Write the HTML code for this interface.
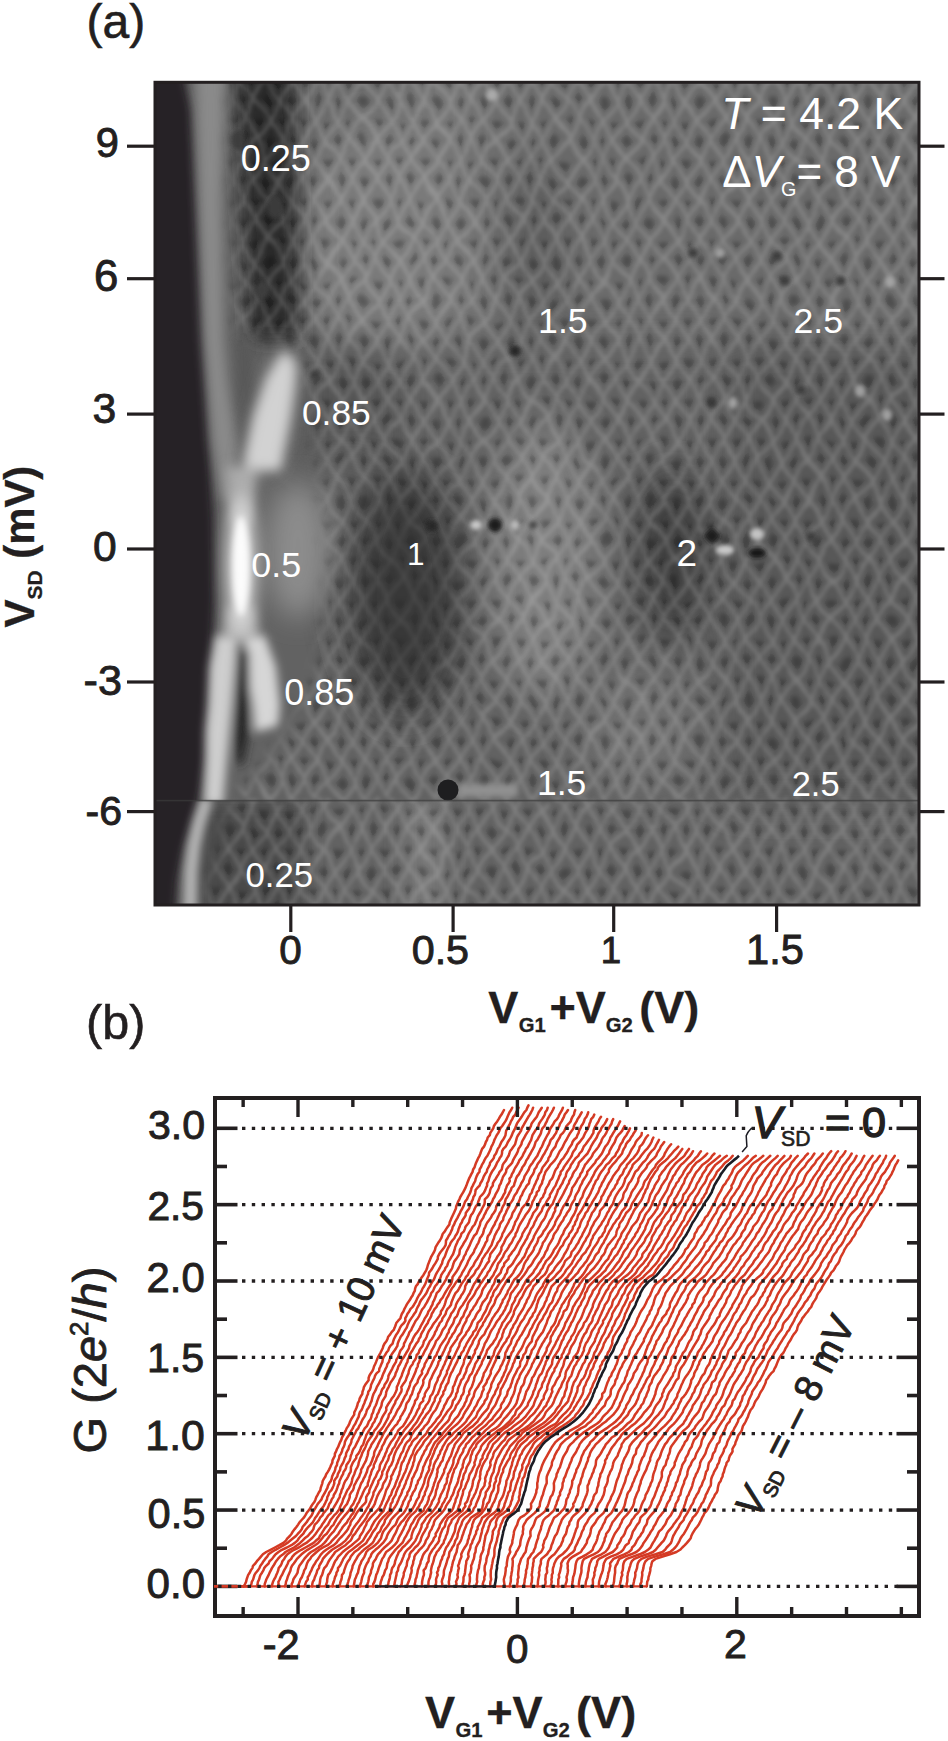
<!DOCTYPE html>
<html><head><meta charset="utf-8"><style>
html,body{margin:0;padding:0;background:#fff;width:948px;height:1741px;overflow:hidden}
svg{display:block}
text{font-family:"Liberation Sans",sans-serif}
</style></head><body>
<svg width="948" height="1741" viewBox="0 0 948 1741">
<rect width="948" height="1741" fill="#fff"/>

<defs>
<clipPath id="ca"><rect x="154" y="81" width="764" height="824"/></clipPath>
<clipPath id="cup"><rect x="154" y="81" width="764" height="719.5"/></clipPath>
<clipPath id="cdn"><rect x="154" y="800.5" width="764" height="104.5"/></clipPath>
<filter id="f2" filterUnits="userSpaceOnUse" x="0" y="0" width="948" height="1000"><feGaussianBlur stdDeviation="2"/></filter>
<filter id="f3" filterUnits="userSpaceOnUse" x="0" y="0" width="948" height="1000"><feGaussianBlur stdDeviation="3"/></filter>
<filter id="f4" filterUnits="userSpaceOnUse" x="0" y="0" width="948" height="1000"><feGaussianBlur stdDeviation="4"/></filter>
<filter id="f5" filterUnits="userSpaceOnUse" x="0" y="0" width="948" height="1000"><feGaussianBlur stdDeviation="5"/></filter>
<filter id="f6" filterUnits="userSpaceOnUse" x="0" y="0" width="948" height="1000"><feGaussianBlur stdDeviation="6"/></filter>
<filter id="f8" filterUnits="userSpaceOnUse" x="0" y="0" width="948" height="1000"><feGaussianBlur stdDeviation="8"/></filter>
<filter id="f10" filterUnits="userSpaceOnUse" x="0" y="0" width="948" height="1000"><feGaussianBlur stdDeviation="10"/></filter>
<filter id="f14" filterUnits="userSpaceOnUse" x="0" y="0" width="948" height="1000"><feGaussianBlur stdDeviation="14"/></filter>
<filter id="f20" filterUnits="userSpaceOnUse" x="0" y="0" width="948" height="1000"><feGaussianBlur stdDeviation="20"/></filter>
<filter id="f30" filterUnits="userSpaceOnUse" x="0" y="0" width="948" height="1000"><feGaussianBlur stdDeviation="30"/></filter>
<pattern id="mesh" width="24" height="40" patternUnits="userSpaceOnUse" patternTransform="translate(4,0)"><path d="M0,0 L12,20 L0,40 M24,0 L12,20 L24,40" fill="none" stroke="#fff" stroke-opacity="0.2" stroke-width="3.2"/><ellipse cx="12" cy="2" rx="3.6" ry="6" fill="#000" fill-opacity="0.26"/><ellipse cx="0" cy="22" rx="3.6" ry="6" fill="#000" fill-opacity="0.26"/><ellipse cx="24" cy="22" rx="3.6" ry="6" fill="#000" fill-opacity="0.26"/></pattern>
<pattern id="mesh2" width="24" height="40" patternUnits="userSpaceOnUse" patternTransform="translate(13,9)"><path d="M0,0 L12,20 L0,40 M24,0 L12,20 L24,40" fill="none" stroke="#fff" stroke-opacity="0.2" stroke-width="3.2"/><ellipse cx="12" cy="2" rx="3.6" ry="6" fill="#000" fill-opacity="0.26"/><ellipse cx="0" cy="22" rx="3.6" ry="6" fill="#000" fill-opacity="0.26"/><ellipse cx="24" cy="22" rx="3.6" ry="6" fill="#000" fill-opacity="0.26"/></pattern>
<filter id="disp" filterUnits="userSpaceOnUse" x="150" y="78" width="775" height="830"><feTurbulence type="fractalNoise" baseFrequency="0.03 0.02" numOctaves="2" seed="2" result="n"/><feDisplacementMap in="SourceGraphic" in2="n" scale="16" xChannelSelector="R" yChannelSelector="G" result="d"/><feGaussianBlur in="d" stdDeviation="2"/></filter>
<mask id="meshmask" maskUnits="userSpaceOnUse" x="150" y="78" width="775" height="830"><rect x="150" y="78" width="775" height="830" fill="#fff"/><g filter="url(#f8)"><polygon points="150,70 232,70 236,330 300,345 320,470 330,560 320,660 290,730 240,790 226,812 205,905 150,905" fill="#000"/></g><g filter="url(#f20)"><ellipse cx="405" cy="592" rx="45" ry="100" fill="#666"/></g></mask>
</defs>
<g clip-path="url(#ca)">
<rect x="154" y="81" width="764" height="824" fill="#626262"/>
<g filter="url(#f20)">
<rect x="290" y="40" width="680" height="300" fill="#6a6a6a"/>
<rect x="405" y="40" width="80" height="300" fill="#747474"/>
<ellipse cx="405" cy="592" rx="60" ry="128" fill="#383838"/>
<ellipse cx="545" cy="560" rx="55" ry="140" fill="#7e7e7e"/>
<ellipse cx="640" cy="730" rx="60" ry="60" fill="#707070"/>
<ellipse cx="672" cy="555" rx="38" ry="88" fill="#3e3e3e"/>
<ellipse cx="380" cy="240" rx="80" ry="120" fill="#7a7a7a"/>
<ellipse cx="535" cy="250" rx="25" ry="90" fill="#585858"/>
<path d="M830,600 L750,790" stroke="#464646" stroke-width="40" fill="none"/>
<rect x="300" y="340" width="100" height="120" fill="#545454"/>
<rect x="725" y="340" width="220" height="460" fill="#585858"/>
</g>
<g filter="url(#f10)">
<path d="M232,60 L295,60 L300,340 L250,340 Z" fill="#2a2a2a"/>
</g>
<g filter="url(#f14)">
<ellipse cx="298" cy="550" rx="32" ry="68" fill="#8c8c8c"/>
</g>
<g clip-path="url(#cdn)"><g filter="url(#f10)">
<rect x="195" y="800" width="110" height="120" fill="#484848"/>
<rect x="405" y="800" width="40" height="120" fill="#767676"/>
</g></g>
<g filter="url(#f4)">
<path d="M140,70 L184,70 L186,84 L192,110 L197,200 L203,320 L207,390 L210,450 L214,520 L215,600 L211,680 L206,760 L200,800 L192,825 L184,850 L178,880 L175,920 L140,920 Z" fill="#252328"/>
</g>
<g filter="url(#f6)">
<polygon points="195,70 199,200 204,340 212,440 222,500 238,500 236,440 228,384 224,340 222,200 226,70" fill="#8a8a8a"/>
</g>
<g filter="url(#f4)">
<polygon points="236,340 252,350 256,400 252,448 244,455 238,400" fill="#585858"/>
</g>
<g mask="url(#meshmask)"><g filter="url(#disp)"><rect x="214" y="71" width="714" height="729.5" fill="url(#mesh)"/><rect x="200" y="800.5" width="728" height="114.5" fill="url(#mesh2)"/></g></g>
<g filter="url(#f10)">
<polygon points="283,350 296,365 293,400 284,440 270,470 246,470 256,420 270,375" fill="#969696"/>
</g>
<g filter="url(#f6)">
<polygon points="284,350 295,362 295,378 290,416 283,454 281,470 244,470 246,454 254,416 267,378" fill="#d2d2d2"/>
<polygon points="226,467 258,467 251,525 232,525" fill="#acacac"/>
<polygon points="228,606 254,606 260,641 221,641" fill="#acacac"/>
</g>
<g filter="url(#f8)">
<ellipse cx="241" cy="566" rx="15" ry="72" fill="#d7d7d7"/>
</g>
<g filter="url(#f3)">
<ellipse cx="241" cy="566" rx="8.5" ry="50" fill="#fcfcfc"/>
</g>
<g clip-path="url(#cup)"><g filter="url(#f5)">
<polygon points="216,636 237,636 235,667 232,705 229.7,730 227,760 223,805 204,805 206,760 206,730 208.5,705 209.8,667" fill="#cecece"/>
<polygon points="245,636 265,636 276,667 280,705 278,726 255,732 252.8,705 246.5,667" fill="#d6d6d6"/>
<polygon points="237,650 249,650 250,700 248,740 243,765 237,765 234,740 235,700" fill="#282828"/>
</g></g>
<g clip-path="url(#cdn)"><g filter="url(#f4)">
<path d="M207,798 L199,823 L194,845 L191,870 L190,915" stroke="#b6b6b6" stroke-width="13" fill="none"/>
</g></g>
<g filter="url(#f3)"><rect x="458" y="784" width="60" height="13" fill="#919191"/></g>
<g filter="url(#f2)">
<ellipse cx="515" cy="351" rx="6" ry="6" fill="#282828"/>
<ellipse cx="432" cy="526" rx="6" ry="6" fill="#282828"/>
<ellipse cx="495" cy="525" rx="7" ry="7" fill="#1e1e1e"/>
<ellipse cx="533" cy="525" rx="4" ry="4" fill="#464646"/>
<ellipse cx="757" cy="553" rx="9" ry="5" fill="#191919"/>
<ellipse cx="811" cy="537" rx="5" ry="5" fill="#3c3c3c"/>
<ellipse cx="693" cy="253" rx="5" ry="5" fill="#3c3c3c"/>
<ellipse cx="777" cy="256" rx="5" ry="5" fill="#3c3c3c"/>
<ellipse cx="785" cy="281" rx="5" ry="5" fill="#3c3c3c"/>
<ellipse cx="841" cy="281" rx="5" ry="5" fill="#3c3c3c"/>
<ellipse cx="712" cy="403" rx="5" ry="5" fill="#373737"/>
<ellipse cx="801" cy="390" rx="5" ry="5" fill="#3c3c3c"/>
<ellipse cx="315" cy="375" rx="5" ry="5" fill="#3c3c3c"/>
<ellipse cx="238" cy="140" rx="7" ry="10" fill="#3c3c3c"/>
<ellipse cx="275" cy="207" rx="8" ry="12" fill="#3a3a3a"/>
<ellipse cx="262" cy="290" rx="7" ry="9" fill="#3e3e3e"/>
<path d="M712,527 L721,536 L712,545 L703,536 Z" fill="#1c1c1c"/>
<ellipse cx="476" cy="525" rx="6" ry="5" fill="#c8c8c8"/>
<ellipse cx="515" cy="525" rx="5" ry="5" fill="#b9b9b9"/>
<ellipse cx="725" cy="550" rx="9" ry="5" fill="#c8c8c8"/>
<ellipse cx="757" cy="534" rx="7" ry="6" fill="#c3c3c3"/>
<ellipse cx="492" cy="95" rx="6" ry="6" fill="#aaaaaa"/>
<ellipse cx="720" cy="253" rx="5" ry="5" fill="#a0a0a0"/>
<ellipse cx="890" cy="282" rx="5" ry="6" fill="#a5a5a5"/>
<ellipse cx="733" cy="403" rx="5" ry="6" fill="#a0a0a0"/>
<ellipse cx="860" cy="391" rx="5" ry="6" fill="#a0a0a0"/>
<ellipse cx="887" cy="415" rx="5" ry="6" fill="#a0a0a0"/>
</g>
<circle cx="448" cy="790" r="10.5" fill="#1e1e20"/>
<rect x="154" y="799.8" width="764" height="1.6" fill="#3c3c3c" opacity="0.7"/>
</g>
<rect x="155" y="82.3" width="764" height="822.7" fill="none" stroke="#231f20" stroke-width="3"/>
<line x1="127" y1="146.2" x2="154" y2="146.2" stroke="#231f20" stroke-width="3.2"/>
<line x1="918" y1="146.2" x2="944.5" y2="146.2" stroke="#231f20" stroke-width="3.2"/>
<line x1="127" y1="278.7" x2="154" y2="278.7" stroke="#231f20" stroke-width="3.2"/>
<line x1="918" y1="278.7" x2="944.5" y2="278.7" stroke="#231f20" stroke-width="3.2"/>
<line x1="127" y1="414.1" x2="154" y2="414.1" stroke="#231f20" stroke-width="3.2"/>
<line x1="918" y1="414.1" x2="944.5" y2="414.1" stroke="#231f20" stroke-width="3.2"/>
<line x1="127" y1="549" x2="154" y2="549" stroke="#231f20" stroke-width="3.2"/>
<line x1="918" y1="549" x2="944.5" y2="549" stroke="#231f20" stroke-width="3.2"/>
<line x1="127" y1="682" x2="154" y2="682" stroke="#231f20" stroke-width="3.2"/>
<line x1="918" y1="682" x2="944.5" y2="682" stroke="#231f20" stroke-width="3.2"/>
<line x1="127" y1="811.6" x2="154" y2="811.6" stroke="#231f20" stroke-width="3.2"/>
<line x1="918" y1="811.6" x2="944.5" y2="811.6" stroke="#231f20" stroke-width="3.2"/>
<line x1="290.8" y1="905" x2="290.8" y2="932" stroke="#231f20" stroke-width="3.2"/>
<line x1="453.1" y1="905" x2="453.1" y2="932" stroke="#231f20" stroke-width="3.2"/>
<line x1="613.7" y1="905" x2="613.7" y2="932" stroke="#231f20" stroke-width="3.2"/>
<line x1="776.6" y1="905" x2="776.6" y2="932" stroke="#231f20" stroke-width="3.2"/>
<line x1="214" y1="1586.4" x2="647" y2="1586.4" stroke="#d43a24" stroke-width="2.4"/>
<g fill="none" stroke="#d43a24" stroke-width="2.5" stroke-linejoin="round" stroke-linecap="round">
<path d="M243.7,1586.4 245.0,1584.1 246.1,1581.8 246.6,1579.5 247.4,1577.2 248.2,1574.9 249.7,1572.7 250.8,1570.4 252.4,1568.1 253.0,1565.8 255.3,1563.5 256.9,1561.2 259.0,1558.9 260.9,1556.6 262.9,1554.3 266.2,1552.0 270.5,1549.8 274.9,1547.5 279.3,1545.2 283.4,1542.9 285.9,1540.6 287.4,1538.3 289.8,1536.0 291.6,1533.7 292.9,1531.4 294.7,1529.1 296.6,1526.8 298.1,1524.6 299.5,1522.3 301.6,1520.0 303.8,1517.7 305.3,1515.4 306.6,1513.1 308.4,1510.8 310.1,1508.5 311.3,1506.2 312.8,1503.9 314.5,1501.7 315.5,1499.4 316.3,1497.1 317.6,1494.8 318.8,1492.5 320.3,1490.2 320.7,1487.9 321.5,1485.6 322.3,1483.3 322.7,1481.0 324.0,1478.7 325.4,1476.5 326.2,1474.2 327.8,1471.9 329.1,1469.6 330.2,1467.3 331.1,1465.0 332.3,1462.7 332.5,1460.4 333.6,1458.1 334.8,1455.8 334.9,1453.6 336.1,1451.3 337.0,1449.0 338.3,1446.7 339.1,1444.4 340.1,1442.1 341.3,1439.8 342.0,1437.5 343.4,1435.2 344.4,1432.9 345.7,1430.6 346.6,1428.4 348.1,1426.1 349.3,1423.8 350.1,1421.5 351.3,1419.2 352.7,1416.9 354.2,1414.6 354.3,1412.3 355.5,1410.0 356.5,1407.7 357.3,1405.5 357.8,1403.2 359.2,1400.9 359.6,1398.6 360.8,1396.3 362.3,1394.0 362.5,1391.7 363.4,1389.4 363.9,1387.1 365.2,1384.8 366.9,1382.5 368.6,1380.3 368.6,1378.0 369.4,1375.7 370.7,1373.4 372.4,1371.1 373.4,1368.8 374.0,1366.5 375.1,1364.2 376.1,1361.9 377.0,1359.6 377.9,1357.4 379.2,1355.1 380.5,1352.8 381.6,1350.5 382.7,1348.2 383.4,1345.9 384.5,1343.6 386.4,1341.3 387.5,1339.0 388.2,1336.7 390.2,1334.4 391.6,1332.2 393.7,1329.9 394.7,1327.6 395.6,1325.3 396.3,1323.0 398.2,1320.7 400.4,1318.4 401.0,1316.1 401.9,1313.8 403.4,1311.5 404.3,1309.2 405.5,1307.0 406.7,1304.7 408.1,1302.4 409.8,1300.1 411.0,1297.8 412.6,1295.5 413.5,1293.2 414.8,1290.9 415.1,1288.6 415.9,1286.3 417.7,1284.1 418.8,1281.8 420.4,1279.5 421.8,1277.2 423.5,1274.9 424.8,1272.6 426.2,1270.3 427.1,1268.0 427.7,1265.7 428.5,1263.4 429.5,1261.1 430.3,1258.9 431.3,1256.6 432.6,1254.3 434.0,1252.0 435.0,1249.7 435.5,1247.4 436.8,1245.1 438.2,1242.8 439.9,1240.5 441.2,1238.2 442.0,1236.0 442.8,1233.7 444.8,1231.4 446.1,1229.1 447.7,1226.8 449.4,1224.5 449.7,1222.2 450.7,1219.9 451.7,1217.6 452.8,1215.3 453.9,1213.0 454.9,1210.8 455.9,1208.5 456.2,1206.2 457.3,1203.9 458.1,1201.6 459.4,1199.3 460.3,1197.0 461.7,1194.7 463.1,1192.4 464.3,1190.1 465.4,1187.9 466.4,1185.6 467.2,1183.3 468.1,1181.0 469.0,1178.7 470.2,1176.4 471.3,1174.1 472.6,1171.8 473.1,1169.5 474.6,1167.2 475.3,1164.9 476.1,1162.7 477.2,1160.4 478.2,1158.1 479.5,1155.8 480.4,1153.5 481.2,1151.2 482.1,1148.9 484.0,1146.6 485.1,1144.3 485.8,1142.0 487.1,1139.8 487.7,1137.5 489.8,1135.2 490.3,1132.9 491.8,1130.6 493.3,1128.3 493.9,1126.0 495.4,1123.7 497.2,1121.4 498.6,1119.1 499.9,1116.8 501.5,1114.6 502.7,1112.3 504.0,1110.0"/>
<path d="M250.5,1586.4 251.4,1584.1 251.8,1581.8 253.1,1579.5 253.8,1577.2 254.5,1574.9 255.9,1572.7 257.9,1570.4 259.4,1568.1 260.4,1565.8 262.1,1563.5 263.5,1561.2 265.2,1558.9 267.2,1556.6 268.5,1554.3 271.8,1552.0 275.5,1549.8 279.8,1547.5 283.9,1545.2 287.4,1542.9 290.3,1540.6 293.1,1538.3 295.9,1536.0 297.9,1533.7 300.2,1531.4 301.8,1529.1 302.7,1526.8 304.6,1524.6 306.6,1522.3 308.0,1520.0 309.8,1517.7 311.6,1515.4 312.7,1513.1 313.6,1510.8 315.1,1508.5 316.5,1506.2 317.8,1503.9 319.6,1501.7 321.5,1499.4 322.3,1497.1 323.6,1494.8 325.0,1492.5 326.2,1490.2 327.4,1487.9 328.0,1485.6 329.2,1483.3 330.8,1481.0 331.7,1478.7 332.1,1476.5 333.1,1474.2 334.4,1471.9 335.2,1469.6 335.6,1467.3 337.0,1465.0 337.2,1462.7 338.3,1460.4 339.1,1458.1 339.5,1455.8 341.0,1453.6 342.0,1451.3 342.5,1449.0 343.8,1446.7 344.6,1444.4 344.9,1442.1 345.9,1439.8 347.3,1437.5 348.9,1435.2 350.1,1432.9 351.3,1430.6 352.7,1428.4 353.7,1426.1 355.3,1423.8 356.3,1421.5 357.4,1419.2 358.6,1416.9 359.1,1414.6 359.8,1412.3 361.5,1410.0 362.5,1407.7 363.3,1405.5 364.4,1403.2 365.1,1400.9 366.2,1398.6 366.9,1396.3 368.0,1394.0 368.3,1391.7 370.0,1389.4 370.7,1387.1 371.1,1384.8 372.2,1382.5 373.2,1380.3 374.4,1378.0 375.1,1375.7 376.5,1373.4 379.1,1371.1 379.3,1368.8 380.4,1366.5 381.3,1364.2 382.4,1361.9 382.7,1359.6 383.5,1357.4 385.0,1355.1 386.3,1352.8 388.2,1350.5 389.0,1348.2 390.3,1345.9 392.6,1343.6 393.2,1341.3 394.0,1339.0 395.2,1336.7 396.4,1334.4 398.0,1332.2 399.2,1329.9 400.1,1327.6 401.5,1325.3 403.9,1323.0 405.4,1320.7 405.2,1318.4 406.5,1316.1 407.5,1313.8 409.2,1311.5 410.4,1309.2 412.5,1307.0 414.0,1304.7 415.4,1302.4 416.5,1300.1 417.5,1297.8 418.8,1295.5 420.4,1293.2 421.6,1290.9 422.5,1288.6 424.1,1286.3 425.2,1284.1 426.2,1281.8 426.9,1279.5 427.9,1277.2 428.9,1274.9 429.1,1272.6 431.0,1270.3 432.5,1268.0 433.7,1265.7 435.3,1263.4 436.6,1261.1 437.8,1258.9 437.9,1256.6 439.1,1254.3 440.6,1252.0 442.4,1249.7 444.2,1247.4 445.6,1245.1 445.9,1242.8 446.0,1240.5 447.5,1238.2 448.6,1236.0 450.1,1233.7 451.1,1231.4 452.2,1229.1 452.7,1226.8 454.1,1224.5 455.0,1222.2 456.3,1219.9 457.6,1217.6 458.7,1215.3 459.9,1213.0 460.9,1210.8 462.3,1208.5 463.5,1206.2 464.3,1203.9 465.1,1201.6 467.0,1199.3 467.9,1197.0 469.2,1194.7 470.3,1192.4 471.0,1190.1 471.6,1187.9 472.8,1185.6 473.9,1183.3 475.2,1181.0 475.7,1178.7 476.6,1176.4 477.7,1174.1 479.5,1171.8 479.6,1169.5 481.0,1167.2 481.9,1164.9 483.3,1162.7 484.3,1160.4 485.6,1158.1 487.4,1155.8 488.5,1153.5 489.6,1151.2 490.7,1148.9 491.4,1146.6 492.7,1144.3 493.7,1142.0 494.4,1139.8 495.6,1137.5 496.7,1135.2 498.3,1132.9 499.4,1130.6 500.3,1128.3 502.2,1126.0 503.7,1123.7 505.3,1121.4 506.6,1119.1 507.5,1116.8 508.5,1114.6 509.5,1112.3 511.1,1110.0 512.2,1107.7"/>
<path d="M256.8,1586.4 257.6,1584.1 257.9,1581.8 259.1,1579.5 259.7,1577.2 260.5,1574.9 262.0,1572.7 263.4,1570.4 264.2,1568.1 266.1,1565.8 268.6,1563.5 269.5,1561.2 272.1,1558.9 273.7,1556.6 275.6,1554.3 278.5,1552.0 281.9,1549.8 286.9,1547.5 291.4,1545.2 294.8,1542.9 297.4,1540.6 298.9,1538.3 300.9,1536.0 303.4,1533.7 304.6,1531.4 306.4,1529.1 308.4,1526.8 310.6,1524.6 312.8,1522.3 314.1,1520.0 315.3,1517.7 317.1,1515.4 318.5,1513.1 319.9,1510.8 321.7,1508.5 323.6,1506.2 324.8,1503.9 325.8,1501.7 327.0,1499.4 327.3,1497.1 328.5,1494.8 329.2,1492.5 331.4,1490.2 332.6,1487.9 333.5,1485.6 334.3,1483.3 334.2,1481.0 335.6,1478.7 337.3,1476.5 337.8,1474.2 339.0,1471.9 340.2,1469.6 340.4,1467.3 341.7,1465.0 343.1,1462.7 344.0,1460.4 344.7,1458.1 345.9,1455.8 346.1,1453.6 347.1,1451.3 348.5,1449.0 349.0,1446.7 350.4,1444.4 351.3,1442.1 351.6,1439.8 352.9,1437.5 353.9,1435.2 355.4,1432.9 356.3,1430.6 358.2,1428.4 359.2,1426.1 360.6,1423.8 361.6,1421.5 362.7,1419.2 364.3,1416.9 365.5,1414.6 366.3,1412.3 366.9,1410.0 368.5,1407.7 369.8,1405.5 370.5,1403.2 371.6,1400.9 372.1,1398.6 372.7,1396.3 373.5,1394.0 374.8,1391.7 376.0,1389.4 376.8,1387.1 378.1,1384.8 379.5,1382.5 380.4,1380.3 381.8,1378.0 382.5,1375.7 383.4,1373.4 384.6,1371.1 385.5,1368.8 386.8,1366.5 387.3,1364.2 388.9,1361.9 389.6,1359.6 390.6,1357.4 391.2,1355.1 392.8,1352.8 394.5,1350.5 396.0,1348.2 397.4,1345.9 397.7,1343.6 398.6,1341.3 399.7,1339.0 400.7,1336.7 402.6,1334.4 403.9,1332.2 405.2,1329.9 406.7,1327.6 407.5,1325.3 408.5,1323.0 409.6,1320.7 411.2,1318.4 412.8,1316.1 414.3,1313.8 416.0,1311.5 416.6,1309.2 417.7,1307.0 419.1,1304.7 419.9,1302.4 421.1,1300.1 423.0,1297.8 424.7,1295.5 426.3,1293.2 427.4,1290.9 428.4,1288.6 430.0,1286.3 430.9,1284.1 432.2,1281.8 433.9,1279.5 434.8,1277.2 435.7,1274.9 436.9,1272.6 438.3,1270.3 439.7,1268.0 440.8,1265.7 442.1,1263.4 442.5,1261.1 443.4,1258.9 444.8,1256.6 445.6,1254.3 446.4,1252.0 447.3,1249.7 448.4,1247.4 449.8,1245.1 450.7,1242.8 452.3,1240.5 454.3,1238.2 455.3,1236.0 456.9,1233.7 458.0,1231.4 458.6,1229.1 459.6,1226.8 460.3,1224.5 461.9,1222.2 462.6,1219.9 464.3,1217.6 465.6,1215.3 465.8,1213.0 467.4,1210.8 469.2,1208.5 469.8,1206.2 471.3,1203.9 471.6,1201.6 472.9,1199.3 473.4,1197.0 474.9,1194.7 475.3,1192.4 475.6,1190.1 477.3,1187.9 479.6,1185.6 480.4,1183.3 481.9,1181.0 482.9,1178.7 483.8,1176.4 485.1,1174.1 486.8,1171.8 487.2,1169.5 488.5,1167.2 489.7,1164.9 490.1,1162.7 492.0,1160.4 493.8,1158.1 494.3,1155.8 496.0,1153.5 496.9,1151.2 497.8,1148.9 499.4,1146.6 500.4,1144.3 501.4,1142.0 503.0,1139.8 504.4,1137.5 505.5,1135.2 505.8,1132.9 506.2,1130.6 507.9,1128.3 508.7,1126.0 510.1,1123.7 510.9,1121.4 512.3,1119.1 513.2,1116.8 515.3,1114.6 516.1,1112.3 517.4,1110.0 518.6,1107.7"/>
<path d="M264.7,1586.4 264.7,1584.1 265.5,1581.8 266.3,1579.5 267.5,1577.2 268.7,1574.9 269.6,1572.7 270.8,1570.4 271.9,1568.1 273.4,1565.8 274.8,1563.5 276.1,1561.2 277.9,1558.9 280.0,1556.6 283.1,1554.3 285.5,1552.0 289.3,1549.8 294.0,1547.5 297.1,1545.2 300.1,1542.9 302.5,1540.6 304.7,1538.3 307.8,1536.0 309.7,1533.7 311.9,1531.4 313.4,1529.1 314.0,1526.8 314.8,1524.6 317.2,1522.3 319.0,1520.0 320.1,1517.7 322.4,1515.4 323.5,1513.1 325.6,1510.8 327.6,1508.5 328.5,1506.2 329.3,1503.9 330.9,1501.7 331.7,1499.4 333.3,1497.1 333.9,1494.8 335.4,1492.5 336.5,1490.2 337.3,1487.9 338.0,1485.6 339.2,1483.3 339.5,1481.0 340.6,1478.7 341.6,1476.5 343.0,1474.2 343.5,1471.9 345.3,1469.6 346.1,1467.3 346.5,1465.0 348.1,1462.7 349.7,1460.4 350.3,1458.1 350.8,1455.8 351.7,1453.6 352.4,1451.3 353.4,1449.0 355.1,1446.7 356.2,1444.4 357.3,1442.1 358.5,1439.8 359.5,1437.5 361.0,1435.2 362.5,1432.9 363.5,1430.6 364.7,1428.4 366.9,1426.1 368.0,1423.8 368.8,1421.5 370.6,1419.2 371.4,1416.9 371.8,1414.6 373.1,1412.3 373.6,1410.0 374.5,1407.7 375.7,1405.5 376.6,1403.2 377.3,1400.9 378.2,1398.6 379.1,1396.3 380.6,1394.0 381.3,1391.7 382.1,1389.4 384.0,1387.1 384.6,1384.8 386.2,1382.5 387.5,1380.3 388.2,1378.0 388.5,1375.7 389.7,1373.4 390.9,1371.1 392.2,1368.8 393.2,1366.5 394.6,1364.2 396.0,1361.9 396.4,1359.6 397.9,1357.4 398.9,1355.1 399.6,1352.8 400.5,1350.5 402.4,1348.2 403.8,1345.9 404.0,1343.6 405.3,1341.3 406.4,1339.0 407.6,1336.7 408.7,1334.4 409.4,1332.2 411.2,1329.9 412.2,1327.6 413.4,1325.3 414.6,1323.0 415.8,1320.7 417.6,1318.4 419.1,1316.1 420.1,1313.8 421.1,1311.5 422.3,1309.2 424.2,1307.0 425.5,1304.7 426.9,1302.4 428.0,1300.1 429.2,1297.8 430.5,1295.5 431.1,1293.2 433.1,1290.9 434.0,1288.6 435.1,1286.3 437.0,1284.1 438.3,1281.8 439.6,1279.5 440.6,1277.2 441.3,1274.9 442.8,1272.6 444.6,1270.3 445.4,1268.0 447.2,1265.7 447.9,1263.4 448.8,1261.1 450.3,1258.9 451.5,1256.6 453.0,1254.3 453.8,1252.0 454.6,1249.7 455.1,1247.4 456.0,1245.1 457.1,1242.8 458.0,1240.5 459.7,1238.2 460.8,1236.0 461.4,1233.7 463.9,1231.4 464.8,1229.1 465.5,1226.8 467.3,1224.5 469.0,1222.2 469.5,1219.9 470.1,1217.6 471.0,1215.3 472.8,1213.0 473.9,1210.8 474.8,1208.5 476.0,1206.2 477.7,1203.9 478.3,1201.6 479.3,1199.3 480.0,1197.0 482.2,1194.7 484.0,1192.4 485.2,1190.1 486.0,1187.9 487.1,1185.6 487.1,1183.3 488.4,1181.0 489.0,1178.7 489.7,1176.4 490.7,1174.1 491.9,1171.8 493.5,1169.5 495.0,1167.2 496.2,1164.9 497.0,1162.7 498.6,1160.4 499.7,1158.1 501.4,1155.8 502.0,1153.5 502.1,1151.2 503.3,1148.9 505.6,1146.6 506.9,1144.3 507.9,1142.0 509.4,1139.8 510.7,1137.5 511.9,1135.2 512.7,1132.9 513.9,1130.6 515.1,1128.3 516.0,1126.0 516.9,1123.7 518.3,1121.4 520.1,1119.1 521.6,1116.8 522.9,1114.6 524.3,1112.3 526.4,1110.0 527.3,1107.7 528.5,1105.4"/>
<path d="M271.8,1586.4 272.3,1584.1 273.0,1581.8 274.1,1579.5 275.5,1577.2 276.3,1574.9 277.3,1572.7 278.2,1570.4 278.7,1568.1 280.5,1565.8 281.7,1563.5 282.4,1561.2 284.2,1558.9 285.5,1556.6 287.4,1554.3 290.5,1552.0 294.0,1549.8 298.8,1547.5 302.4,1545.2 306.3,1542.9 309.2,1540.6 311.8,1538.3 313.9,1536.0 315.7,1533.7 317.3,1531.4 318.9,1529.1 320.9,1526.8 322.1,1524.6 323.8,1522.3 325.2,1520.0 326.8,1517.7 328.3,1515.4 330.8,1513.1 331.9,1510.8 333.2,1508.5 334.5,1506.2 335.9,1503.9 337.2,1501.7 338.3,1499.4 339.7,1497.1 340.0,1494.8 341.1,1492.5 341.6,1490.2 342.8,1487.9 343.4,1485.6 344.2,1483.3 345.3,1481.0 347.0,1478.7 348.2,1476.5 349.1,1474.2 350.6,1471.9 350.9,1469.6 350.9,1467.3 351.8,1465.0 352.8,1462.7 354.4,1460.4 356.2,1458.1 356.4,1455.8 358.3,1453.6 359.6,1451.3 360.6,1449.0 361.4,1446.7 363.2,1444.4 363.9,1442.1 364.6,1439.8 365.6,1437.5 366.2,1435.2 367.7,1432.9 369.0,1430.6 370.5,1428.4 371.9,1426.1 372.8,1423.8 374.6,1421.5 375.3,1419.2 376.8,1416.9 377.2,1414.6 378.6,1412.3 379.4,1410.0 380.6,1407.7 381.5,1405.5 381.8,1403.2 382.6,1400.9 384.0,1398.6 385.5,1396.3 386.0,1394.0 386.3,1391.7 387.3,1389.4 388.6,1387.1 389.6,1384.8 390.6,1382.5 392.2,1380.3 393.7,1378.0 395.1,1375.7 395.6,1373.4 396.7,1371.1 397.7,1368.8 398.3,1366.5 399.8,1364.2 401.0,1361.9 401.9,1359.6 403.7,1357.4 405.0,1355.1 406.3,1352.8 407.8,1350.5 409.0,1348.2 409.4,1345.9 410.4,1343.6 412.0,1341.3 412.8,1339.0 414.0,1336.7 415.4,1334.4 417.2,1332.2 418.8,1329.9 420.1,1327.6 421.1,1325.3 422.5,1323.0 423.8,1320.7 424.7,1318.4 426.4,1316.1 427.6,1313.8 428.4,1311.5 430.1,1309.2 431.0,1307.0 432.4,1304.7 432.9,1302.4 434.2,1300.1 435.1,1297.8 436.0,1295.5 436.7,1293.2 439.1,1290.9 440.4,1288.6 441.7,1286.3 443.4,1284.1 444.6,1281.8 446.1,1279.5 446.8,1277.2 448.3,1274.9 449.4,1272.6 450.9,1270.3 452.2,1268.0 452.9,1265.7 453.5,1263.4 454.5,1261.1 456.3,1258.9 457.8,1256.6 459.3,1254.3 459.6,1252.0 459.9,1249.7 461.3,1247.4 462.7,1245.1 463.9,1242.8 465.5,1240.5 466.8,1238.2 467.6,1236.0 468.6,1233.7 470.0,1231.4 471.4,1229.1 472.6,1226.8 474.7,1224.5 475.6,1222.2 476.7,1219.9 477.4,1217.6 478.4,1215.3 479.8,1213.0 481.1,1210.8 482.1,1208.5 483.4,1206.2 484.5,1203.9 484.8,1201.6 484.8,1199.3 487.3,1197.0 488.8,1194.7 489.8,1192.4 490.2,1190.1 491.0,1187.9 492.8,1185.6 492.9,1183.3 494.1,1181.0 495.8,1178.7 497.1,1176.4 498.6,1174.1 499.6,1171.8 501.7,1169.5 502.2,1167.2 502.7,1164.9 504.1,1162.7 506.0,1160.4 507.1,1158.1 508.6,1155.8 509.4,1153.5 510.0,1151.2 511.8,1148.9 513.5,1146.6 515.1,1144.3 515.7,1142.0 516.3,1139.8 516.9,1137.5 518.1,1135.2 519.7,1132.9 521.1,1130.6 521.7,1128.3 523.1,1126.0 524.4,1123.7 525.7,1121.4 527.0,1119.1 528.3,1116.8 529.8,1114.6 531.0,1112.3 532.3,1110.0 533.1,1107.7"/>
<path d="M278.0,1586.4 278.6,1584.1 278.4,1581.8 279.7,1579.5 280.6,1577.2 282.0,1574.9 283.0,1572.7 284.1,1570.4 285.4,1568.1 286.6,1565.8 287.8,1563.5 288.6,1561.2 291.2,1558.9 292.4,1556.6 294.5,1554.3 297.6,1552.0 301.3,1549.8 305.5,1547.5 309.7,1545.2 313.6,1542.9 316.0,1540.6 318.9,1538.3 319.9,1536.0 321.5,1533.7 322.9,1531.4 324.3,1529.1 326.0,1526.8 328.1,1524.6 329.2,1522.3 330.4,1520.0 332.3,1517.7 334.1,1515.4 336.6,1513.1 338.3,1510.8 339.5,1508.5 340.4,1506.2 341.6,1503.9 342.5,1501.7 343.1,1499.4 344.2,1497.1 345.3,1494.8 346.3,1492.5 347.3,1490.2 349.0,1487.9 350.2,1485.6 351.4,1483.3 351.9,1481.0 352.3,1478.7 353.2,1476.5 354.3,1474.2 355.0,1471.9 355.9,1469.6 357.3,1467.3 358.3,1465.0 358.7,1462.7 359.5,1460.4 360.3,1458.1 361.4,1455.8 362.0,1453.6 363.1,1451.3 364.5,1449.0 365.6,1446.7 366.4,1444.4 367.4,1442.1 368.9,1439.8 370.5,1437.5 372.2,1435.2 373.4,1432.9 374.3,1430.6 376.4,1428.4 377.9,1426.1 379.4,1423.8 380.7,1421.5 381.4,1419.2 382.5,1416.9 383.8,1414.6 385.4,1412.3 386.4,1410.0 386.2,1407.7 387.4,1405.5 388.8,1403.2 390.4,1400.9 391.7,1398.6 393.6,1396.3 394.8,1394.0 395.9,1391.7 396.8,1389.4 396.8,1387.1 397.9,1384.8 398.9,1382.5 399.5,1380.3 400.6,1378.0 401.7,1375.7 402.3,1373.4 403.3,1371.1 404.2,1368.8 405.3,1366.5 406.2,1364.2 407.5,1361.9 407.8,1359.6 409.0,1357.4 409.6,1355.1 410.8,1352.8 412.4,1350.5 413.7,1348.2 415.0,1345.9 416.3,1343.6 418.2,1341.3 418.9,1339.0 420.5,1336.7 421.1,1334.4 422.2,1332.2 423.7,1329.9 424.7,1327.6 426.2,1325.3 427.8,1323.0 428.6,1320.7 430.0,1318.4 431.2,1316.1 431.8,1313.8 433.3,1311.5 434.5,1309.2 436.5,1307.0 437.5,1304.7 439.5,1302.4 440.5,1300.1 442.5,1297.8 443.7,1295.5 445.0,1293.2 446.3,1290.9 447.7,1288.6 449.3,1286.3 450.9,1284.1 451.7,1281.8 452.3,1279.5 452.5,1277.2 454.0,1274.9 455.8,1272.6 457.2,1270.3 458.6,1268.0 459.7,1265.7 460.7,1263.4 461.9,1261.1 463.3,1258.9 463.9,1256.6 465.5,1254.3 466.2,1252.0 467.5,1249.7 468.6,1247.4 469.8,1245.1 470.7,1242.8 471.7,1240.5 473.0,1238.2 474.0,1236.0 476.4,1233.7 477.3,1231.4 478.2,1229.1 479.2,1226.8 480.0,1224.5 480.4,1222.2 481.8,1219.9 483.3,1217.6 484.1,1215.3 485.5,1213.0 486.4,1210.8 487.8,1208.5 489.3,1206.2 490.8,1203.9 492.2,1201.6 493.0,1199.3 494.5,1197.0 495.4,1194.7 496.7,1192.4 498.0,1190.1 498.9,1187.9 499.4,1185.6 500.8,1183.3 501.5,1181.0 502.4,1178.7 503.2,1176.4 504.9,1174.1 506.1,1171.8 506.4,1169.5 508.1,1167.2 510.3,1164.9 512.2,1162.7 513.0,1160.4 514.2,1158.1 515.5,1155.8 516.9,1153.5 517.9,1151.2 518.5,1148.9 520.0,1146.6 521.4,1144.3 521.9,1142.0 523.0,1139.8 524.4,1137.5 525.6,1135.2 527.0,1132.9 528.5,1130.6 529.8,1128.3 530.9,1126.0 531.5,1123.7 533.1,1121.4 534.9,1119.1 536.8,1116.8 537.7,1114.6 538.7,1112.3 540.3,1110.0 541.8,1107.7"/>
<path d="M284.8,1586.4 285.7,1584.1 286.0,1581.8 287.0,1579.5 287.6,1577.2 288.5,1574.9 289.5,1572.7 290.5,1570.4 290.9,1568.1 292.0,1565.8 293.8,1563.5 295.4,1561.2 297.0,1558.9 299.2,1556.6 301.5,1554.3 304.4,1552.0 307.5,1549.8 311.4,1547.5 315.1,1545.2 318.2,1542.9 320.2,1540.6 322.2,1538.3 323.8,1536.0 326.7,1533.7 328.3,1531.4 329.8,1529.1 331.2,1526.8 333.6,1524.6 334.6,1522.3 336.0,1520.0 337.3,1517.7 339.0,1515.4 340.9,1513.1 343.0,1510.8 343.7,1508.5 345.1,1506.2 347.1,1503.9 347.9,1501.7 349.0,1499.4 349.7,1497.1 349.8,1494.8 351.1,1492.5 352.9,1490.2 353.8,1487.9 354.1,1485.6 355.4,1483.3 356.6,1481.0 358.0,1478.7 359.3,1476.5 360.0,1474.2 361.0,1471.9 361.1,1469.6 362.6,1467.3 363.6,1465.0 364.9,1462.7 366.1,1460.4 366.7,1458.1 367.5,1455.8 368.0,1453.6 368.2,1451.3 369.4,1449.0 370.7,1446.7 371.5,1444.4 373.2,1442.1 374.6,1439.8 376.2,1437.5 377.3,1435.2 378.1,1432.9 380.1,1430.6 382.0,1428.4 383.5,1426.1 384.8,1423.8 386.1,1421.5 387.4,1419.2 388.4,1416.9 388.9,1414.6 390.7,1412.3 391.4,1410.0 392.6,1407.7 393.7,1405.5 395.1,1403.2 395.6,1400.9 397.3,1398.6 398.6,1396.3 399.9,1394.0 401.3,1391.7 401.7,1389.4 401.3,1387.1 402.7,1384.8 404.4,1382.5 405.8,1380.3 406.5,1378.0 407.4,1375.7 408.5,1373.4 408.8,1371.1 409.7,1368.8 410.7,1366.5 412.6,1364.2 413.4,1361.9 415.2,1359.6 416.2,1357.4 416.6,1355.1 418.7,1352.8 419.3,1350.5 420.7,1348.2 422.5,1345.9 423.3,1343.6 423.9,1341.3 425.6,1339.0 426.7,1336.7 427.4,1334.4 428.3,1332.2 429.6,1329.9 431.4,1327.6 432.6,1325.3 434.1,1323.0 436.0,1320.7 437.6,1318.4 439.2,1316.1 440.7,1313.8 440.9,1311.5 442.5,1309.2 443.7,1307.0 444.7,1304.7 445.4,1302.4 446.0,1300.1 447.0,1297.8 448.4,1295.5 449.4,1293.2 450.5,1290.9 451.8,1288.6 453.6,1286.3 454.9,1284.1 456.3,1281.8 458.4,1279.5 459.7,1277.2 461.3,1274.9 462.2,1272.6 463.7,1270.3 465.0,1268.0 466.3,1265.7 467.4,1263.4 468.2,1261.1 469.5,1258.9 470.6,1256.6 472.4,1254.3 473.9,1252.0 474.6,1249.7 476.0,1247.4 477.0,1245.1 478.4,1242.8 479.3,1240.5 479.9,1238.2 481.6,1236.0 483.0,1233.7 483.6,1231.4 484.1,1229.1 485.3,1226.8 486.2,1224.5 487.5,1222.2 489.2,1219.9 491.0,1217.6 492.0,1215.3 493.7,1213.0 495.2,1210.8 495.9,1208.5 496.3,1206.2 497.8,1203.9 499.2,1201.6 501.2,1199.3 502.6,1197.0 503.6,1194.7 505.1,1192.4 505.3,1190.1 506.2,1187.9 507.0,1185.6 508.7,1183.3 509.8,1181.0 509.4,1178.7 511.2,1176.4 511.9,1174.1 513.4,1171.8 514.3,1169.5 515.6,1167.2 517.1,1164.9 518.4,1162.7 519.3,1160.4 521.2,1158.1 522.6,1155.8 523.6,1153.5 525.0,1151.2 525.9,1148.9 527.8,1146.6 528.8,1144.3 530.0,1142.0 531.2,1139.8 531.8,1137.5 532.5,1135.2 533.9,1132.9 535.3,1130.6 537.1,1128.3 538.4,1126.0 539.0,1123.7 540.5,1121.4 542.1,1119.1 543.6,1116.8 544.8,1114.6 545.3,1112.3 547.0,1110.0 547.7,1107.7"/>
<path d="M291.8,1586.4 291.7,1584.1 292.8,1581.8 293.3,1579.5 294.7,1577.2 296.3,1574.9 297.6,1572.7 297.9,1570.4 298.5,1568.1 299.4,1565.8 301.1,1563.5 302.7,1561.2 304.3,1558.9 306.2,1556.6 308.3,1554.3 311.0,1552.0 314.9,1549.8 318.4,1547.5 322.0,1545.2 324.4,1542.9 326.3,1540.6 328.0,1538.3 329.5,1536.0 331.5,1533.7 333.8,1531.4 335.2,1529.1 336.7,1526.8 338.1,1524.6 339.8,1522.3 341.1,1520.0 343.0,1517.7 344.9,1515.4 346.9,1513.1 348.8,1510.8 350.1,1508.5 351.4,1506.2 353.3,1503.9 354.2,1501.7 355.4,1499.4 356.3,1497.1 357.0,1494.8 357.8,1492.5 358.5,1490.2 359.6,1487.9 360.3,1485.6 361.2,1483.3 362.7,1481.0 363.6,1478.7 364.9,1476.5 365.8,1474.2 366.9,1471.9 367.4,1469.6 368.3,1467.3 370.2,1465.0 371.1,1462.7 372.2,1460.4 372.8,1458.1 373.9,1455.8 374.1,1453.6 374.6,1451.3 375.9,1449.0 377.2,1446.7 378.1,1444.4 379.2,1442.1 380.4,1439.8 381.7,1437.5 382.7,1435.2 383.8,1432.9 385.5,1430.6 386.6,1428.4 388.2,1426.1 389.8,1423.8 391.1,1421.5 392.8,1419.2 394.1,1416.9 395.5,1414.6 396.5,1412.3 397.6,1410.0 399.2,1407.7 400.5,1405.5 401.5,1403.2 402.7,1400.9 403.8,1398.6 404.9,1396.3 406.5,1394.0 407.1,1391.7 408.2,1389.4 409.2,1387.1 409.9,1384.8 410.4,1382.5 411.7,1380.3 412.8,1378.0 413.8,1375.7 414.8,1373.4 415.8,1371.1 416.4,1368.8 417.7,1366.5 418.0,1364.2 419.3,1361.9 419.9,1359.6 421.2,1357.4 422.8,1355.1 423.9,1352.8 425.0,1350.5 426.5,1348.2 427.6,1345.9 428.7,1343.6 429.8,1341.3 431.8,1339.0 433.2,1336.7 434.5,1334.4 435.1,1332.2 436.6,1329.9 437.3,1327.6 438.8,1325.3 439.7,1323.0 441.9,1320.7 442.4,1318.4 444.2,1316.1 445.7,1313.8 446.2,1311.5 447.4,1309.2 449.4,1307.0 451.0,1304.7 451.4,1302.4 452.4,1300.1 453.3,1297.8 454.3,1295.5 455.5,1293.2 457.7,1290.9 459.0,1288.6 460.2,1286.3 461.4,1284.1 463.0,1281.8 464.8,1279.5 465.8,1277.2 467.9,1274.9 468.7,1272.6 469.9,1270.3 471.4,1268.0 473.3,1265.7 474.3,1263.4 475.6,1261.1 477.2,1258.9 478.5,1256.6 479.9,1254.3 481.3,1252.0 482.3,1249.7 483.5,1247.4 484.7,1245.1 485.6,1242.8 487.2,1240.5 487.3,1238.2 488.0,1236.0 489.8,1233.7 491.0,1231.4 491.8,1229.1 493.1,1226.8 494.6,1224.5 495.4,1222.2 496.8,1219.9 497.7,1217.6 498.8,1215.3 499.8,1213.0 501.4,1210.8 502.0,1208.5 503.0,1206.2 504.5,1203.9 505.1,1201.6 505.7,1199.3 507.3,1197.0 508.5,1194.7 509.6,1192.4 510.9,1190.1 511.6,1187.9 514.0,1185.6 514.5,1183.3 515.4,1181.0 516.0,1178.7 517.1,1176.4 519.0,1174.1 520.1,1171.8 521.5,1169.5 522.4,1167.2 524.3,1164.9 525.5,1162.7 526.3,1160.4 528.0,1158.1 529.1,1155.8 530.5,1153.5 531.7,1151.2 533.0,1148.9 534.2,1146.6 534.9,1144.3 535.6,1142.0 537.4,1139.8 538.6,1137.5 540.0,1135.2 541.0,1132.9 541.5,1130.6 542.4,1128.3 544.5,1126.0 545.5,1123.7 546.8,1121.4 547.6,1119.1 548.9,1116.8 550.2,1114.6 551.6,1112.3 552.9,1110.0 553.9,1107.7"/>
<path d="M298.1,1586.4 298.7,1584.1 299.6,1581.8 300.3,1579.5 301.8,1577.2 302.7,1574.9 303.6,1572.7 304.2,1570.4 305.7,1568.1 306.3,1565.8 307.0,1563.5 308.1,1561.2 310.2,1558.9 311.5,1556.6 314.1,1554.3 316.6,1552.0 319.3,1549.8 323.0,1547.5 327.5,1545.2 330.3,1542.9 332.1,1540.6 334.2,1538.3 336.5,1536.0 338.5,1533.7 339.8,1531.4 341.4,1529.1 342.9,1526.8 344.8,1524.6 347.0,1522.3 348.1,1520.0 349.9,1517.7 351.2,1515.4 353.2,1513.1 354.3,1510.8 355.3,1508.5 356.7,1506.2 357.6,1503.9 359.2,1501.7 360.0,1499.4 361.1,1497.1 362.2,1494.8 363.1,1492.5 364.2,1490.2 365.6,1487.9 367.7,1485.6 367.8,1483.3 368.7,1481.0 369.3,1478.7 369.8,1476.5 370.8,1474.2 371.3,1471.9 372.3,1469.6 373.7,1467.3 373.8,1465.0 374.9,1462.7 376.1,1460.4 376.7,1458.1 377.9,1455.8 379.1,1453.6 380.0,1451.3 381.5,1449.0 382.0,1446.7 383.4,1444.4 384.6,1442.1 385.5,1439.8 387.0,1437.5 388.5,1435.2 390.4,1432.9 391.4,1430.6 393.2,1428.4 394.8,1426.1 397.2,1423.8 398.2,1421.5 400.0,1419.2 400.5,1416.9 402.1,1414.6 403.3,1412.3 404.7,1410.0 405.6,1407.7 406.0,1405.5 406.7,1403.2 408.6,1400.9 409.8,1398.6 410.5,1396.3 412.0,1394.0 412.6,1391.7 413.4,1389.4 414.0,1387.1 415.6,1384.8 417.5,1382.5 417.9,1380.3 419.0,1378.0 420.4,1375.7 422.1,1373.4 421.8,1371.1 423.0,1368.8 424.3,1366.5 424.7,1364.2 426.0,1361.9 427.2,1359.6 428.6,1357.4 429.4,1355.1 430.7,1352.8 431.6,1350.5 433.0,1348.2 434.2,1345.9 435.2,1343.6 435.9,1341.3 437.9,1339.0 439.5,1336.7 440.9,1334.4 441.7,1332.2 442.7,1329.9 444.6,1327.6 446.0,1325.3 446.7,1323.0 447.9,1320.7 449.1,1318.4 450.3,1316.1 451.1,1313.8 453.0,1311.5 454.4,1309.2 455.5,1307.0 456.0,1304.7 457.1,1302.4 458.5,1300.1 460.2,1297.8 461.2,1295.5 462.9,1293.2 464.2,1290.9 465.0,1288.6 465.2,1286.3 466.3,1284.1 467.5,1281.8 469.3,1279.5 471.4,1277.2 473.6,1274.9 475.0,1272.6 475.9,1270.3 478.3,1268.0 479.6,1265.7 480.6,1263.4 481.7,1261.1 482.4,1258.9 484.0,1256.6 485.4,1254.3 487.3,1252.0 488.7,1249.7 490.0,1247.4 491.5,1245.1 492.2,1242.8 493.0,1240.5 494.0,1238.2 494.6,1236.0 495.8,1233.7 496.9,1231.4 498.4,1229.1 499.5,1226.8 499.9,1224.5 501.3,1222.2 503.1,1219.9 503.5,1217.6 504.5,1215.3 505.8,1213.0 506.6,1210.8 507.8,1208.5 509.2,1206.2 510.0,1203.9 511.6,1201.6 513.1,1199.3 513.8,1197.0 515.1,1194.7 516.8,1192.4 517.8,1190.1 519.1,1187.9 520.4,1185.6 521.3,1183.3 522.8,1181.0 523.9,1178.7 524.5,1176.4 525.9,1174.1 527.3,1171.8 528.7,1169.5 529.5,1167.2 530.9,1164.9 532.7,1162.7 534.0,1160.4 535.7,1158.1 537.4,1155.8 538.3,1153.5 539.5,1151.2 540.4,1148.9 541.9,1146.6 542.9,1144.3 543.7,1142.0 544.9,1139.8 546.1,1137.5 547.4,1135.2 548.8,1132.9 549.5,1130.6 550.5,1128.3 552.0,1126.0 553.5,1123.7 554.7,1121.4 557.0,1119.1 558.4,1116.8 559.3,1114.6 560.6,1112.3 562.0,1110.0 562.9,1107.7"/>
<path d="M304.5,1586.4 305.3,1584.1 306.1,1581.8 307.8,1579.5 307.7,1577.2 309.3,1574.9 310.1,1572.7 311.4,1570.4 312.2,1568.1 313.4,1565.8 315.0,1563.5 316.2,1561.2 318.0,1558.9 319.5,1556.6 321.0,1554.3 323.2,1552.0 326.2,1549.8 329.7,1547.5 333.8,1545.2 336.3,1542.9 338.0,1540.6 339.9,1538.3 342.3,1536.0 344.3,1533.7 346.3,1531.4 348.0,1529.1 348.9,1526.8 350.3,1524.6 350.6,1522.3 352.0,1520.0 354.0,1517.7 355.3,1515.4 356.6,1513.1 358.2,1510.8 360.1,1508.5 362.1,1506.2 364.4,1503.9 366.0,1501.7 366.2,1499.4 366.2,1497.1 367.5,1494.8 369.1,1492.5 369.4,1490.2 370.3,1487.9 371.3,1485.6 372.4,1483.3 373.3,1481.0 374.5,1478.7 375.9,1476.5 376.7,1474.2 377.8,1471.9 379.4,1469.6 379.6,1467.3 380.0,1465.0 381.1,1462.7 382.7,1460.4 383.5,1458.1 384.7,1455.8 385.4,1453.6 386.6,1451.3 387.2,1449.0 388.5,1446.7 389.7,1444.4 391.0,1442.1 392.8,1439.8 394.5,1437.5 395.5,1435.2 397.3,1432.9 398.1,1430.6 400.2,1428.4 403.0,1426.1 404.5,1423.8 405.9,1421.5 407.1,1419.2 408.5,1416.9 409.4,1414.6 410.8,1412.3 411.7,1410.0 412.6,1407.7 413.7,1405.5 414.7,1403.2 415.1,1400.9 417.1,1398.6 418.0,1396.3 418.2,1394.0 419.7,1391.7 420.6,1389.4 421.7,1387.1 422.9,1384.8 423.4,1382.5 423.2,1380.3 424.5,1378.0 425.8,1375.7 427.4,1373.4 428.2,1371.1 429.2,1368.8 430.5,1366.5 431.5,1364.2 432.5,1361.9 433.8,1359.6 434.5,1357.4 436.4,1355.1 437.1,1352.8 438.3,1350.5 439.3,1348.2 440.3,1345.9 441.8,1343.6 443.4,1341.3 445.1,1339.0 446.4,1336.7 447.2,1334.4 448.7,1332.2 449.1,1329.9 450.4,1327.6 451.9,1325.3 453.3,1323.0 454.0,1320.7 454.7,1318.4 456.9,1316.1 457.9,1313.8 458.5,1311.5 459.5,1309.2 461.0,1307.0 462.9,1304.7 464.1,1302.4 465.8,1300.1 467.0,1297.8 468.3,1295.5 469.8,1293.2 470.7,1290.9 472.0,1288.6 473.0,1286.3 474.1,1284.1 475.8,1281.8 477.0,1279.5 478.6,1277.2 479.9,1274.9 481.4,1272.6 482.6,1270.3 484.5,1268.0 485.8,1265.7 487.2,1263.4 489.1,1261.1 489.0,1258.9 490.0,1256.6 490.3,1254.3 492.0,1252.0 493.7,1249.7 495.4,1247.4 496.8,1245.1 497.7,1242.8 499.7,1240.5 500.9,1238.2 501.9,1236.0 502.5,1233.7 503.9,1231.4 504.9,1229.1 506.0,1226.8 507.3,1224.5 508.6,1222.2 509.4,1219.9 511.2,1217.6 511.9,1215.3 512.6,1213.0 514.1,1210.8 515.4,1208.5 516.6,1206.2 517.7,1203.9 518.9,1201.6 519.9,1199.3 520.5,1197.0 522.1,1194.7 522.9,1192.4 524.1,1190.1 525.6,1187.9 526.8,1185.6 529.0,1183.3 529.3,1181.0 530.1,1178.7 531.3,1176.4 533.0,1174.1 534.0,1171.8 534.5,1169.5 536.3,1167.2 537.2,1164.9 538.6,1162.7 540.5,1160.4 541.7,1158.1 542.9,1155.8 544.5,1153.5 545.6,1151.2 547.0,1148.9 547.9,1146.6 549.2,1144.3 550.0,1142.0 550.8,1139.8 553.1,1137.5 554.5,1135.2 556.1,1132.9 556.9,1130.6 558.1,1128.3 559.3,1126.0 560.0,1123.7 561.6,1121.4 562.7,1119.1 563.9,1116.8 564.7,1114.6 566.5,1112.3 568.0,1110.0"/>
<path d="M312.2,1586.4 312.3,1584.1 312.8,1581.8 314.2,1579.5 314.8,1577.2 315.8,1574.9 316.7,1572.7 317.2,1570.4 319.0,1568.1 319.2,1565.8 320.6,1563.5 322.0,1561.2 322.9,1558.9 324.8,1556.6 326.9,1554.3 329.4,1552.0 332.1,1549.8 335.8,1547.5 339.7,1545.2 342.7,1542.9 345.5,1540.6 347.3,1538.3 349.0,1536.0 350.8,1533.7 351.7,1531.4 352.8,1529.1 354.4,1526.8 355.9,1524.6 357.8,1522.3 359.5,1520.0 360.8,1517.7 362.6,1515.4 364.2,1513.1 365.7,1510.8 366.9,1508.5 368.5,1506.2 369.4,1503.9 370.4,1501.7 371.5,1499.4 372.4,1497.1 373.3,1494.8 373.5,1492.5 374.9,1490.2 375.9,1487.9 377.1,1485.6 378.2,1483.3 378.4,1481.0 380.5,1478.7 381.3,1476.5 382.2,1474.2 382.3,1471.9 383.6,1469.6 384.7,1467.3 385.4,1465.0 386.5,1462.7 387.9,1460.4 388.6,1458.1 389.1,1455.8 390.7,1453.6 391.8,1451.3 392.7,1449.0 394.6,1446.7 395.6,1444.4 396.7,1442.1 398.1,1439.8 399.3,1437.5 400.9,1435.2 402.6,1432.9 404.0,1430.6 405.7,1428.4 407.7,1426.1 409.6,1423.8 411.3,1421.5 413.0,1419.2 414.3,1416.9 415.7,1414.6 416.7,1412.3 417.7,1410.0 419.3,1407.7 419.5,1405.5 420.8,1403.2 423.2,1400.9 423.1,1398.6 424.7,1396.3 424.8,1394.0 425.9,1391.7 427.5,1389.4 428.9,1387.1 429.2,1384.8 429.5,1382.5 430.0,1380.3 431.4,1378.0 432.3,1375.7 433.4,1373.4 434.6,1371.1 435.9,1368.8 437.1,1366.5 438.1,1364.2 438.5,1361.9 440.3,1359.6 440.2,1357.4 442.1,1355.1 443.0,1352.8 444.2,1350.5 445.2,1348.2 446.3,1345.9 447.6,1343.6 448.8,1341.3 449.7,1339.0 451.4,1336.7 452.5,1334.4 454.3,1332.2 455.5,1329.9 456.4,1327.6 457.9,1325.3 459.5,1323.0 460.3,1320.7 461.4,1318.4 463.3,1316.1 464.0,1313.8 465.0,1311.5 466.4,1309.2 467.2,1307.0 467.6,1304.7 468.5,1302.4 470.3,1300.1 472.1,1297.8 473.7,1295.5 475.1,1293.2 475.9,1290.9 477.6,1288.6 479.3,1286.3 480.3,1284.1 482.1,1281.8 483.5,1279.5 485.2,1277.2 486.9,1274.9 487.7,1272.6 489.7,1270.3 490.7,1268.0 492.0,1265.7 493.2,1263.4 494.7,1261.1 496.2,1258.9 497.4,1256.6 499.2,1254.3 500.4,1252.0 501.4,1249.7 501.4,1247.4 502.7,1245.1 504.0,1242.8 505.0,1240.5 506.1,1238.2 507.8,1236.0 509.5,1233.7 511.4,1231.4 512.8,1229.1 513.5,1226.8 514.6,1224.5 515.1,1222.2 516.6,1219.9 517.9,1217.6 518.7,1215.3 519.9,1213.0 521.0,1210.8 521.9,1208.5 523.7,1206.2 526.1,1203.9 527.2,1201.6 528.5,1199.3 529.3,1197.0 530.0,1194.7 531.8,1192.4 532.4,1190.1 533.4,1187.9 534.3,1185.6 535.5,1183.3 536.4,1181.0 537.7,1178.7 538.2,1176.4 539.3,1174.1 541.1,1171.8 541.7,1169.5 542.7,1167.2 544.7,1164.9 546.2,1162.7 548.1,1160.4 548.5,1158.1 550.1,1155.8 550.9,1153.5 551.8,1151.2 553.5,1148.9 555.4,1146.6 556.1,1144.3 557.0,1142.0 558.3,1139.8 559.7,1137.5 560.6,1135.2 563.0,1132.9 564.5,1130.6 565.5,1128.3 566.5,1126.0 568.7,1123.7 570.7,1121.4 571.4,1119.1 572.5,1116.8 574.0,1114.6 574.4,1112.3 575.2,1110.0"/>
<path d="M319.4,1586.4 319.6,1584.1 320.0,1581.8 320.2,1579.5 320.8,1577.2 322.1,1574.9 322.8,1572.7 323.3,1570.4 324.3,1568.1 326.4,1565.8 327.6,1563.5 328.7,1561.2 330.2,1558.9 332.0,1556.6 333.7,1554.3 335.2,1552.0 338.5,1549.8 341.8,1547.5 345.5,1545.2 347.8,1542.9 350.5,1540.6 351.9,1538.3 352.8,1536.0 355.1,1533.7 356.4,1531.4 358.1,1529.1 359.5,1526.8 361.3,1524.6 363.1,1522.3 364.8,1520.0 366.4,1517.7 367.4,1515.4 368.8,1513.1 370.8,1510.8 371.9,1508.5 373.5,1506.2 374.8,1503.9 375.4,1501.7 376.2,1499.4 377.0,1497.1 378.0,1494.8 379.2,1492.5 380.7,1490.2 382.3,1487.9 382.7,1485.6 383.5,1483.3 385.1,1481.0 386.2,1478.7 387.0,1476.5 386.8,1474.2 387.4,1471.9 388.6,1469.6 389.4,1467.3 391.2,1465.0 392.1,1462.7 393.1,1460.4 393.5,1458.1 394.1,1455.8 394.9,1453.6 395.9,1451.3 397.0,1449.0 398.5,1446.7 399.9,1444.4 401.7,1442.1 402.6,1439.8 404.3,1437.5 406.1,1435.2 408.4,1432.9 410.0,1430.6 412.0,1428.4 413.4,1426.1 415.4,1423.8 417.1,1421.5 418.3,1419.2 419.5,1416.9 420.9,1414.6 422.5,1412.3 423.2,1410.0 424.9,1407.7 425.9,1405.5 427.8,1403.2 429.2,1400.9 429.8,1398.6 430.4,1396.3 432.3,1394.0 433.2,1391.7 434.1,1389.4 434.6,1387.1 435.3,1384.8 436.5,1382.5 437.6,1380.3 438.0,1378.0 439.5,1375.7 440.5,1373.4 441.0,1371.1 442.4,1368.8 443.3,1366.5 444.6,1364.2 445.3,1361.9 446.5,1359.6 446.9,1357.4 448.3,1355.1 448.8,1352.8 450.2,1350.5 450.5,1348.2 452.0,1345.9 453.7,1343.6 455.3,1341.3 457.0,1339.0 457.7,1336.7 459.6,1334.4 461.3,1332.2 461.8,1329.9 462.7,1327.6 463.7,1325.3 465.0,1323.0 466.4,1320.7 466.7,1318.4 468.5,1316.1 469.8,1313.8 470.7,1311.5 472.6,1309.2 473.7,1307.0 475.5,1304.7 476.8,1302.4 477.8,1300.1 479.4,1297.8 480.8,1295.5 481.7,1293.2 482.2,1290.9 483.3,1288.6 485.0,1286.3 486.2,1284.1 488.5,1281.8 490.1,1279.5 491.7,1277.2 493.4,1274.9 494.4,1272.6 495.7,1270.3 496.9,1268.0 497.4,1265.7 498.3,1263.4 500.3,1261.1 501.6,1258.9 503.1,1256.6 503.9,1254.3 505.2,1252.0 507.1,1249.7 508.5,1247.4 509.6,1245.1 511.5,1242.8 512.6,1240.5 513.6,1238.2 515.3,1236.0 515.6,1233.7 517.1,1231.4 517.9,1229.1 518.8,1226.8 519.9,1224.5 521.3,1222.2 522.7,1219.9 524.1,1217.6 525.4,1215.3 527.1,1213.0 528.8,1210.8 530.0,1208.5 531.2,1206.2 532.0,1203.9 532.6,1201.6 534.0,1199.3 535.0,1197.0 536.5,1194.7 536.7,1192.4 539.0,1190.1 539.4,1187.9 540.5,1185.6 542.0,1183.3 542.4,1181.0 543.4,1178.7 543.8,1176.4 544.7,1174.1 545.5,1171.8 547.2,1169.5 548.9,1167.2 550.4,1164.9 552.6,1162.7 554.7,1160.4 556.2,1158.1 557.5,1155.8 558.6,1153.5 559.7,1151.2 561.6,1148.9 562.8,1146.6 563.9,1144.3 565.0,1142.0 566.5,1139.8 567.6,1137.5 568.9,1135.2 570.2,1132.9 571.9,1130.6 573.5,1128.3 573.9,1126.0 575.1,1123.7 576.6,1121.4 577.6,1119.1 579.2,1116.8 580.4,1114.6 581.7,1112.3"/>
<path d="M325.7,1586.4 326.3,1584.1 327.1,1581.8 327.2,1579.5 327.6,1577.2 328.2,1574.9 330.0,1572.7 331.1,1570.4 332.2,1568.1 333.2,1565.8 334.1,1563.5 335.1,1561.2 336.9,1558.9 338.2,1556.6 340.5,1554.3 342.7,1552.0 345.5,1549.8 348.5,1547.5 351.6,1545.2 354.3,1542.9 357.0,1540.6 359.4,1538.3 360.0,1536.0 361.5,1533.7 363.1,1531.4 363.9,1529.1 365.0,1526.8 366.3,1524.6 366.8,1522.3 368.7,1520.0 370.4,1517.7 372.5,1515.4 374.7,1513.1 376.7,1510.8 379.1,1508.5 380.2,1506.2 381.5,1503.9 382.2,1501.7 383.3,1499.4 384.0,1497.1 384.9,1494.8 385.5,1492.5 386.2,1490.2 387.5,1487.9 388.7,1485.6 389.7,1483.3 390.3,1481.0 391.3,1478.7 391.1,1476.5 392.6,1474.2 393.5,1471.9 394.6,1469.6 395.9,1467.3 396.6,1465.0 397.8,1462.7 398.4,1460.4 399.5,1458.1 400.3,1455.8 401.3,1453.6 402.9,1451.3 403.6,1449.0 404.4,1446.7 405.5,1444.4 407.0,1442.1 409.7,1439.8 410.8,1437.5 411.5,1435.2 413.1,1432.9 414.5,1430.6 416.5,1428.4 418.7,1426.1 420.4,1423.8 422.0,1421.5 423.0,1419.2 424.9,1416.9 426.2,1414.6 428.3,1412.3 430.1,1410.0 430.9,1407.7 432.0,1405.5 433.2,1403.2 434.6,1400.9 434.9,1398.6 436.0,1396.3 437.9,1394.0 438.7,1391.7 439.6,1389.4 440.5,1387.1 440.9,1384.8 442.3,1382.5 443.4,1380.3 444.4,1378.0 445.7,1375.7 446.9,1373.4 447.0,1371.1 448.3,1368.8 449.1,1366.5 450.3,1364.2 451.1,1361.9 452.0,1359.6 453.6,1357.4 454.8,1355.1 455.8,1352.8 456.9,1350.5 458.1,1348.2 459.3,1345.9 459.6,1343.6 460.7,1341.3 462.1,1339.0 463.8,1336.7 465.7,1334.4 466.5,1332.2 468.5,1329.9 469.6,1327.6 470.9,1325.3 471.8,1323.0 472.8,1320.7 474.6,1318.4 475.7,1316.1 476.8,1313.8 478.5,1311.5 480.3,1309.2 480.6,1307.0 481.7,1304.7 482.8,1302.4 484.8,1300.1 486.7,1297.8 487.5,1295.5 488.6,1293.2 490.0,1290.9 491.4,1288.6 492.3,1286.3 493.8,1284.1 494.7,1281.8 495.2,1279.5 496.6,1277.2 498.7,1274.9 500.7,1272.6 501.3,1270.3 502.2,1268.0 504.0,1265.7 504.3,1263.4 506.4,1261.1 508.5,1258.9 508.8,1256.6 510.8,1254.3 512.2,1252.0 514.3,1249.7 515.6,1247.4 516.8,1245.1 518.0,1242.8 519.6,1240.5 520.8,1238.2 521.9,1236.0 522.5,1233.7 523.9,1231.4 525.2,1229.1 527.1,1226.8 528.1,1224.5 529.1,1222.2 529.9,1219.9 531.4,1217.6 532.4,1215.3 533.3,1213.0 535.2,1210.8 537.0,1208.5 537.7,1206.2 538.3,1203.9 540.0,1201.6 540.7,1199.3 542.9,1197.0 543.7,1194.7 545.0,1192.4 545.4,1190.1 546.4,1187.9 547.9,1185.6 549.1,1183.3 549.9,1181.0 552.0,1178.7 553.1,1176.4 553.9,1174.1 554.7,1171.8 555.8,1169.5 557.6,1167.2 558.5,1164.9 560.0,1162.7 561.2,1160.4 563.4,1158.1 564.8,1155.8 566.4,1153.5 567.8,1151.2 568.7,1148.9 570.2,1146.6 571.8,1144.3 572.5,1142.0 574.0,1139.8 576.6,1137.5 577.4,1135.2 578.6,1132.9 579.1,1130.6 580.4,1128.3 581.3,1126.0 582.9,1123.7 584.0,1121.4 584.7,1119.1 586.5,1116.8 587.5,1114.6 588.2,1112.3"/>
<path d="M332.6,1586.4 332.8,1584.1 333.7,1581.8 334.4,1579.5 335.0,1577.2 336.2,1574.9 336.5,1572.7 337.9,1570.4 338.0,1568.1 339.9,1565.8 341.1,1563.5 342.2,1561.2 343.2,1558.9 345.0,1556.6 346.5,1554.3 348.6,1552.0 351.9,1549.8 354.7,1547.5 357.6,1545.2 360.5,1542.9 363.0,1540.6 364.3,1538.3 365.7,1536.0 367.1,1533.7 368.8,1531.4 370.6,1529.1 371.4,1526.8 372.6,1524.6 373.9,1522.3 375.5,1520.0 377.6,1517.7 379.4,1515.4 381.4,1513.1 383.6,1510.8 384.3,1508.5 385.2,1506.2 386.2,1503.9 387.4,1501.7 388.6,1499.4 389.4,1497.1 391.1,1494.8 391.7,1492.5 392.5,1490.2 393.9,1487.9 395.0,1485.6 395.7,1483.3 396.6,1481.0 397.6,1478.7 398.3,1476.5 399.3,1474.2 399.6,1471.9 400.5,1469.6 400.7,1467.3 401.3,1465.0 402.0,1462.7 403.7,1460.4 404.5,1458.1 405.7,1455.8 406.3,1453.6 407.4,1451.3 408.5,1449.0 409.4,1446.7 411.2,1444.4 412.0,1442.1 414.0,1439.8 416.9,1437.5 418.1,1435.2 419.8,1432.9 421.0,1430.6 423.2,1428.4 424.6,1426.1 427.1,1423.8 428.7,1421.5 429.6,1419.2 430.8,1416.9 432.0,1414.6 433.6,1412.3 435.6,1410.0 436.8,1407.7 437.7,1405.5 438.7,1403.2 440.1,1400.9 440.3,1398.6 441.9,1396.3 443.3,1394.0 443.4,1391.7 445.1,1389.4 445.6,1387.1 446.7,1384.8 448.3,1382.5 448.7,1380.3 449.2,1378.0 450.1,1375.7 451.0,1373.4 452.4,1371.1 453.5,1368.8 454.6,1366.5 455.8,1364.2 457.0,1361.9 457.9,1359.6 459.4,1357.4 460.7,1355.1 461.5,1352.8 463.6,1350.5 464.2,1348.2 465.7,1345.9 466.6,1343.6 468.0,1341.3 469.4,1339.0 470.9,1336.7 472.6,1334.4 473.3,1332.2 475.6,1329.9 476.6,1327.6 477.2,1325.3 477.7,1323.0 480.0,1320.7 481.7,1318.4 482.6,1316.1 483.9,1313.8 485.4,1311.5 486.4,1309.2 487.2,1307.0 488.2,1304.7 489.6,1302.4 490.7,1300.1 491.2,1297.8 492.8,1295.5 493.2,1293.2 494.3,1290.9 496.3,1288.6 497.7,1286.3 499.1,1284.1 500.7,1281.8 502.8,1279.5 504.4,1277.2 505.2,1274.9 507.0,1272.6 507.3,1270.3 508.2,1268.0 510.8,1265.7 512.8,1263.4 514.0,1261.1 515.4,1258.9 516.8,1256.6 518.5,1254.3 519.4,1252.0 520.4,1249.7 521.5,1247.4 522.9,1245.1 524.4,1242.8 525.5,1240.5 527.1,1238.2 527.8,1236.0 529.1,1233.7 530.1,1231.4 531.0,1229.1 532.8,1226.8 533.9,1224.5 534.7,1222.2 536.1,1219.9 537.0,1217.6 538.6,1215.3 540.2,1213.0 541.8,1210.8 542.4,1208.5 543.6,1206.2 545.6,1203.9 546.5,1201.6 548.1,1199.3 549.7,1197.0 549.9,1194.7 551.4,1192.4 552.7,1190.1 553.9,1187.9 555.5,1185.6 556.4,1183.3 557.3,1181.0 558.5,1178.7 559.2,1176.4 560.5,1174.1 560.7,1171.8 562.8,1169.5 563.8,1167.2 565.4,1164.9 567.0,1162.7 568.6,1160.4 570.2,1158.1 571.7,1155.8 572.4,1153.5 573.6,1151.2 575.5,1148.9 576.4,1146.6 577.4,1144.3 579.7,1142.0 581.4,1139.8 583.2,1137.5 584.2,1135.2 585.3,1132.9 586.7,1130.6 588.0,1128.3 589.0,1126.0 589.5,1123.7 590.5,1121.4 591.2,1119.1 593.3,1116.8 594.3,1114.6"/>
<path d="M339.3,1586.4 340.0,1584.1 340.5,1581.8 341.4,1579.5 341.8,1577.2 342.0,1574.9 343.7,1572.7 344.2,1570.4 345.0,1568.1 345.8,1565.8 346.8,1563.5 348.1,1561.2 349.8,1558.9 350.8,1556.6 352.6,1554.3 354.5,1552.0 357.8,1549.8 360.2,1547.5 363.3,1545.2 366.3,1542.9 367.6,1540.6 369.3,1538.3 370.8,1536.0 371.9,1533.7 373.3,1531.4 375.2,1529.1 376.6,1526.8 377.7,1524.6 379.0,1522.3 380.6,1520.0 382.6,1517.7 384.9,1515.4 387.2,1513.1 389.5,1510.8 389.9,1508.5 390.5,1506.2 390.8,1503.9 392.5,1501.7 392.8,1499.4 394.1,1497.1 395.6,1494.8 396.1,1492.5 397.0,1490.2 398.0,1487.9 399.4,1485.6 399.7,1483.3 400.9,1481.0 402.1,1478.7 403.0,1476.5 404.0,1474.2 405.3,1471.9 406.1,1469.6 406.9,1467.3 407.5,1465.0 408.7,1462.7 409.4,1460.4 410.5,1458.1 411.4,1455.8 412.8,1453.6 413.4,1451.3 414.4,1449.0 415.7,1446.7 417.1,1444.4 418.9,1442.1 420.5,1439.8 422.4,1437.5 424.8,1435.2 426.6,1432.9 427.8,1430.6 429.2,1428.4 431.6,1426.1 433.4,1423.8 435.3,1421.5 436.7,1419.2 438.8,1416.9 440.6,1414.6 441.3,1412.3 442.6,1410.0 443.7,1407.7 444.4,1405.5 445.9,1403.2 446.9,1400.9 448.1,1398.6 450.1,1396.3 451.3,1394.0 452.4,1391.7 452.8,1389.4 453.0,1387.1 454.4,1384.8 455.1,1382.5 456.0,1380.3 456.8,1378.0 457.8,1375.7 459.8,1373.4 460.5,1371.1 461.2,1368.8 462.3,1366.5 463.4,1364.2 463.9,1361.9 464.3,1359.6 465.4,1357.4 466.6,1355.1 467.6,1352.8 468.6,1350.5 469.6,1348.2 470.9,1345.9 472.3,1343.6 473.0,1341.3 474.3,1339.0 475.9,1336.7 477.3,1334.4 478.1,1332.2 479.4,1329.9 480.8,1327.6 482.6,1325.3 483.2,1323.0 484.9,1320.7 486.0,1318.4 487.5,1316.1 489.0,1313.8 489.9,1311.5 490.9,1309.2 492.2,1307.0 493.8,1304.7 494.8,1302.4 495.4,1300.1 496.5,1297.8 498.1,1295.5 499.9,1293.2 500.9,1290.9 502.1,1288.6 503.4,1286.3 504.8,1284.1 506.0,1281.8 507.7,1279.5 509.8,1277.2 511.7,1274.9 513.3,1272.6 514.4,1270.3 515.8,1268.0 517.1,1265.7 519.1,1263.4 521.1,1261.1 522.4,1258.9 524.3,1256.6 525.2,1254.3 526.3,1252.0 526.9,1249.7 528.4,1247.4 529.5,1245.1 530.8,1242.8 532.3,1240.5 533.4,1238.2 534.1,1236.0 535.4,1233.7 536.7,1231.4 538.0,1229.1 539.5,1226.8 540.6,1224.5 541.7,1222.2 543.6,1219.9 545.0,1217.6 546.0,1215.3 546.7,1213.0 547.7,1210.8 549.1,1208.5 550.6,1206.2 552.7,1203.9 553.5,1201.6 554.5,1199.3 555.4,1197.0 556.4,1194.7 557.3,1192.4 558.0,1190.1 559.7,1187.9 560.8,1185.6 562.4,1183.3 563.2,1181.0 564.4,1178.7 565.8,1176.4 566.1,1174.1 567.0,1171.8 568.7,1169.5 570.2,1167.2 570.9,1164.9 572.5,1162.7 574.0,1160.4 575.8,1158.1 578.3,1155.8 579.5,1153.5 581.7,1151.2 582.8,1148.9 583.7,1146.6 585.7,1144.3 587.3,1142.0 588.9,1139.8 590.7,1137.5 592.0,1135.2 593.4,1132.9 593.6,1130.6 594.3,1128.3 595.7,1126.0 597.0,1123.7 598.5,1121.4 599.4,1119.1 601.0,1116.8"/>
<path d="M347.0,1586.4 347.5,1584.1 348.2,1581.8 348.8,1579.5 349.7,1577.2 350.3,1574.9 350.6,1572.7 351.5,1570.4 352.3,1568.1 352.6,1565.8 353.8,1563.5 355.0,1561.2 356.4,1558.9 357.6,1556.6 359.3,1554.3 361.5,1552.0 363.8,1549.8 366.8,1547.5 369.9,1545.2 372.6,1542.9 374.0,1540.6 375.0,1538.3 376.5,1536.0 377.5,1533.7 380.0,1531.4 380.9,1529.1 381.8,1526.8 383.5,1524.6 384.6,1522.3 385.0,1520.0 386.8,1517.7 388.7,1515.4 391.0,1513.1 392.5,1510.8 393.9,1508.5 395.4,1506.2 396.8,1503.9 397.6,1501.7 398.6,1499.4 399.5,1497.1 400.8,1494.8 401.8,1492.5 402.4,1490.2 403.8,1487.9 404.5,1485.6 405.7,1483.3 406.2,1481.0 407.3,1478.7 408.2,1476.5 409.1,1474.2 410.2,1471.9 411.2,1469.6 412.1,1467.3 413.0,1465.0 413.3,1462.7 414.3,1460.4 414.5,1458.1 414.8,1455.8 416.1,1453.6 417.4,1451.3 419.4,1449.0 420.9,1446.7 422.6,1444.4 423.8,1442.1 425.6,1439.8 427.8,1437.5 429.7,1435.2 431.5,1432.9 433.4,1430.6 435.1,1428.4 437.0,1426.1 438.6,1423.8 440.7,1421.5 442.4,1419.2 443.7,1416.9 445.5,1414.6 446.8,1412.3 448.6,1410.0 450.6,1407.7 451.8,1405.5 452.5,1403.2 452.9,1400.9 454.8,1398.6 455.9,1396.3 456.2,1394.0 457.6,1391.7 457.8,1389.4 458.6,1387.1 459.6,1384.8 460.5,1382.5 461.2,1380.3 463.3,1378.0 464.1,1375.7 465.3,1373.4 466.3,1371.1 466.6,1368.8 467.6,1366.5 468.9,1364.2 470.4,1361.9 471.3,1359.6 472.6,1357.4 473.6,1355.1 474.9,1352.8 475.0,1350.5 476.6,1348.2 477.6,1345.9 478.7,1343.6 478.9,1341.3 480.1,1339.0 481.9,1336.7 484.3,1334.4 485.2,1332.2 486.2,1329.9 487.7,1327.6 489.1,1325.3 490.1,1323.0 491.3,1320.7 492.4,1318.4 494.0,1316.1 495.5,1313.8 497.4,1311.5 498.8,1309.2 500.0,1307.0 500.9,1304.7 502.3,1302.4 502.8,1300.1 504.7,1297.8 505.8,1295.5 507.3,1293.2 507.9,1290.9 509.4,1288.6 510.7,1286.3 511.8,1284.1 513.0,1281.8 514.4,1279.5 517.1,1277.2 519.2,1274.9 520.7,1272.6 522.0,1270.3 523.1,1268.0 523.7,1265.7 524.6,1263.4 526.0,1261.1 527.6,1258.9 528.7,1256.6 530.7,1254.3 532.3,1252.0 533.7,1249.7 534.3,1247.4 535.7,1245.1 537.1,1242.8 538.0,1240.5 538.5,1238.2 540.9,1236.0 542.5,1233.7 543.5,1231.4 545.4,1229.1 546.9,1226.8 548.1,1224.5 549.2,1222.2 550.5,1219.9 552.1,1217.6 553.0,1215.3 553.9,1213.0 555.2,1210.8 555.1,1208.5 556.5,1206.2 557.7,1203.9 559.0,1201.6 560.2,1199.3 561.6,1197.0 562.9,1194.7 564.0,1192.4 565.1,1190.1 566.4,1187.9 567.3,1185.6 568.9,1183.3 569.3,1181.0 570.7,1178.7 572.1,1176.4 572.8,1174.1 574.0,1171.8 576.0,1169.5 577.3,1167.2 578.3,1164.9 578.9,1162.7 581.1,1160.4 583.2,1158.1 585.2,1155.8 587.5,1153.5 588.7,1151.2 590.0,1148.9 590.9,1146.6 592.2,1144.3 593.6,1142.0 595.2,1139.8 596.7,1137.5 597.6,1135.2 598.7,1132.9 600.5,1130.6 601.3,1128.3 602.9,1126.0 604.8,1123.7 606.1,1121.4 607.2,1119.1"/>
<path d="M353.6,1586.4 354.1,1584.1 354.5,1581.8 354.9,1579.5 356.0,1577.2 356.8,1574.9 358.0,1572.7 358.4,1570.4 359.0,1568.1 359.6,1565.8 360.7,1563.5 361.5,1561.2 363.1,1558.9 364.5,1556.6 365.5,1554.3 366.3,1552.0 368.3,1549.8 372.1,1547.5 375.0,1545.2 377.6,1542.9 379.3,1540.6 381.0,1538.3 381.6,1536.0 382.3,1533.7 383.3,1531.4 385.1,1529.1 387.0,1526.8 388.6,1524.6 389.9,1522.3 390.8,1520.0 392.9,1517.7 395.0,1515.4 397.3,1513.1 399.3,1510.8 400.6,1508.5 401.6,1506.2 402.6,1503.9 403.3,1501.7 404.7,1499.4 405.7,1497.1 407.2,1494.8 407.4,1492.5 409.0,1490.2 409.9,1487.9 410.7,1485.6 411.2,1483.3 411.8,1481.0 412.2,1478.7 413.6,1476.5 414.5,1474.2 415.7,1471.9 416.9,1469.6 417.5,1467.3 418.3,1465.0 419.1,1462.7 420.4,1460.4 421.3,1458.1 422.3,1455.8 423.6,1453.6 424.5,1451.3 426.3,1449.0 426.9,1446.7 428.6,1444.4 430.4,1442.1 431.4,1439.8 433.5,1437.5 435.3,1435.2 437.4,1432.9 438.9,1430.6 441.2,1428.4 443.1,1426.1 445.2,1423.8 447.7,1421.5 449.2,1419.2 449.8,1416.9 450.9,1414.6 452.2,1412.3 454.3,1410.0 455.5,1407.7 456.2,1405.5 458.1,1403.2 459.4,1400.9 460.7,1398.6 461.3,1396.3 463.0,1394.0 463.8,1391.7 463.9,1389.4 464.5,1387.1 465.3,1384.8 466.5,1382.5 468.0,1380.3 468.8,1378.0 469.7,1375.7 471.8,1373.4 472.7,1371.1 473.5,1368.8 474.5,1366.5 475.1,1364.2 476.5,1361.9 478.0,1359.6 478.8,1357.4 480.3,1355.1 481.2,1352.8 482.4,1350.5 483.2,1348.2 484.1,1345.9 484.8,1343.6 486.3,1341.3 487.5,1339.0 488.7,1336.7 489.6,1334.4 490.5,1332.2 491.8,1329.9 493.4,1327.6 494.9,1325.3 496.0,1323.0 497.5,1320.7 499.5,1318.4 500.6,1316.1 502.6,1313.8 503.7,1311.5 505.2,1309.2 505.9,1307.0 507.3,1304.7 507.8,1302.4 509.0,1300.1 509.9,1297.8 510.3,1295.5 511.1,1293.2 513.1,1290.9 514.7,1288.6 516.5,1286.3 517.9,1284.1 518.2,1281.8 520.4,1279.5 522.2,1277.2 524.0,1274.9 525.7,1272.6 527.0,1270.3 528.3,1268.0 530.6,1265.7 532.2,1263.4 533.4,1261.1 534.7,1258.9 536.5,1256.6 538.0,1254.3 539.3,1252.0 540.1,1249.7 541.3,1247.4 542.2,1245.1 542.9,1242.8 544.8,1240.5 546.1,1238.2 547.3,1236.0 548.3,1233.7 550.0,1231.4 552.1,1229.1 553.4,1226.8 554.8,1224.5 555.3,1222.2 556.5,1219.9 557.8,1217.6 559.5,1215.3 560.6,1213.0 561.2,1210.8 562.4,1208.5 563.5,1206.2 565.4,1203.9 566.7,1201.6 567.9,1199.3 569.0,1197.0 570.4,1194.7 571.1,1192.4 571.8,1190.1 572.2,1187.9 574.0,1185.6 575.4,1183.3 576.8,1181.0 577.9,1178.7 579.7,1176.4 580.4,1174.1 582.1,1171.8 582.9,1169.5 584.0,1167.2 585.0,1164.9 586.9,1162.7 588.6,1160.4 590.7,1158.1 592.2,1155.8 593.1,1153.5 594.9,1151.2 596.9,1148.9 598.5,1146.6 599.7,1144.3 601.1,1142.0 601.7,1139.8 603.0,1137.5 604.9,1135.2 606.3,1132.9 607.2,1130.6 608.8,1128.3 610.0,1126.0 611.5,1123.7 612.1,1121.4 613.2,1119.1"/>
<path d="M360.0,1586.4 360.5,1584.1 361.2,1581.8 361.7,1579.5 362.2,1577.2 363.1,1574.9 364.1,1572.7 364.1,1570.4 364.9,1568.1 365.8,1565.8 366.9,1563.5 368.4,1561.2 369.0,1558.9 370.6,1556.6 371.3,1554.3 373.0,1552.0 375.4,1549.8 378.2,1547.5 380.7,1545.2 383.0,1542.9 384.8,1540.6 386.3,1538.3 387.0,1536.0 388.0,1533.7 389.5,1531.4 391.2,1529.1 393.1,1526.8 395.5,1524.6 396.6,1522.3 397.4,1520.0 398.9,1517.7 401.3,1515.4 403.6,1513.1 405.1,1510.8 406.4,1508.5 407.7,1506.2 408.3,1503.9 409.0,1501.7 410.7,1499.4 410.8,1497.1 412.1,1494.8 413.0,1492.5 414.7,1490.2 415.8,1487.9 416.2,1485.6 417.6,1483.3 418.0,1481.0 419.6,1478.7 420.9,1476.5 421.3,1474.2 422.2,1471.9 422.9,1469.6 423.2,1467.3 424.4,1465.0 425.3,1462.7 426.4,1460.4 427.6,1458.1 428.9,1455.8 430.0,1453.6 430.6,1451.3 431.6,1449.0 432.7,1446.7 433.8,1444.4 435.1,1442.1 437.5,1439.8 439.4,1437.5 441.8,1435.2 443.2,1432.9 445.2,1430.6 447.2,1428.4 449.3,1426.1 451.4,1423.8 453.3,1421.5 454.9,1419.2 457.2,1416.9 458.9,1414.6 459.9,1412.3 461.0,1410.0 462.7,1407.7 464.1,1405.5 464.9,1403.2 466.3,1400.9 466.7,1398.6 467.6,1396.3 469.3,1394.0 469.1,1391.7 470.2,1389.4 471.6,1387.1 472.5,1384.8 473.2,1382.5 474.0,1380.3 474.3,1378.0 475.1,1375.7 476.6,1373.4 477.6,1371.1 478.9,1368.8 480.1,1366.5 481.5,1364.2 482.0,1361.9 483.2,1359.6 484.4,1357.4 485.5,1355.1 486.5,1352.8 487.0,1350.5 488.7,1348.2 490.4,1345.9 492.6,1343.6 493.9,1341.3 495.6,1339.0 496.7,1336.7 497.4,1334.4 498.6,1332.2 499.2,1329.9 500.5,1327.6 501.6,1325.3 502.4,1323.0 504.2,1320.7 505.8,1318.4 507.1,1316.1 508.5,1313.8 510.2,1311.5 511.0,1309.2 511.5,1307.0 512.2,1304.7 513.7,1302.4 515.0,1300.1 515.5,1297.8 517.3,1295.5 518.6,1293.2 520.4,1290.9 522.0,1288.6 522.9,1286.3 524.2,1284.1 525.4,1281.8 526.9,1279.5 528.9,1277.2 531.1,1274.9 533.2,1272.6 534.3,1270.3 536.1,1268.0 537.5,1265.7 538.8,1263.4 540.7,1261.1 541.8,1258.9 543.7,1256.6 544.7,1254.3 545.6,1252.0 547.2,1249.7 547.9,1247.4 548.8,1245.1 550.2,1242.8 551.6,1240.5 552.9,1238.2 553.4,1236.0 554.4,1233.7 556.2,1231.4 557.8,1229.1 558.7,1226.8 560.2,1224.5 561.6,1222.2 563.3,1219.9 564.2,1217.6 566.0,1215.3 567.0,1213.0 568.7,1210.8 570.1,1208.5 570.7,1206.2 571.8,1203.9 573.1,1201.6 574.7,1199.3 575.1,1197.0 576.1,1194.7 577.6,1192.4 578.9,1190.1 579.6,1187.9 580.5,1185.6 581.9,1183.3 582.7,1181.0 584.2,1178.7 585.8,1176.4 587.1,1174.1 587.3,1171.8 589.3,1169.5 591.2,1167.2 593.2,1164.9 595.1,1162.7 596.1,1160.4 598.5,1158.1 600.2,1155.8 601.9,1153.5 603.0,1151.2 604.1,1148.9 605.3,1146.6 607.3,1144.3 608.6,1142.0 609.7,1139.8 610.4,1137.5 612.0,1135.2 613.3,1132.9 614.7,1130.6 616.3,1128.3 617.8,1126.0 618.9,1123.7 620.1,1121.4"/>
<path d="M366.8,1586.4 367.5,1584.1 368.2,1581.8 368.7,1579.5 368.9,1577.2 369.9,1574.9 370.9,1572.7 371.1,1570.4 372.1,1568.1 372.8,1565.8 372.9,1563.5 374.1,1561.2 375.8,1558.9 376.8,1556.6 378.0,1554.3 380.3,1552.0 382.1,1549.8 384.4,1547.5 387.0,1545.2 389.6,1542.9 391.6,1540.6 392.7,1538.3 393.8,1536.0 395.2,1533.7 396.3,1531.4 397.2,1529.1 398.1,1526.8 399.8,1524.6 401.1,1522.3 403.6,1520.0 405.2,1517.7 406.9,1515.4 409.2,1513.1 411.3,1510.8 412.7,1508.5 414.0,1506.2 415.2,1503.9 416.0,1501.7 417.2,1499.4 418.8,1497.1 419.2,1494.8 419.8,1492.5 420.9,1490.2 422.1,1487.9 423.0,1485.6 424.0,1483.3 424.5,1481.0 425.0,1478.7 425.9,1476.5 426.8,1474.2 428.1,1471.9 429.2,1469.6 429.0,1467.3 430.0,1465.0 430.5,1462.7 430.5,1460.4 431.8,1458.1 432.7,1455.8 433.7,1453.6 434.4,1451.3 435.3,1449.0 436.7,1446.7 437.6,1444.4 439.5,1442.1 441.5,1439.8 443.6,1437.5 445.8,1435.2 447.9,1432.9 449.8,1430.6 452.0,1428.4 454.7,1426.1 457.5,1423.8 459.5,1421.5 461.1,1419.2 462.8,1416.9 463.7,1414.6 465.0,1412.3 466.5,1410.0 468.0,1407.7 469.3,1405.5 470.6,1403.2 471.3,1400.9 472.4,1398.6 473.7,1396.3 474.1,1394.0 474.8,1391.7 476.0,1389.4 477.8,1387.1 479.0,1384.8 480.6,1382.5 481.9,1380.3 482.5,1378.0 483.4,1375.7 483.8,1373.4 485.3,1371.1 486.6,1368.8 487.7,1366.5 488.9,1364.2 490.0,1361.9 491.0,1359.6 492.0,1357.4 493.5,1355.1 494.0,1352.8 494.7,1350.5 495.8,1348.2 497.5,1345.9 498.6,1343.6 499.6,1341.3 501.1,1339.0 502.2,1336.7 502.5,1334.4 503.4,1332.2 504.0,1329.9 505.5,1327.6 506.8,1325.3 508.4,1323.0 510.6,1320.7 511.5,1318.4 512.8,1316.1 513.8,1313.8 514.0,1311.5 515.2,1309.2 516.4,1307.0 517.9,1304.7 519.0,1302.4 519.8,1300.1 521.5,1297.8 522.8,1295.5 523.8,1293.2 525.0,1290.9 526.3,1288.6 528.2,1286.3 530.3,1284.1 531.3,1281.8 533.8,1279.5 535.8,1277.2 537.8,1274.9 539.8,1272.6 540.8,1270.3 542.6,1268.0 543.5,1265.7 544.9,1263.4 546.0,1261.1 548.3,1258.9 550.3,1256.6 551.7,1254.3 553.1,1252.0 554.0,1249.7 555.9,1247.4 557.4,1245.1 558.7,1242.8 559.6,1240.5 560.5,1238.2 561.6,1236.0 563.2,1233.7 563.9,1231.4 565.1,1229.1 566.9,1226.8 568.3,1224.5 569.9,1222.2 570.9,1219.9 572.0,1217.6 573.5,1215.3 574.7,1213.0 575.7,1210.8 576.5,1208.5 577.0,1206.2 578.9,1203.9 579.8,1201.6 580.7,1199.3 582.3,1197.0 583.0,1194.7 583.7,1192.4 584.8,1190.1 586.1,1187.9 587.5,1185.6 588.9,1183.3 590.5,1181.0 591.5,1178.7 592.8,1176.4 594.0,1174.1 595.0,1171.8 596.5,1169.5 598.1,1167.2 600.3,1164.9 602.1,1162.7 603.5,1160.4 605.5,1158.1 607.0,1155.8 609.0,1153.5 609.5,1151.2 610.7,1148.9 611.9,1146.6 613.4,1144.3 614.8,1142.0 615.6,1139.8 616.5,1137.5 618.2,1135.2 620.4,1132.9 622.3,1130.6 623.3,1128.3 624.7,1126.0"/>
<path d="M373.2,1586.4 373.2,1584.1 374.4,1581.8 375.2,1579.5 375.7,1577.2 376.2,1574.9 377.3,1572.7 378.1,1570.4 378.7,1568.1 379.6,1565.8 380.5,1563.5 381.3,1561.2 382.2,1558.9 383.8,1556.6 384.9,1554.3 386.1,1552.0 389.2,1549.8 392.0,1547.5 394.4,1545.2 396.4,1542.9 397.9,1540.6 398.5,1538.3 399.7,1536.0 401.1,1533.7 402.2,1531.4 403.5,1529.1 404.4,1526.8 405.7,1524.6 406.3,1522.3 407.8,1520.0 409.2,1517.7 411.1,1515.4 413.7,1513.1 416.0,1510.8 417.3,1508.5 419.0,1506.2 419.9,1503.9 421.4,1501.7 422.6,1499.4 423.2,1497.1 424.7,1494.8 424.9,1492.5 426.0,1490.2 426.9,1487.9 427.9,1485.6 428.0,1483.3 428.4,1481.0 429.0,1478.7 430.0,1476.5 431.0,1474.2 432.0,1471.9 432.8,1469.6 433.5,1467.3 433.9,1465.0 434.9,1462.7 436.2,1460.4 437.7,1458.1 438.4,1455.8 439.9,1453.6 440.4,1451.3 441.9,1449.0 442.7,1446.7 444.2,1444.4 445.5,1442.1 447.1,1439.8 449.0,1437.5 451.8,1435.2 453.7,1432.9 456.3,1430.6 458.9,1428.4 461.5,1426.1 463.9,1423.8 466.1,1421.5 467.3,1419.2 469.0,1416.9 470.8,1414.6 472.0,1412.3 473.7,1410.0 474.6,1407.7 476.3,1405.5 477.2,1403.2 478.2,1400.9 479.7,1398.6 481.1,1396.3 481.7,1394.0 482.4,1391.7 483.7,1389.4 483.4,1387.1 485.1,1384.8 486.6,1382.5 487.1,1380.3 488.6,1378.0 489.7,1375.7 490.8,1373.4 490.8,1371.1 491.8,1368.8 492.9,1366.5 493.9,1364.2 495.0,1361.9 496.1,1359.6 496.2,1357.4 497.6,1355.1 498.8,1352.8 500.2,1350.5 501.3,1348.2 502.7,1345.9 504.1,1343.6 506.1,1341.3 506.9,1339.0 508.7,1336.7 509.6,1334.4 510.4,1332.2 511.0,1329.9 512.7,1327.6 513.4,1325.3 515.1,1323.0 516.5,1320.7 517.5,1318.4 518.5,1316.1 520.0,1313.8 521.4,1311.5 522.9,1309.2 524.0,1307.0 524.9,1304.7 526.3,1302.4 526.9,1300.1 528.5,1297.8 529.6,1295.5 530.4,1293.2 531.3,1290.9 532.7,1288.6 533.5,1286.3 535.7,1284.1 537.9,1281.8 539.4,1279.5 541.5,1277.2 544.3,1274.9 546.0,1272.6 547.1,1270.3 547.8,1268.0 548.9,1265.7 551.2,1263.4 552.9,1261.1 553.9,1258.9 555.7,1256.6 557.0,1254.3 558.2,1252.0 559.5,1249.7 560.7,1247.4 562.9,1245.1 563.7,1242.8 564.9,1240.5 566.8,1238.2 568.6,1236.0 569.2,1233.7 571.2,1231.4 572.6,1229.1 573.0,1226.8 574.8,1224.5 575.2,1222.2 576.7,1219.9 577.4,1217.6 578.0,1215.3 579.7,1213.0 581.2,1210.8 582.5,1208.5 583.8,1206.2 585.0,1203.9 586.2,1201.6 587.0,1199.3 588.6,1197.0 589.8,1194.7 590.9,1192.4 591.8,1190.1 592.9,1187.9 593.6,1185.6 594.9,1183.3 595.8,1181.0 597.8,1178.7 598.7,1176.4 599.9,1174.1 601.4,1171.8 603.2,1169.5 604.8,1167.2 606.3,1164.9 609.0,1162.7 610.7,1160.4 612.5,1158.1 615.2,1155.8 616.0,1153.5 617.6,1151.2 618.9,1148.9 619.6,1146.6 620.7,1144.3 622.4,1142.0 623.2,1139.8 624.6,1137.5 626.4,1135.2 627.6,1132.9 629.0,1130.6 630.0,1128.3"/>
<path d="M380.1,1586.4 380.4,1584.1 380.8,1581.8 381.7,1579.5 382.3,1577.2 383.8,1574.9 384.5,1572.7 385.1,1570.4 386.6,1568.1 387.0,1565.8 387.3,1563.5 388.3,1561.2 388.8,1558.9 390.2,1556.6 391.9,1554.3 393.7,1552.0 395.4,1549.8 397.6,1547.5 400.0,1545.2 402.4,1542.9 403.6,1540.6 404.6,1538.3 406.1,1536.0 407.2,1533.7 408.4,1531.4 409.6,1529.1 410.3,1526.8 411.3,1524.6 413.0,1522.3 414.1,1520.0 415.5,1517.7 417.8,1515.4 420.4,1513.1 423.5,1510.8 424.2,1508.5 425.4,1506.2 427.1,1503.9 427.8,1501.7 428.7,1499.4 428.8,1497.1 430.1,1494.8 431.2,1492.5 432.2,1490.2 432.8,1487.9 433.6,1485.6 434.2,1483.3 435.2,1481.0 435.8,1478.7 436.8,1476.5 436.9,1474.2 437.6,1471.9 437.4,1469.6 438.5,1467.3 439.9,1465.0 440.8,1462.7 442.7,1460.4 443.1,1458.1 443.9,1455.8 444.6,1453.6 445.6,1451.3 446.7,1449.0 447.5,1446.7 448.7,1444.4 451.5,1442.1 453.3,1439.8 455.7,1437.5 457.2,1435.2 459.4,1432.9 462.1,1430.6 464.6,1428.4 467.0,1426.1 469.4,1423.8 471.5,1421.5 473.7,1419.2 475.9,1416.9 476.8,1414.6 477.6,1412.3 479.2,1410.0 480.7,1407.7 482.4,1405.5 484.1,1403.2 484.8,1400.9 486.7,1398.6 487.6,1396.3 487.7,1394.0 489.1,1391.7 490.0,1389.4 491.0,1387.1 491.2,1384.8 492.1,1382.5 493.3,1380.3 494.3,1378.0 495.6,1375.7 497.1,1373.4 498.6,1371.1 499.9,1368.8 500.6,1366.5 502.1,1364.2 503.0,1361.9 504.1,1359.6 504.8,1357.4 505.2,1355.1 505.4,1352.8 506.8,1350.5 507.8,1348.2 509.1,1345.9 510.8,1343.6 511.3,1341.3 512.0,1339.0 513.5,1336.7 515.1,1334.4 516.3,1332.2 517.4,1329.9 518.1,1327.6 519.5,1325.3 520.6,1323.0 522.2,1320.7 524.0,1318.4 525.0,1316.1 526.4,1313.8 527.7,1311.5 529.2,1309.2 530.9,1307.0 532.1,1304.7 533.2,1302.4 534.5,1300.1 535.2,1297.8 536.2,1295.5 537.4,1293.2 539.0,1290.9 540.6,1288.6 542.6,1286.3 543.2,1284.1 544.7,1281.8 545.8,1279.5 547.8,1277.2 549.3,1274.9 551.7,1272.6 553.6,1270.3 554.8,1268.0 556.5,1265.7 558.4,1263.4 560.5,1261.1 562.0,1258.9 563.3,1256.6 564.4,1254.3 565.9,1252.0 567.2,1249.7 568.2,1247.4 569.0,1245.1 570.8,1242.8 571.7,1240.5 572.9,1238.2 574.5,1236.0 575.7,1233.7 577.4,1231.4 578.0,1229.1 579.6,1226.8 580.2,1224.5 580.9,1222.2 582.0,1219.9 583.5,1217.6 584.7,1215.3 585.6,1213.0 587.6,1210.8 588.6,1208.5 590.0,1206.2 591.5,1203.9 592.6,1201.6 594.1,1199.3 595.6,1197.0 596.7,1194.7 598.2,1192.4 599.0,1190.1 599.7,1187.9 601.1,1185.6 601.9,1183.3 603.4,1181.0 604.6,1178.7 605.7,1176.4 607.3,1174.1 608.9,1171.8 609.0,1169.5 610.6,1167.2 612.4,1164.9 614.6,1162.7 616.5,1160.4 618.1,1158.1 620.2,1155.8 622.1,1153.5 622.7,1151.2 623.8,1148.9 625.3,1146.6 626.0,1144.3 627.6,1142.0 629.8,1139.8 631.0,1137.5 632.7,1135.2 633.9,1132.9 635.6,1130.6"/>
<path d="M387.5,1586.4 388.3,1584.1 388.6,1581.8 389.4,1579.5 389.9,1577.2 390.1,1574.9 391.3,1572.7 391.5,1570.4 392.2,1568.1 393.9,1565.8 394.8,1563.5 395.1,1561.2 396.0,1558.9 396.8,1556.6 397.9,1554.3 398.8,1552.0 401.0,1549.8 402.6,1547.5 405.2,1545.2 407.4,1542.9 409.3,1540.6 411.3,1538.3 411.5,1536.0 412.1,1533.7 412.9,1531.4 413.9,1529.1 415.6,1526.8 416.6,1524.6 417.6,1522.3 418.5,1520.0 420.0,1517.7 422.4,1515.4 425.1,1513.1 426.9,1510.8 428.5,1508.5 430.1,1506.2 431.4,1503.9 432.0,1501.7 433.4,1499.4 434.6,1497.1 435.5,1494.8 435.8,1492.5 436.2,1490.2 437.2,1487.9 437.8,1485.6 438.2,1483.3 439.6,1481.0 440.9,1478.7 441.9,1476.5 443.1,1474.2 444.1,1471.9 444.3,1469.6 445.6,1467.3 446.3,1465.0 447.2,1462.7 448.6,1460.4 449.5,1458.1 450.9,1455.8 451.6,1453.6 452.3,1451.3 453.0,1449.0 454.1,1446.7 454.8,1444.4 456.6,1442.1 458.6,1439.8 460.6,1437.5 462.0,1435.2 463.6,1432.9 466.8,1430.6 469.4,1428.4 472.9,1426.1 475.1,1423.8 477.6,1421.5 478.9,1419.2 480.6,1416.9 482.4,1414.6 484.3,1412.3 486.6,1410.0 488.2,1407.7 488.8,1405.5 490.0,1403.2 491.1,1400.9 491.9,1398.6 493.2,1396.3 494.8,1394.0 495.4,1391.7 496.7,1389.4 498.0,1387.1 498.2,1384.8 499.8,1382.5 501.2,1380.3 502.0,1378.0 503.4,1375.7 504.1,1373.4 505.3,1371.1 506.3,1368.8 506.6,1366.5 507.6,1364.2 508.5,1361.9 509.3,1359.6 509.9,1357.4 510.8,1355.1 511.6,1352.8 513.4,1350.5 513.8,1348.2 515.2,1345.9 516.3,1343.6 517.2,1341.3 518.9,1339.0 519.9,1336.7 521.7,1334.4 522.9,1332.2 524.2,1329.9 525.3,1327.6 526.8,1325.3 528.3,1323.0 529.2,1320.7 530.4,1318.4 532.3,1316.1 533.0,1313.8 534.9,1311.5 535.7,1309.2 536.5,1307.0 536.9,1304.7 537.8,1302.4 538.4,1300.1 539.6,1297.8 541.3,1295.5 542.7,1293.2 543.8,1290.9 544.8,1288.6 546.1,1286.3 547.2,1284.1 548.8,1281.8 552.0,1279.5 554.3,1277.2 556.1,1274.9 558.2,1272.6 560.5,1270.3 561.7,1268.0 563.2,1265.7 564.2,1263.4 565.1,1261.1 567.4,1258.9 570.2,1256.6 571.1,1254.3 571.6,1252.0 573.6,1249.7 575.3,1247.4 576.6,1245.1 578.3,1242.8 579.2,1240.5 580.4,1238.2 581.8,1236.0 582.7,1233.7 584.0,1231.4 585.1,1229.1 586.4,1226.8 587.6,1224.5 587.9,1222.2 589.3,1219.9 590.1,1217.6 591.2,1215.3 592.0,1213.0 593.9,1210.8 595.3,1208.5 596.6,1206.2 598.5,1203.9 600.0,1201.6 601.1,1199.3 601.4,1197.0 603.1,1194.7 604.2,1192.4 605.3,1190.1 606.8,1187.9 607.7,1185.6 608.9,1183.3 610.5,1181.0 611.9,1178.7 612.9,1176.4 614.7,1174.1 616.4,1171.8 618.3,1169.5 619.4,1167.2 620.8,1164.9 622.9,1162.7 624.8,1160.4 626.7,1158.1 628.3,1155.8 629.6,1153.5 630.7,1151.2 631.9,1148.9 633.6,1146.6 634.9,1144.3 635.8,1142.0 637.4,1139.8 639.6,1137.5 641.4,1135.2 641.8,1132.9"/>
<path d="M393.7,1586.4 394.5,1584.1 394.9,1581.8 395.4,1579.5 395.9,1577.2 396.5,1574.9 396.7,1572.7 398.0,1570.4 398.2,1568.1 399.0,1565.8 400.5,1563.5 401.7,1561.2 402.5,1558.9 403.4,1556.6 404.2,1554.3 405.5,1552.0 407.3,1549.8 410.0,1547.5 411.8,1545.2 413.8,1542.9 415.4,1540.6 416.5,1538.3 417.4,1536.0 418.7,1533.7 419.7,1531.4 420.7,1529.1 421.5,1526.8 421.7,1524.6 423.4,1522.3 425.0,1520.0 426.3,1517.7 428.6,1515.4 431.4,1513.1 433.2,1510.8 435.0,1508.5 436.5,1506.2 437.8,1503.9 439.0,1501.7 439.0,1499.4 440.1,1497.1 440.8,1494.8 442.1,1492.5 443.3,1490.2 444.3,1487.9 444.8,1485.6 446.5,1483.3 446.9,1481.0 446.9,1478.7 447.9,1476.5 448.0,1474.2 449.5,1471.9 450.6,1469.6 451.7,1467.3 452.7,1465.0 453.4,1462.7 453.5,1460.4 454.1,1458.1 455.3,1455.8 456.2,1453.6 457.4,1451.3 458.3,1449.0 459.2,1446.7 460.9,1444.4 462.9,1442.1 464.8,1439.8 466.5,1437.5 468.2,1435.2 471.4,1432.9 473.5,1430.6 475.9,1428.4 478.5,1426.1 481.6,1423.8 483.5,1421.5 485.7,1419.2 487.7,1416.9 488.9,1414.6 490.7,1412.3 491.7,1410.0 493.3,1407.7 495.0,1405.5 496.2,1403.2 497.0,1400.9 498.0,1398.6 499.1,1396.3 500.3,1394.0 500.4,1391.7 500.8,1389.4 502.3,1387.1 503.4,1384.8 504.6,1382.5 505.8,1380.3 506.8,1378.0 507.7,1375.7 508.9,1373.4 510.3,1371.1 511.4,1368.8 512.4,1366.5 513.0,1364.2 514.3,1361.9 514.9,1359.6 515.9,1357.4 517.2,1355.1 518.5,1352.8 520.1,1350.5 521.6,1348.2 522.8,1345.9 523.7,1343.6 524.7,1341.3 525.8,1339.0 527.6,1336.7 528.8,1334.4 529.5,1332.2 530.3,1329.9 532.0,1327.6 532.8,1325.3 534.1,1323.0 535.4,1320.7 537.0,1318.4 537.7,1316.1 539.1,1313.8 540.3,1311.5 541.8,1309.2 543.3,1307.0 544.3,1304.7 545.1,1302.4 546.5,1300.1 546.9,1297.8 548.2,1295.5 549.0,1293.2 549.8,1290.9 550.7,1288.6 551.7,1286.3 553.9,1284.1 556.2,1281.8 558.4,1279.5 561.1,1277.2 563.1,1274.9 564.7,1272.6 565.9,1270.3 567.9,1268.0 569.9,1265.7 571.8,1263.4 572.8,1261.1 574.2,1258.9 575.1,1256.6 577.1,1254.3 578.7,1252.0 580.2,1249.7 581.4,1247.4 582.6,1245.1 583.8,1242.8 585.5,1240.5 586.4,1238.2 588.0,1236.0 589.3,1233.7 590.1,1231.4 590.8,1229.1 591.9,1226.8 593.3,1224.5 594.2,1222.2 595.9,1219.9 597.7,1217.6 599.1,1215.3 599.7,1213.0 600.1,1210.8 602.1,1208.5 604.1,1206.2 605.2,1203.9 606.7,1201.6 607.8,1199.3 608.7,1197.0 610.3,1194.7 611.2,1192.4 612.8,1190.1 614.5,1187.9 615.4,1185.6 617.2,1183.3 617.6,1181.0 619.1,1178.7 620.2,1176.4 622.4,1174.1 623.4,1171.8 624.2,1169.5 626.2,1167.2 627.0,1164.9 629.1,1162.7 630.8,1160.4 633.4,1158.1 635.1,1155.8 637.0,1153.5 638.3,1151.2 639.2,1148.9 639.8,1146.6 642.2,1144.3 643.7,1142.0 644.7,1139.8 646.1,1137.5 648.0,1135.2"/>
<path d="M400.3,1586.4 401.7,1584.1 401.9,1581.8 402.2,1579.5 403.2,1577.2 403.7,1574.9 403.8,1572.7 404.8,1570.4 405.6,1568.1 406.7,1565.8 406.9,1563.5 407.3,1561.2 408.5,1558.9 409.4,1556.6 409.6,1554.3 411.0,1552.0 413.3,1549.8 415.1,1547.5 417.7,1545.2 419.3,1542.9 420.6,1540.6 421.1,1538.3 422.0,1536.0 423.2,1533.7 424.6,1531.4 425.8,1529.1 427.3,1526.8 427.5,1524.6 428.8,1522.3 430.0,1520.0 431.3,1517.7 433.8,1515.4 436.3,1513.1 438.9,1510.8 440.2,1508.5 441.7,1506.2 442.5,1503.9 444.1,1501.7 445.1,1499.4 446.6,1497.1 447.1,1494.8 447.6,1492.5 448.4,1490.2 449.0,1487.9 449.3,1485.6 450.2,1483.3 451.0,1481.0 451.5,1478.7 452.2,1476.5 452.7,1474.2 453.7,1471.9 454.2,1469.6 455.9,1467.3 456.8,1465.0 458.0,1462.7 458.4,1460.4 459.5,1458.1 460.4,1455.8 461.9,1453.6 463.2,1451.3 463.6,1449.0 465.4,1446.7 466.1,1444.4 468.5,1442.1 470.4,1439.8 472.1,1437.5 474.7,1435.2 477.0,1432.9 479.2,1430.6 481.8,1428.4 484.9,1426.1 487.1,1423.8 489.1,1421.5 492.0,1419.2 493.5,1416.9 495.4,1414.6 497.2,1412.3 499.1,1410.0 500.8,1407.7 500.9,1405.5 502.1,1403.2 503.8,1400.9 504.6,1398.6 506.4,1396.3 507.3,1394.0 507.6,1391.7 508.8,1389.4 510.4,1387.1 510.9,1384.8 511.9,1382.5 512.4,1380.3 513.2,1378.0 514.3,1375.7 515.6,1373.4 516.7,1371.1 517.8,1368.8 519.8,1366.5 520.1,1364.2 520.3,1361.9 521.7,1359.6 522.9,1357.4 523.4,1355.1 525.4,1352.8 526.2,1350.5 526.7,1348.2 528.2,1345.9 529.7,1343.6 531.8,1341.3 532.1,1339.0 532.7,1336.7 533.9,1334.4 535.0,1332.2 536.3,1329.9 537.3,1327.6 538.0,1325.3 539.3,1323.0 541.0,1320.7 542.7,1318.4 543.6,1316.1 545.1,1313.8 546.5,1311.5 547.4,1309.2 548.5,1307.0 549.7,1304.7 551.9,1302.4 552.9,1300.1 553.4,1297.8 554.4,1295.5 555.4,1293.2 557.1,1290.9 557.5,1288.6 558.6,1286.3 560.6,1284.1 562.6,1281.8 564.8,1279.5 567.4,1277.2 568.9,1274.9 571.0,1272.6 572.2,1270.3 573.5,1268.0 575.5,1265.7 576.9,1263.4 578.4,1261.1 580.4,1258.9 581.5,1256.6 583.3,1254.3 585.7,1252.0 586.8,1249.7 588.4,1247.4 589.9,1245.1 590.5,1242.8 591.2,1240.5 592.6,1238.2 593.1,1236.0 594.7,1233.7 596.3,1231.4 597.8,1229.1 599.3,1226.8 601.1,1224.5 602.1,1222.2 603.8,1219.9 605.1,1217.6 606.3,1215.3 607.3,1213.0 608.9,1210.8 609.7,1208.5 611.2,1206.2 612.8,1203.9 613.6,1201.6 614.4,1199.3 615.3,1197.0 616.6,1194.7 618.0,1192.4 619.5,1190.1 621.4,1187.9 622.9,1185.6 623.9,1183.3 624.7,1181.0 625.2,1178.7 626.8,1176.4 628.3,1174.1 629.4,1171.8 630.7,1169.5 632.1,1167.2 632.7,1164.9 634.9,1162.7 637.4,1160.4 639.6,1158.1 641.1,1155.8 642.9,1153.5 644.7,1151.2 647.0,1148.9 648.8,1146.6 650.2,1144.3 651.5,1142.0 652.2,1139.8 653.4,1137.5"/>
<path d="M407.2,1586.4 407.6,1584.1 408.6,1581.8 409.4,1579.5 410.2,1577.2 410.5,1574.9 411.4,1572.7 411.7,1570.4 411.4,1568.1 412.3,1565.8 413.1,1563.5 413.3,1561.2 414.2,1558.9 414.4,1556.6 415.6,1554.3 417.8,1552.0 419.4,1549.8 421.9,1547.5 423.9,1545.2 425.2,1542.9 425.8,1540.6 427.4,1538.3 428.7,1536.0 429.1,1533.7 430.0,1531.4 431.6,1529.1 432.4,1526.8 433.6,1524.6 434.0,1522.3 435.0,1520.0 437.1,1517.7 439.2,1515.4 441.5,1513.1 443.5,1510.8 445.1,1508.5 446.0,1506.2 447.4,1503.9 448.9,1501.7 450.5,1499.4 451.2,1497.1 452.7,1494.8 453.6,1492.5 454.2,1490.2 455.1,1487.9 456.3,1485.6 457.4,1483.3 458.1,1481.0 458.5,1478.7 459.3,1476.5 459.9,1474.2 460.5,1471.9 461.3,1469.6 462.7,1467.3 462.7,1465.0 463.5,1462.7 463.9,1460.4 465.2,1458.1 466.6,1455.8 468.0,1453.6 468.8,1451.3 469.8,1449.0 471.3,1446.7 472.7,1444.4 474.4,1442.1 476.4,1439.8 478.6,1437.5 480.7,1435.2 483.2,1432.9 485.2,1430.6 487.9,1428.4 490.4,1426.1 493.2,1423.8 495.4,1421.5 497.7,1419.2 500.2,1416.9 501.4,1414.6 502.8,1412.3 504.6,1410.0 506.7,1407.7 508.3,1405.5 509.6,1403.2 510.6,1400.9 511.3,1398.6 512.5,1396.3 513.6,1394.0 514.4,1391.7 515.0,1389.4 515.3,1387.1 516.0,1384.8 517.0,1382.5 517.7,1380.3 519.1,1378.0 519.7,1375.7 520.9,1373.4 522.3,1371.1 523.8,1368.8 525.0,1366.5 526.5,1364.2 527.2,1361.9 527.9,1359.6 529.5,1357.4 530.2,1355.1 531.3,1352.8 531.7,1350.5 533.5,1348.2 535.0,1345.9 535.8,1343.6 536.3,1341.3 537.8,1339.0 539.2,1336.7 540.9,1334.4 542.7,1332.2 543.8,1329.9 544.7,1327.6 545.7,1325.3 546.7,1323.0 547.3,1320.7 548.2,1318.4 549.6,1316.1 550.3,1313.8 551.2,1311.5 553.2,1309.2 554.2,1307.0 555.9,1304.7 557.4,1302.4 558.5,1300.1 559.9,1297.8 560.8,1295.5 561.6,1293.2 562.8,1290.9 564.2,1288.6 565.7,1286.3 567.2,1284.1 568.8,1281.8 571.5,1279.5 573.6,1277.2 575.6,1274.9 577.9,1272.6 579.1,1270.3 580.8,1268.0 583.0,1265.7 584.5,1263.4 586.5,1261.1 587.7,1258.9 588.8,1256.6 590.2,1254.3 591.3,1252.0 592.6,1249.7 593.9,1247.4 595.7,1245.1 597.2,1242.8 598.4,1240.5 599.3,1238.2 602.0,1236.0 602.9,1233.7 604.6,1231.4 605.1,1229.1 605.9,1226.8 607.7,1224.5 608.4,1222.2 609.2,1219.9 610.6,1217.6 611.7,1215.3 613.0,1213.0 614.4,1210.8 616.2,1208.5 617.5,1206.2 618.9,1203.9 620.7,1201.6 622.3,1199.3 623.1,1197.0 623.4,1194.7 624.2,1192.4 626.0,1190.1 627.0,1187.9 627.9,1185.6 629.0,1183.3 631.0,1181.0 632.2,1178.7 633.3,1176.4 634.3,1174.1 635.4,1171.8 638.1,1169.5 639.4,1167.2 641.1,1164.9 642.8,1162.7 645.4,1160.4 647.0,1158.1 648.2,1155.8 649.8,1153.5 651.6,1151.2 654.1,1148.9 655.4,1146.6 656.5,1144.3 657.9,1142.0 659.0,1139.8"/>
<path d="M414.2,1586.4 414.7,1584.1 415.3,1581.8 415.5,1579.5 416.5,1577.2 416.9,1574.9 417.5,1572.7 417.8,1570.4 418.6,1568.1 419.4,1565.8 420.4,1563.5 420.7,1561.2 421.8,1558.9 422.5,1556.6 423.5,1554.3 425.1,1552.0 427.2,1549.8 428.5,1547.5 429.7,1545.2 431.4,1542.9 433.1,1540.6 433.8,1538.3 435.7,1536.0 435.6,1533.7 437.1,1531.4 438.3,1529.1 439.5,1526.8 439.9,1524.6 441.4,1522.3 442.8,1520.0 444.6,1517.7 446.6,1515.4 449.0,1513.1 451.7,1510.8 453.0,1508.5 453.8,1506.2 454.4,1503.9 455.4,1501.7 455.7,1499.4 456.9,1497.1 457.8,1494.8 458.0,1492.5 459.1,1490.2 460.5,1487.9 461.2,1485.6 461.4,1483.3 461.9,1481.0 463.1,1478.7 463.3,1476.5 464.0,1474.2 465.4,1471.9 466.1,1469.6 466.7,1467.3 468.0,1465.0 469.4,1462.7 470.3,1460.4 470.5,1458.1 470.9,1455.8 472.0,1453.6 472.5,1451.3 474.0,1449.0 475.9,1446.7 476.4,1444.4 478.4,1442.1 480.9,1439.8 483.1,1437.5 485.8,1435.2 488.5,1432.9 491.7,1430.6 495.6,1428.4 498.4,1426.1 500.5,1423.8 502.2,1421.5 503.8,1419.2 506.1,1416.9 508.0,1414.6 509.9,1412.3 511.5,1410.0 513.5,1407.7 515.1,1405.5 516.5,1403.2 517.1,1400.9 517.9,1398.6 518.3,1396.3 519.0,1394.0 520.1,1391.7 520.6,1389.4 521.4,1387.1 523.3,1384.8 524.2,1382.5 524.5,1380.3 525.2,1378.0 526.4,1375.7 527.9,1373.4 529.0,1371.1 530.4,1368.8 531.5,1366.5 532.1,1364.2 533.6,1361.9 534.5,1359.6 536.3,1357.4 537.0,1355.1 538.0,1352.8 538.8,1350.5 539.9,1348.2 541.2,1345.9 542.3,1343.6 543.9,1341.3 545.1,1339.0 546.8,1336.7 547.7,1334.4 549.2,1332.2 550.6,1329.9 551.4,1327.6 553.4,1325.3 554.8,1323.0 555.7,1320.7 556.4,1318.4 557.3,1316.1 558.2,1313.8 559.4,1311.5 560.0,1309.2 561.2,1307.0 562.0,1304.7 563.9,1302.4 565.2,1300.1 566.8,1297.8 568.6,1295.5 569.5,1293.2 571.2,1290.9 572.2,1288.6 573.4,1286.3 574.2,1284.1 575.9,1281.8 578.5,1279.5 580.8,1277.2 582.7,1274.9 584.4,1272.6 585.7,1270.3 587.1,1268.0 588.3,1265.7 590.5,1263.4 592.5,1261.1 593.9,1258.9 594.8,1256.6 596.3,1254.3 598.6,1252.0 599.4,1249.7 600.6,1247.4 601.9,1245.1 603.6,1242.8 604.5,1240.5 606.0,1238.2 607.0,1236.0 608.3,1233.7 609.2,1231.4 610.9,1229.1 612.1,1226.8 613.3,1224.5 615.2,1222.2 616.6,1219.9 618.8,1217.6 619.9,1215.3 621.0,1213.0 622.2,1210.8 624.4,1208.5 625.9,1206.2 626.6,1203.9 627.8,1201.6 628.6,1199.3 629.9,1197.0 630.8,1194.7 631.6,1192.4 633.0,1190.1 634.7,1187.9 636.0,1185.6 637.3,1183.3 638.3,1181.0 638.4,1178.7 639.7,1176.4 641.1,1174.1 642.8,1171.8 645.0,1169.5 646.7,1167.2 647.5,1164.9 649.6,1162.7 651.7,1160.4 654.2,1158.1 656.2,1155.8 657.0,1153.5 658.3,1151.2 659.9,1148.9 660.8,1146.6 662.6,1144.3 664.2,1142.0"/>
<path d="M421.8,1586.4 422.0,1584.1 422.1,1581.8 422.5,1579.5 423.0,1577.2 423.9,1574.9 423.9,1572.7 423.6,1570.4 425.6,1568.1 426.4,1565.8 427.0,1563.5 428.6,1561.2 428.6,1558.9 429.1,1556.6 429.8,1554.3 431.2,1552.0 432.5,1549.8 434.5,1547.5 435.9,1545.2 437.9,1542.9 439.1,1540.6 439.2,1538.3 440.1,1536.0 440.6,1533.7 441.6,1531.4 442.6,1529.1 444.6,1526.8 445.3,1524.6 445.6,1522.3 446.9,1520.0 448.1,1517.7 451.5,1515.4 454.5,1513.1 457.4,1510.8 458.3,1508.5 458.9,1506.2 460.1,1503.9 460.4,1501.7 461.0,1499.4 461.7,1497.1 462.6,1494.8 463.0,1492.5 463.3,1490.2 465.0,1487.9 465.7,1485.6 466.6,1483.3 467.7,1481.0 468.6,1478.7 469.0,1476.5 469.7,1474.2 471.2,1471.9 472.4,1469.6 473.4,1467.3 474.7,1465.0 474.4,1462.7 475.3,1460.4 476.1,1458.1 476.3,1455.8 477.7,1453.6 479.1,1451.3 480.5,1449.0 481.0,1446.7 482.6,1444.4 484.7,1442.1 486.8,1439.8 489.3,1437.5 492.0,1435.2 495.0,1432.9 497.7,1430.6 501.7,1428.4 504.4,1426.1 507.0,1423.8 509.5,1421.5 511.2,1419.2 512.8,1416.9 515.0,1414.6 515.6,1412.3 516.6,1410.0 519.1,1407.7 520.8,1405.5 522.2,1403.2 523.3,1400.9 524.4,1398.6 524.9,1396.3 525.7,1394.0 526.2,1391.7 527.7,1389.4 528.9,1387.1 529.8,1384.8 530.8,1382.5 531.6,1380.3 532.1,1378.0 533.9,1375.7 535.1,1373.4 535.9,1371.1 537.1,1368.8 538.5,1366.5 539.8,1364.2 540.9,1361.9 542.0,1359.6 542.7,1357.4 544.2,1355.1 545.4,1352.8 546.6,1350.5 546.8,1348.2 548.1,1345.9 549.4,1343.6 550.6,1341.3 550.5,1339.0 551.0,1336.7 552.6,1334.4 553.5,1332.2 555.1,1329.9 556.3,1327.6 558.0,1325.3 558.9,1323.0 559.7,1320.7 561.3,1318.4 562.4,1316.1 563.2,1313.8 563.8,1311.5 566.6,1309.2 567.5,1307.0 568.5,1304.7 568.8,1302.4 569.6,1300.1 570.9,1297.8 572.4,1295.5 574.1,1293.2 575.0,1290.9 576.6,1288.6 578.5,1286.3 579.7,1284.1 581.5,1281.8 583.0,1279.5 585.3,1277.2 587.2,1274.9 589.7,1272.6 591.5,1270.3 594.0,1268.0 595.7,1265.7 597.6,1263.4 599.2,1261.1 600.7,1258.9 601.7,1256.6 603.8,1254.3 605.1,1252.0 605.6,1249.7 606.9,1247.4 607.9,1245.1 610.0,1242.8 611.8,1240.5 613.7,1238.2 615.7,1236.0 616.3,1233.7 616.6,1231.4 617.5,1229.1 619.1,1226.8 619.3,1224.5 620.6,1222.2 622.5,1219.9 623.6,1217.6 625.0,1215.3 626.1,1213.0 628.3,1210.8 630.4,1208.5 631.1,1206.2 632.0,1203.9 633.4,1201.6 635.0,1199.3 636.3,1197.0 637.7,1194.7 639.2,1192.4 640.7,1190.1 642.3,1187.9 643.2,1185.6 643.9,1183.3 644.9,1181.0 647.0,1178.7 648.3,1176.4 649.7,1174.1 651.3,1171.8 652.9,1169.5 655.1,1167.2 655.9,1164.9 657.7,1162.7 660.1,1160.4 662.4,1158.1 664.0,1155.8 664.8,1153.5 666.2,1151.2 667.5,1148.9 669.1,1146.6 671.1,1144.3"/>
<path d="M428.6,1586.4 428.4,1584.1 428.5,1581.8 429.1,1579.5 430.1,1577.2 430.5,1574.9 431.1,1572.7 430.9,1570.4 431.4,1568.1 431.9,1565.8 432.8,1563.5 433.5,1561.2 434.0,1558.9 434.6,1556.6 435.8,1554.3 436.8,1552.0 438.8,1549.8 440.4,1547.5 441.8,1545.2 443.6,1542.9 444.1,1540.6 445.4,1538.3 446.0,1536.0 447.1,1533.7 447.7,1531.4 448.2,1529.1 448.5,1526.8 449.7,1524.6 451.2,1522.3 451.8,1520.0 454.3,1517.7 456.9,1515.4 459.3,1513.1 462.5,1510.8 463.6,1508.5 465.4,1506.2 465.0,1503.9 467.0,1501.7 467.8,1499.4 468.5,1497.1 469.3,1494.8 469.5,1492.5 470.8,1490.2 471.7,1487.9 472.4,1485.6 472.8,1483.3 473.0,1481.0 473.9,1478.7 475.0,1476.5 475.8,1474.2 476.4,1471.9 477.0,1469.6 478.1,1467.3 479.5,1465.0 480.1,1462.7 480.6,1460.4 482.5,1458.1 482.6,1455.8 483.7,1453.6 484.8,1451.3 486.5,1449.0 487.6,1446.7 488.3,1444.4 489.8,1442.1 492.2,1439.8 494.7,1437.5 497.0,1435.2 499.4,1432.9 501.8,1430.6 504.5,1428.4 507.8,1426.1 510.7,1423.8 513.4,1421.5 515.3,1419.2 518.2,1416.9 519.4,1414.6 521.7,1412.3 523.6,1410.0 525.8,1407.7 527.6,1405.5 528.1,1403.2 529.4,1400.9 530.7,1398.6 531.9,1396.3 532.9,1394.0 533.4,1391.7 534.7,1389.4 535.4,1387.1 536.0,1384.8 536.9,1382.5 537.7,1380.3 538.4,1378.0 539.5,1375.7 541.7,1373.4 542.6,1371.1 543.5,1368.8 544.2,1366.5 545.3,1364.2 545.8,1361.9 547.2,1359.6 548.3,1357.4 549.4,1355.1 550.7,1352.8 551.7,1350.5 553.0,1348.2 554.3,1345.9 555.5,1343.6 556.5,1341.3 557.9,1339.0 558.8,1336.7 560.4,1334.4 561.3,1332.2 562.8,1329.9 563.9,1327.6 564.8,1325.3 565.4,1323.0 566.9,1320.7 568.1,1318.4 569.3,1316.1 570.5,1313.8 571.7,1311.5 572.4,1309.2 573.1,1307.0 574.6,1304.7 575.8,1302.4 577.5,1300.1 579.3,1297.8 580.4,1295.5 581.6,1293.2 582.7,1290.9 583.8,1288.6 584.7,1286.3 585.1,1284.1 587.5,1281.8 590.1,1279.5 592.6,1277.2 594.9,1274.9 597.2,1272.6 599.3,1270.3 600.9,1268.0 602.3,1265.7 604.1,1263.4 605.9,1261.1 608.2,1258.9 609.0,1256.6 610.5,1254.3 611.4,1252.0 612.6,1249.7 615.0,1247.4 616.0,1245.1 617.2,1242.8 618.2,1240.5 619.9,1238.2 620.9,1236.0 621.5,1233.7 623.0,1231.4 624.7,1229.1 626.0,1226.8 627.3,1224.5 628.3,1222.2 629.2,1219.9 630.6,1217.6 631.6,1215.3 632.9,1213.0 633.9,1210.8 635.4,1208.5 637.3,1206.2 638.7,1203.9 640.5,1201.6 641.8,1199.3 642.9,1197.0 643.7,1194.7 645.0,1192.4 645.7,1190.1 647.3,1187.9 648.0,1185.6 648.8,1183.3 649.9,1181.0 650.8,1178.7 652.5,1176.4 653.9,1174.1 655.4,1171.8 657.4,1169.5 658.2,1167.2 660.2,1164.9 662.7,1162.7 665.6,1160.4 668.0,1158.1 669.8,1155.8 671.9,1153.5 673.8,1151.2 676.2,1148.9 678.3,1146.6"/>
<path d="M435.0,1586.4 435.9,1584.1 436.2,1581.8 436.0,1579.5 436.7,1577.2 437.7,1574.9 437.0,1572.7 438.2,1570.4 438.3,1568.1 439.6,1565.8 440.2,1563.5 440.8,1561.2 442.0,1558.9 442.5,1556.6 444.0,1554.3 444.4,1552.0 445.3,1549.8 446.2,1547.5 447.9,1545.2 449.1,1542.9 450.5,1540.6 451.7,1538.3 452.7,1536.0 453.7,1533.7 454.7,1531.4 455.2,1529.1 455.5,1526.8 456.0,1524.6 457.3,1522.3 458.2,1520.0 459.3,1517.7 461.7,1515.4 464.7,1513.1 467.3,1510.8 468.7,1508.5 469.5,1506.2 470.9,1503.9 471.0,1501.7 472.0,1499.4 473.4,1497.1 474.4,1494.8 475.7,1492.5 476.4,1490.2 477.3,1487.9 477.9,1485.6 478.3,1483.3 479.1,1481.0 480.1,1478.7 479.9,1476.5 480.4,1474.2 480.4,1471.9 481.1,1469.6 481.8,1467.3 482.8,1465.0 483.9,1462.7 485.4,1460.4 487.0,1458.1 487.6,1455.8 488.5,1453.6 490.0,1451.3 491.0,1449.0 492.2,1446.7 493.1,1444.4 495.5,1442.1 497.9,1439.8 500.0,1437.5 502.1,1435.2 504.5,1432.9 507.9,1430.6 511.0,1428.4 513.9,1426.1 517.0,1423.8 520.0,1421.5 522.8,1419.2 525.2,1416.9 527.0,1414.6 528.7,1412.3 530.3,1410.0 532.0,1407.7 533.5,1405.5 534.2,1403.2 535.0,1400.9 536.0,1398.6 537.4,1396.3 538.1,1394.0 538.8,1391.7 540.2,1389.4 541.7,1387.1 542.0,1384.8 542.9,1382.5 544.3,1380.3 545.0,1378.0 546.4,1375.7 546.7,1373.4 547.7,1371.1 549.1,1368.8 550.7,1366.5 552.0,1364.2 552.2,1361.9 552.6,1359.6 553.5,1357.4 555.2,1355.1 556.6,1352.8 558.2,1350.5 559.4,1348.2 560.1,1345.9 561.1,1343.6 561.8,1341.3 563.4,1339.0 564.0,1336.7 565.3,1334.4 566.6,1332.2 568.3,1329.9 569.1,1327.6 570.4,1325.3 571.2,1323.0 572.8,1320.7 573.8,1318.4 574.9,1316.1 575.7,1313.8 576.8,1311.5 577.8,1309.2 578.9,1307.0 580.7,1304.7 581.4,1302.4 582.7,1300.1 584.2,1297.8 584.8,1295.5 585.2,1293.2 586.9,1290.9 587.7,1288.6 589.1,1286.3 590.9,1284.1 593.2,1281.8 595.6,1279.5 598.0,1277.2 600.9,1274.9 603.0,1272.6 605.6,1270.3 606.7,1268.0 608.3,1265.7 610.0,1263.4 611.8,1261.1 613.4,1258.9 614.8,1256.6 617.1,1254.3 618.3,1252.0 619.7,1249.7 621.0,1247.4 622.0,1245.1 623.7,1242.8 624.2,1240.5 626.1,1238.2 626.7,1236.0 628.0,1233.7 629.5,1231.4 630.7,1229.1 631.9,1226.8 633.8,1224.5 636.0,1222.2 637.5,1219.9 638.5,1217.6 639.3,1215.3 640.2,1213.0 642.0,1210.8 643.5,1208.5 645.2,1206.2 646.7,1203.9 648.3,1201.6 648.9,1199.3 649.6,1197.0 650.3,1194.7 651.6,1192.4 652.7,1190.1 654.0,1187.9 654.7,1185.6 656.1,1183.3 657.8,1181.0 659.1,1178.7 659.3,1176.4 660.9,1174.1 662.4,1171.8 664.5,1169.5 666.0,1167.2 668.1,1164.9 670.1,1162.7 672.6,1160.4 675.3,1158.1 677.2,1155.8 679.0,1153.5 680.6,1151.2 682.3,1148.9"/>
<path d="M441.8,1586.4 442.3,1584.1 441.8,1581.8 442.2,1579.5 443.1,1577.2 443.8,1574.9 443.8,1572.7 444.0,1570.4 444.8,1568.1 445.6,1565.8 446.4,1563.5 447.0,1561.2 447.7,1558.9 448.8,1556.6 449.1,1554.3 449.5,1552.0 451.2,1549.8 452.2,1547.5 453.8,1545.2 454.7,1542.9 455.3,1540.6 456.9,1538.3 457.6,1536.0 457.8,1533.7 458.6,1531.4 459.4,1529.1 460.3,1526.8 461.4,1524.6 462.0,1522.3 463.1,1520.0 465.0,1517.7 467.9,1515.4 470.9,1513.1 473.0,1510.8 473.7,1508.5 475.6,1506.2 476.2,1503.9 477.1,1501.7 478.1,1499.4 479.1,1497.1 479.9,1494.8 480.4,1492.5 481.2,1490.2 482.9,1487.9 484.5,1485.6 484.7,1483.3 485.4,1481.0 485.1,1478.7 485.8,1476.5 486.8,1474.2 487.3,1471.9 488.8,1469.6 489.8,1467.3 490.6,1465.0 490.2,1462.7 490.9,1460.4 492.3,1458.1 493.1,1455.8 493.5,1453.6 494.6,1451.3 496.7,1449.0 498.4,1446.7 500.2,1444.4 502.1,1442.1 504.8,1439.8 505.9,1437.5 508.1,1435.2 511.7,1432.9 515.0,1430.6 518.2,1428.4 521.2,1426.1 523.5,1423.8 526.0,1421.5 528.2,1419.2 530.0,1416.9 532.6,1414.6 534.8,1412.3 536.3,1410.0 538.1,1407.7 539.4,1405.5 540.7,1403.2 541.6,1400.9 543.7,1398.6 543.8,1396.3 544.7,1394.0 546.0,1391.7 547.2,1389.4 547.2,1387.1 547.8,1384.8 548.8,1382.5 549.5,1380.3 550.4,1378.0 551.5,1375.7 552.6,1373.4 554.3,1371.1 554.6,1368.8 556.3,1366.5 557.3,1364.2 558.6,1361.9 559.5,1359.6 561.6,1357.4 561.7,1355.1 563.3,1352.8 564.1,1350.5 565.1,1348.2 566.8,1345.9 567.7,1343.6 569.1,1341.3 570.7,1339.0 571.3,1336.7 573.1,1334.4 574.5,1332.2 575.2,1329.9 576.2,1327.6 576.9,1325.3 578.1,1323.0 579.6,1320.7 581.0,1318.4 582.0,1316.1 582.8,1313.8 583.7,1311.5 584.5,1309.2 585.6,1307.0 587.0,1304.7 587.8,1302.4 588.7,1300.1 589.5,1297.8 591.0,1295.5 592.2,1293.2 592.9,1290.9 594.9,1288.6 596.8,1286.3 598.3,1284.1 600.1,1281.8 602.5,1279.5 604.6,1277.2 607.6,1274.9 610.1,1272.6 612.1,1270.3 613.8,1268.0 615.4,1265.7 617.1,1263.4 619.2,1261.1 620.2,1258.9 621.6,1256.6 622.7,1254.3 623.7,1252.0 625.4,1249.7 627.4,1247.4 628.3,1245.1 630.1,1242.8 631.7,1240.5 633.1,1238.2 634.8,1236.0 635.6,1233.7 637.5,1231.4 638.4,1229.1 639.8,1226.8 640.3,1224.5 642.0,1222.2 643.2,1219.9 644.2,1217.6 645.1,1215.3 646.6,1213.0 648.5,1210.8 650.0,1208.5 651.1,1206.2 652.1,1203.9 653.0,1201.6 654.3,1199.3 655.0,1197.0 656.3,1194.7 658.2,1192.4 659.4,1190.1 660.6,1187.9 661.6,1185.6 663.2,1183.3 664.7,1181.0 666.5,1178.7 667.4,1176.4 668.3,1174.1 669.5,1171.8 670.7,1169.5 672.5,1167.2 674.3,1164.9 676.3,1162.7 678.9,1160.4 681.8,1158.1 684.3,1155.8 685.7,1153.5 687.3,1151.2 689.0,1148.9"/>
<path d="M449.0,1586.4 449.0,1584.1 448.8,1581.8 449.3,1579.5 449.4,1577.2 449.8,1574.9 450.2,1572.7 451.2,1570.4 451.5,1568.1 452.1,1565.8 452.6,1563.5 453.1,1561.2 454.1,1558.9 454.6,1556.6 455.6,1554.3 456.6,1552.0 456.9,1549.8 457.5,1547.5 457.7,1545.2 459.5,1542.9 460.8,1540.6 461.6,1538.3 462.3,1536.0 463.2,1533.7 463.9,1531.4 464.8,1529.1 465.8,1526.8 466.5,1524.6 468.2,1522.3 469.7,1520.0 470.9,1517.7 474.4,1515.4 478.2,1513.1 480.7,1510.8 482.2,1508.5 482.6,1506.2 483.2,1503.9 483.3,1501.7 483.9,1499.4 485.1,1497.1 485.7,1494.8 485.7,1492.5 487.3,1490.2 488.8,1487.9 489.9,1485.6 489.6,1483.3 490.5,1481.0 490.7,1478.7 491.3,1476.5 492.3,1474.2 493.6,1471.9 493.9,1469.6 494.5,1467.3 494.8,1465.0 495.7,1462.7 496.3,1460.4 497.2,1458.1 498.7,1455.8 499.8,1453.6 501.0,1451.3 502.4,1449.0 504.0,1446.7 506.1,1444.4 507.3,1442.1 509.0,1439.8 511.8,1437.5 514.8,1435.2 517.9,1432.9 521.1,1430.6 524.9,1428.4 528.2,1426.1 530.7,1423.8 533.5,1421.5 535.1,1419.2 536.9,1416.9 539.0,1414.6 540.7,1412.3 542.7,1410.0 544.0,1407.7 546.2,1405.5 546.9,1403.2 548.3,1400.9 549.1,1398.6 550.6,1396.3 551.2,1394.0 552.4,1391.7 551.8,1389.4 552.7,1387.1 554.5,1384.8 555.5,1382.5 556.5,1380.3 557.9,1378.0 559.7,1375.7 560.0,1373.4 560.9,1371.1 561.7,1368.8 563.0,1366.5 563.7,1364.2 564.1,1361.9 564.8,1359.6 566.4,1357.4 567.7,1355.1 569.3,1352.8 569.7,1350.5 570.6,1348.2 571.7,1345.9 573.4,1343.6 574.7,1341.3 575.8,1339.0 576.6,1336.7 577.9,1334.4 578.9,1332.2 580.6,1329.9 582.4,1327.6 583.4,1325.3 584.0,1323.0 586.2,1320.7 587.3,1318.4 588.5,1316.1 589.5,1313.8 590.6,1311.5 591.6,1309.2 592.7,1307.0 593.0,1304.7 593.9,1302.4 595.0,1300.1 596.3,1297.8 597.5,1295.5 598.9,1293.2 599.4,1290.9 600.5,1288.6 601.9,1286.3 603.7,1284.1 605.8,1281.8 609.1,1279.5 611.5,1277.2 613.8,1274.9 615.2,1272.6 617.9,1270.3 619.7,1268.0 621.3,1265.7 622.7,1263.4 624.5,1261.1 625.9,1258.9 628.1,1256.6 629.2,1254.3 630.5,1252.0 631.8,1249.7 633.6,1247.4 635.2,1245.1 636.9,1242.8 638.4,1240.5 639.9,1238.2 641.1,1236.0 642.6,1233.7 643.9,1231.4 645.2,1229.1 645.7,1226.8 646.8,1224.5 647.9,1222.2 648.6,1219.9 650.7,1217.6 652.6,1215.3 654.3,1213.0 655.7,1210.8 657.4,1208.5 657.8,1206.2 659.6,1203.9 660.0,1201.6 661.4,1199.3 662.8,1197.0 664.2,1194.7 665.6,1192.4 667.0,1190.1 667.8,1187.9 668.7,1185.6 669.6,1183.3 671.0,1181.0 672.3,1178.7 673.0,1176.4 675.1,1174.1 676.1,1171.8 677.7,1169.5 679.2,1167.2 680.9,1164.9 683.6,1162.7 685.9,1160.4 687.9,1158.1 690.1,1155.8 691.7,1153.5 693.0,1151.2"/>
<path d="M455.9,1586.4 456.5,1584.1 456.0,1581.8 457.0,1579.5 457.9,1577.2 457.4,1574.9 457.9,1572.7 458.2,1570.4 458.9,1568.1 458.1,1565.8 459.1,1563.5 459.6,1561.2 460.5,1558.9 461.5,1556.6 461.2,1554.3 462.2,1552.0 463.3,1549.8 464.7,1547.5 466.3,1545.2 467.5,1542.9 467.8,1540.6 468.8,1538.3 469.1,1536.0 470.1,1533.7 470.6,1531.4 471.2,1529.1 472.1,1526.8 472.3,1524.6 473.2,1522.3 474.0,1520.0 476.1,1517.7 479.4,1515.4 481.8,1513.1 483.5,1510.8 485.3,1508.5 486.4,1506.2 487.2,1503.9 489.2,1501.7 489.8,1499.4 490.2,1497.1 490.9,1494.8 491.8,1492.5 493.3,1490.2 494.0,1487.9 494.1,1485.6 494.6,1483.3 496.0,1481.0 495.8,1478.7 496.6,1476.5 497.8,1474.2 498.6,1471.9 499.2,1469.6 499.6,1467.3 500.6,1465.0 501.7,1462.7 502.6,1460.4 503.9,1458.1 504.9,1455.8 506.3,1453.6 507.3,1451.3 508.8,1449.0 509.8,1446.7 511.9,1444.4 514.1,1442.1 516.4,1439.8 518.3,1437.5 520.9,1435.2 522.3,1432.9 525.4,1430.6 529.1,1428.4 532.3,1426.1 535.7,1423.8 538.7,1421.5 541.7,1419.2 543.6,1416.9 544.8,1414.6 545.8,1412.3 547.7,1410.0 549.9,1407.7 551.9,1405.5 553.2,1403.2 554.1,1400.9 554.9,1398.6 556.0,1396.3 557.1,1394.0 558.3,1391.7 559.2,1389.4 560.9,1387.1 561.6,1384.8 562.5,1382.5 563.8,1380.3 564.9,1378.0 565.4,1375.7 565.6,1373.4 566.2,1371.1 567.6,1368.8 569.0,1366.5 570.2,1364.2 571.5,1361.9 573.0,1359.6 573.6,1357.4 575.7,1355.1 577.5,1352.8 578.4,1350.5 579.0,1348.2 579.9,1345.9 580.2,1343.6 581.3,1341.3 582.0,1339.0 583.2,1336.7 584.3,1334.4 586.3,1332.2 587.0,1329.9 588.2,1327.6 589.2,1325.3 591.0,1323.0 592.4,1320.7 592.7,1318.4 593.5,1316.1 594.9,1313.8 595.8,1311.5 597.3,1309.2 598.4,1307.0 599.1,1304.7 600.1,1302.4 601.5,1300.1 602.6,1297.8 603.8,1295.5 605.1,1293.2 606.3,1290.9 608.2,1288.6 609.0,1286.3 610.7,1284.1 612.5,1281.8 615.2,1279.5 618.1,1277.2 620.8,1274.9 623.0,1272.6 625.0,1270.3 626.8,1268.0 628.2,1265.7 630.1,1263.4 632.0,1261.1 633.7,1258.9 635.2,1256.6 636.6,1254.3 637.1,1252.0 638.3,1249.7 639.8,1247.4 641.8,1245.1 643.6,1242.8 644.9,1240.5 645.7,1238.2 647.3,1236.0 649.0,1233.7 650.5,1231.4 651.4,1229.1 652.2,1226.8 653.2,1224.5 654.2,1222.2 656.1,1219.9 657.6,1217.6 659.8,1215.3 661.6,1213.0 663.0,1210.8 663.7,1208.5 665.2,1206.2 666.5,1203.9 667.1,1201.6 667.9,1199.3 668.9,1197.0 670.8,1194.7 671.9,1192.4 672.6,1190.1 674.0,1187.9 675.5,1185.6 676.3,1183.3 678.5,1181.0 679.4,1178.7 681.2,1176.4 682.8,1174.1 683.8,1171.8 685.3,1169.5 686.9,1167.2 688.6,1164.9 691.2,1162.7 693.7,1160.4 695.4,1158.1 697.8,1155.8 699.2,1153.5 700.9,1151.2"/>
<path d="M462.5,1586.4 462.6,1584.1 463.3,1581.8 463.5,1579.5 463.5,1577.2 464.5,1574.9 465.0,1572.7 465.2,1570.4 465.5,1568.1 465.7,1565.8 466.2,1563.5 466.3,1561.2 467.6,1558.9 468.6,1556.6 468.1,1554.3 468.6,1552.0 469.6,1549.8 470.4,1547.5 470.6,1545.2 472.1,1542.9 472.6,1540.6 473.8,1538.3 474.7,1536.0 476.0,1533.7 476.2,1531.4 477.6,1529.1 477.7,1526.8 479.1,1524.6 480.3,1522.3 481.3,1520.0 482.2,1517.7 485.5,1515.4 488.8,1513.1 490.4,1510.8 490.7,1508.5 491.9,1506.2 492.8,1503.9 494.2,1501.7 495.1,1499.4 496.1,1497.1 496.6,1494.8 497.8,1492.5 498.3,1490.2 498.4,1487.9 498.3,1485.6 499.5,1483.3 500.1,1481.0 500.3,1478.7 501.0,1476.5 501.8,1474.2 503.1,1471.9 503.2,1469.6 504.2,1467.3 505.6,1465.0 506.8,1462.7 508.1,1460.4 509.8,1458.1 510.2,1455.8 511.0,1453.6 512.6,1451.3 514.4,1449.0 515.7,1446.7 516.9,1444.4 518.3,1442.1 521.0,1439.8 523.7,1437.5 525.9,1435.2 528.5,1432.9 531.4,1430.6 535.3,1428.4 538.8,1426.1 542.6,1423.8 545.7,1421.5 547.9,1419.2 550.4,1416.9 552.5,1414.6 554.7,1412.3 555.9,1410.0 557.5,1407.7 559.5,1405.5 560.7,1403.2 561.5,1400.9 562.4,1398.6 564.2,1396.3 564.6,1394.0 565.1,1391.7 566.2,1389.4 566.8,1387.1 566.9,1384.8 567.3,1382.5 568.5,1380.3 569.5,1378.0 571.3,1375.7 572.0,1373.4 572.6,1371.1 573.5,1368.8 574.3,1366.5 576.1,1364.2 577.0,1361.9 578.8,1359.6 580.1,1357.4 581.9,1355.1 582.7,1352.8 583.9,1350.5 584.0,1348.2 584.9,1345.9 585.8,1343.6 587.5,1341.3 588.6,1339.0 590.0,1336.7 590.8,1334.4 591.5,1332.2 592.7,1329.9 594.5,1327.6 595.6,1325.3 597.4,1323.0 598.3,1320.7 599.2,1318.4 600.2,1316.1 601.3,1313.8 602.2,1311.5 603.3,1309.2 604.2,1307.0 605.0,1304.7 606.9,1302.4 608.3,1300.1 609.1,1297.8 610.0,1295.5 610.6,1293.2 612.2,1290.9 613.4,1288.6 615.7,1286.3 616.5,1284.1 618.8,1281.8 621.8,1279.5 624.2,1277.2 627.6,1274.9 629.8,1272.6 631.9,1270.3 633.0,1268.0 635.1,1265.7 637.0,1263.4 638.5,1261.1 640.7,1258.9 642.1,1256.6 642.4,1254.3 644.1,1252.0 646.3,1249.7 647.3,1247.4 649.0,1245.1 650.0,1242.8 651.3,1240.5 651.6,1238.2 652.5,1236.0 654.0,1233.7 655.4,1231.4 656.3,1229.1 658.3,1226.8 660.0,1224.5 661.1,1222.2 661.7,1219.9 663.6,1217.6 665.0,1215.3 666.8,1213.0 668.7,1210.8 669.8,1208.5 671.1,1206.2 672.8,1203.9 674.0,1201.6 674.4,1199.3 676.1,1197.0 677.5,1194.7 678.5,1192.4 680.0,1190.1 681.1,1187.9 682.2,1185.6 683.8,1183.3 684.5,1181.0 685.2,1178.7 686.8,1176.4 687.8,1174.1 690.0,1171.8 691.4,1169.5 692.5,1167.2 694.5,1164.9 696.2,1162.7 699.8,1160.4 702.5,1158.1 705.1,1155.8 707.2,1153.5"/>
<path d="M469.3,1586.4 469.1,1584.1 469.7,1581.8 469.9,1579.5 469.9,1577.2 469.5,1574.9 470.6,1572.7 471.0,1570.4 471.3,1568.1 471.1,1565.8 472.2,1563.5 472.8,1561.2 473.8,1558.9 474.3,1556.6 474.5,1554.3 475.5,1552.0 475.7,1549.8 476.0,1547.5 477.1,1545.2 478.4,1542.9 479.7,1540.6 480.2,1538.3 480.7,1536.0 481.4,1533.7 481.9,1531.4 482.3,1529.1 483.3,1526.8 483.9,1524.6 484.8,1522.3 486.3,1520.0 487.9,1517.7 490.4,1515.4 493.8,1513.1 496.2,1510.8 497.9,1508.5 498.5,1506.2 499.2,1503.9 499.6,1501.7 501.0,1499.4 502.3,1497.1 503.4,1494.8 504.0,1492.5 504.7,1490.2 505.1,1487.9 505.9,1485.6 506.3,1483.3 506.4,1481.0 507.5,1478.7 508.4,1476.5 509.2,1474.2 509.7,1471.9 510.2,1469.6 511.0,1467.3 511.9,1465.0 512.2,1462.7 513.0,1460.4 513.6,1458.1 515.3,1455.8 515.8,1453.6 516.7,1451.3 517.8,1449.0 519.5,1446.7 521.0,1444.4 523.9,1442.1 526.7,1439.8 528.3,1437.5 531.3,1435.2 534.4,1432.9 537.2,1430.6 540.8,1428.4 544.6,1426.1 547.7,1423.8 550.5,1421.5 553.1,1419.2 555.1,1416.9 557.2,1414.6 558.7,1412.3 560.8,1410.0 562.3,1407.7 564.4,1405.5 566.5,1403.2 568.2,1400.9 568.7,1398.6 569.7,1396.3 570.4,1394.0 571.3,1391.7 571.7,1389.4 572.2,1387.1 573.1,1384.8 573.8,1382.5 575.4,1380.3 576.7,1378.0 577.8,1375.7 578.6,1373.4 579.6,1371.1 581.0,1368.8 581.9,1366.5 582.9,1364.2 584.7,1361.9 585.5,1359.6 586.3,1357.4 587.2,1355.1 588.7,1352.8 589.5,1350.5 590.3,1348.2 591.8,1345.9 593.3,1343.6 594.8,1341.3 595.3,1339.0 596.4,1336.7 597.2,1334.4 598.5,1332.2 598.9,1329.9 600.1,1327.6 601.7,1325.3 603.0,1323.0 603.1,1320.7 604.9,1318.4 606.2,1316.1 607.3,1313.8 608.5,1311.5 609.5,1309.2 611.2,1307.0 612.1,1304.7 612.5,1302.4 613.3,1300.1 615.2,1297.8 616.7,1295.5 618.1,1293.2 618.8,1290.9 620.3,1288.6 622.1,1286.3 623.5,1284.1 625.7,1281.8 628.6,1279.5 631.5,1277.2 634.0,1274.9 636.0,1272.6 637.2,1270.3 638.8,1268.0 641.0,1265.7 643.3,1263.4 644.8,1261.1 646.7,1258.9 648.1,1256.6 649.1,1254.3 650.7,1252.0 652.3,1249.7 653.3,1247.4 654.5,1245.1 656.0,1242.8 657.3,1240.5 658.9,1238.2 659.8,1236.0 661.6,1233.7 662.7,1231.4 664.3,1229.1 665.0,1226.8 666.9,1224.5 668.3,1222.2 670.5,1219.9 670.9,1217.6 671.5,1215.3 673.4,1213.0 675.1,1210.8 675.7,1208.5 677.5,1206.2 679.3,1203.9 681.2,1201.6 682.4,1199.3 682.9,1197.0 683.4,1194.7 685.7,1192.4 687.0,1190.1 688.5,1187.9 689.5,1185.6 690.5,1183.3 691.7,1181.0 692.6,1178.7 694.0,1176.4 695.1,1174.1 696.6,1171.8 698.8,1169.5 700.5,1167.2 702.2,1164.9 705.3,1162.7 708.3,1160.4 710.7,1158.1 712.1,1155.8 714.5,1153.5"/>
<path d="M476.6,1586.4 476.4,1584.1 477.2,1581.8 476.9,1579.5 477.1,1577.2 477.2,1574.9 477.6,1572.7 478.0,1570.4 478.9,1568.1 479.1,1565.8 479.6,1563.5 480.0,1561.2 480.5,1558.9 480.6,1556.6 481.2,1554.3 482.4,1552.0 483.3,1549.8 483.3,1547.5 483.9,1545.2 484.2,1542.9 484.7,1540.6 485.1,1538.3 485.4,1536.0 486.4,1533.7 487.5,1531.4 488.2,1529.1 488.7,1526.8 489.6,1524.6 490.2,1522.3 491.7,1520.0 494.1,1517.7 495.6,1515.4 499.1,1513.1 501.7,1510.8 503.2,1508.5 504.2,1506.2 504.6,1503.9 505.5,1501.7 506.3,1499.4 507.0,1497.1 507.8,1494.8 508.4,1492.5 510.2,1490.2 510.2,1487.9 510.7,1485.6 510.9,1483.3 511.6,1481.0 513.0,1478.7 513.5,1476.5 513.8,1474.2 514.1,1471.9 515.3,1469.6 515.8,1467.3 517.0,1465.0 517.6,1462.7 518.4,1460.4 519.5,1458.1 519.9,1455.8 521.7,1453.6 522.5,1451.3 524.0,1449.0 525.7,1446.7 528.3,1444.4 530.4,1442.1 532.9,1439.8 535.2,1437.5 537.8,1435.2 540.6,1432.9 544.3,1430.6 547.4,1428.4 551.1,1426.1 555.6,1423.8 557.7,1421.5 559.1,1419.2 561.2,1416.9 563.3,1414.6 566.0,1412.3 567.9,1410.0 569.9,1407.7 570.9,1405.5 572.1,1403.2 573.4,1400.9 574.1,1398.6 575.3,1396.3 576.1,1394.0 577.2,1391.7 577.5,1389.4 577.7,1387.1 579.4,1384.8 580.4,1382.5 581.4,1380.3 583.6,1378.0 584.8,1375.7 585.7,1373.4 586.3,1371.1 587.4,1368.8 588.4,1366.5 589.2,1364.2 590.8,1361.9 592.0,1359.6 593.1,1357.4 593.7,1355.1 594.4,1352.8 596.0,1350.5 597.0,1348.2 597.8,1345.9 599.1,1343.6 600.1,1341.3 601.1,1339.0 602.1,1336.7 603.6,1334.4 604.8,1332.2 605.6,1329.9 606.4,1327.6 607.8,1325.3 608.6,1323.0 609.9,1320.7 611.1,1318.4 611.9,1316.1 612.3,1313.8 613.5,1311.5 615.0,1309.2 616.3,1307.0 618.1,1304.7 619.1,1302.4 620.2,1300.1 621.4,1297.8 622.3,1295.5 624.2,1293.2 625.1,1290.9 626.0,1288.6 627.3,1286.3 629.5,1284.1 631.3,1281.8 633.6,1279.5 636.7,1277.2 639.8,1274.9 641.6,1272.6 643.8,1270.3 645.3,1268.0 647.7,1265.7 648.8,1263.4 650.4,1261.1 652.0,1258.9 653.3,1256.6 655.0,1254.3 656.9,1252.0 658.1,1249.7 660.5,1247.4 661.9,1245.1 663.3,1242.8 664.3,1240.5 665.7,1238.2 667.4,1236.0 668.2,1233.7 669.3,1231.4 670.4,1229.1 671.4,1226.8 673.2,1224.5 674.3,1222.2 676.5,1219.9 677.3,1217.6 678.5,1215.3 680.0,1213.0 681.0,1210.8 681.7,1208.5 683.2,1206.2 684.9,1203.9 686.1,1201.6 687.8,1199.3 688.5,1197.0 690.2,1194.7 692.4,1192.4 694.0,1190.1 695.5,1187.9 696.3,1185.6 697.3,1183.3 699.0,1181.0 700.0,1178.7 701.6,1176.4 702.5,1174.1 704.2,1171.8 705.9,1169.5 706.7,1167.2 708.7,1164.9 711.5,1162.7 714.4,1160.4 717.2,1158.1 720.0,1155.8"/>
<path d="M482.9,1586.4 482.7,1584.1 483.4,1581.8 484.4,1579.5 484.3,1577.2 485.1,1574.9 485.1,1572.7 484.6,1570.4 484.6,1568.1 484.8,1565.8 485.8,1563.5 486.3,1561.2 486.5,1558.9 487.1,1556.6 488.1,1554.3 488.5,1552.0 488.7,1549.8 489.5,1547.5 489.8,1545.2 490.6,1542.9 491.6,1540.6 492.1,1538.3 492.3,1536.0 492.8,1533.7 492.8,1531.4 494.1,1529.1 495.6,1526.8 496.1,1524.6 495.9,1522.3 496.7,1520.0 497.7,1517.7 500.1,1515.4 503.6,1513.1 506.5,1510.8 507.9,1508.5 509.7,1506.2 510.7,1503.9 511.1,1501.7 512.2,1499.4 512.4,1497.1 513.1,1494.8 513.6,1492.5 514.7,1490.2 515.4,1487.9 515.9,1485.6 516.7,1483.3 517.6,1481.0 518.3,1478.7 519.4,1476.5 519.5,1474.2 520.4,1471.9 521.8,1469.6 522.4,1467.3 522.2,1465.0 523.5,1462.7 524.3,1460.4 525.5,1458.1 526.6,1455.8 527.9,1453.6 529.4,1451.3 530.6,1449.0 532.1,1446.7 533.1,1444.4 534.8,1442.1 537.3,1439.8 540.8,1437.5 543.2,1435.2 546.0,1432.9 549.7,1430.6 553.1,1428.4 556.3,1426.1 559.1,1423.8 562.6,1421.5 564.6,1419.2 567.2,1416.9 569.7,1414.6 571.3,1412.3 573.4,1410.0 574.3,1407.7 576.0,1405.5 577.1,1403.2 578.7,1400.9 580.1,1398.6 581.3,1396.3 582.6,1394.0 583.2,1391.7 583.5,1389.4 584.1,1387.1 585.6,1384.8 586.2,1382.5 587.3,1380.3 588.6,1378.0 589.6,1375.7 590.4,1373.4 590.7,1371.1 592.5,1368.8 593.5,1366.5 594.0,1364.2 595.2,1361.9 596.5,1359.6 597.0,1357.4 598.5,1355.1 599.9,1352.8 601.3,1350.5 602.5,1348.2 603.3,1345.9 603.9,1343.6 605.2,1341.3 606.4,1339.0 608.3,1336.7 609.4,1334.4 610.7,1332.2 611.9,1329.9 612.3,1327.6 613.9,1325.3 614.9,1323.0 615.6,1320.7 617.1,1318.4 618.9,1316.1 619.9,1313.8 621.0,1311.5 621.9,1309.2 622.9,1307.0 624.4,1304.7 625.5,1302.4 626.6,1300.1 627.8,1297.8 627.6,1295.5 629.1,1293.2 630.7,1290.9 632.2,1288.6 633.1,1286.3 634.5,1284.1 637.1,1281.8 640.0,1279.5 643.1,1277.2 645.2,1274.9 647.6,1272.6 650.2,1270.3 652.0,1268.0 654.2,1265.7 656.2,1263.4 658.0,1261.1 659.1,1258.9 660.4,1256.6 661.7,1254.3 663.8,1252.0 665.7,1249.7 666.6,1247.4 667.5,1245.1 669.1,1242.8 671.1,1240.5 672.5,1238.2 674.1,1236.0 675.5,1233.7 676.9,1231.4 678.1,1229.1 679.5,1226.8 680.9,1224.5 682.1,1222.2 683.9,1219.9 684.6,1217.6 685.7,1215.3 686.7,1213.0 688.5,1210.8 690.3,1208.5 691.2,1206.2 692.6,1203.9 693.8,1201.6 694.6,1199.3 695.7,1197.0 697.3,1194.7 698.8,1192.4 699.8,1190.1 701.1,1187.9 702.7,1185.6 704.5,1183.3 705.7,1181.0 706.6,1178.7 707.3,1176.4 709.0,1174.1 710.5,1171.8 712.0,1169.5 713.5,1167.2 715.4,1164.9 718.1,1162.7 721.2,1160.4 723.6,1158.1 726.8,1155.8"/>
<path d="M490.3,1586.4 490.2,1584.1 490.4,1581.8 491.1,1579.5 490.8,1577.2 490.7,1574.9 490.8,1572.7 490.8,1570.4 491.5,1568.1 491.8,1565.8 492.3,1563.5 492.7,1561.2 493.1,1558.9 494.1,1556.6 494.4,1554.3 494.4,1552.0 494.4,1549.8 494.8,1547.5 495.5,1545.2 496.2,1542.9 496.9,1540.6 497.2,1538.3 497.9,1536.0 498.6,1533.7 498.6,1531.4 499.4,1529.1 500.2,1526.8 500.8,1524.6 502.0,1522.3 502.9,1520.0 504.1,1517.7 507.4,1515.4 511.3,1513.1 513.3,1510.8 514.6,1508.5 516.0,1506.2 517.1,1503.9 518.2,1501.7 519.2,1499.4 518.9,1497.1 519.7,1494.8 519.7,1492.5 520.1,1490.2 520.5,1487.9 521.5,1485.6 521.6,1483.3 522.5,1481.0 522.6,1478.7 524.3,1476.5 524.8,1474.2 525.6,1471.9 525.9,1469.6 526.6,1467.3 528.1,1465.0 529.1,1462.7 529.5,1460.4 530.3,1458.1 531.4,1455.8 533.3,1453.6 534.3,1451.3 535.7,1449.0 537.5,1446.7 539.9,1444.4 542.0,1442.1 543.8,1439.8 546.0,1437.5 549.6,1435.2 552.6,1432.9 555.1,1430.6 558.7,1428.4 562.4,1426.1 565.9,1423.8 569.1,1421.5 571.9,1419.2 574.6,1416.9 575.8,1414.6 578.0,1412.3 579.7,1410.0 581.0,1407.7 583.0,1405.5 583.9,1403.2 584.7,1400.9 586.7,1398.6 587.9,1396.3 589.2,1394.0 590.5,1391.7 590.7,1389.4 592.1,1387.1 592.8,1384.8 593.8,1382.5 595.0,1380.3 596.1,1378.0 596.7,1375.7 597.7,1373.4 598.7,1371.1 600.1,1368.8 600.1,1366.5 601.8,1364.2 602.4,1361.9 604.4,1359.6 605.5,1357.4 607.1,1355.1 607.8,1352.8 609.4,1350.5 610.3,1348.2 611.3,1345.9 612.3,1343.6 612.2,1341.3 612.8,1339.0 613.4,1336.7 614.9,1334.4 616.2,1332.2 617.8,1329.9 619.2,1327.6 620.8,1325.3 621.6,1323.0 622.9,1320.7 623.8,1318.4 624.5,1316.1 625.1,1313.8 626.4,1311.5 627.4,1309.2 628.5,1307.0 629.4,1304.7 630.3,1302.4 632.7,1300.1 633.8,1297.8 634.3,1295.5 635.5,1293.2 636.8,1290.9 637.6,1288.6 639.8,1286.3 641.1,1284.1 643.5,1281.8 646.1,1279.5 648.7,1277.2 652.8,1274.9 654.6,1272.6 655.8,1270.3 657.6,1268.0 659.1,1265.7 661.6,1263.4 663.5,1261.1 664.7,1258.9 667.2,1256.6 668.6,1254.3 669.6,1252.0 671.7,1249.7 673.4,1247.4 674.4,1245.1 675.4,1242.8 676.9,1240.5 678.1,1238.2 679.9,1236.0 681.4,1233.7 682.3,1231.4 683.4,1229.1 684.8,1226.8 686.9,1224.5 687.9,1222.2 689.6,1219.9 690.7,1217.6 692.2,1215.3 693.4,1213.0 695.0,1210.8 696.0,1208.5 697.2,1206.2 699.5,1203.9 701.2,1201.6 701.8,1199.3 703.6,1197.0 704.7,1194.7 706.4,1192.4 706.9,1190.1 708.0,1187.9 709.1,1185.6 710.1,1183.3 711.1,1181.0 713.4,1178.7 714.7,1176.4 716.0,1174.1 716.9,1171.8 719.2,1169.5 721.4,1167.2 723.2,1164.9 725.1,1162.7 728.2,1160.4 730.9,1158.1 732.7,1155.8"/>
<path d="M504.2,1586.4 504.4,1584.1 504.0,1581.8 503.8,1579.5 504.4,1577.2 505.1,1574.9 505.4,1572.7 505.7,1570.4 505.7,1568.1 506.8,1565.8 506.8,1563.5 507.1,1561.2 507.5,1558.9 508.0,1556.6 509.1,1554.3 510.3,1552.0 509.7,1549.8 510.2,1547.5 511.3,1545.2 512.3,1542.9 512.4,1540.6 513.0,1538.3 513.4,1536.0 513.8,1533.7 514.0,1531.4 515.0,1529.1 516.0,1526.8 517.2,1524.6 517.8,1522.3 518.6,1520.0 520.3,1517.7 524.3,1515.4 526.9,1513.1 529.1,1510.8 530.9,1508.5 531.2,1506.2 530.9,1503.9 532.3,1501.7 533.5,1499.4 534.6,1497.1 535.4,1494.8 536.3,1492.5 536.4,1490.2 537.3,1487.9 537.3,1485.6 537.2,1483.3 537.8,1481.0 538.0,1478.7 538.4,1476.5 539.0,1474.2 539.8,1471.9 540.9,1469.6 541.5,1467.3 542.3,1465.0 543.3,1462.7 544.4,1460.4 545.7,1458.1 547.0,1455.8 548.2,1453.6 549.5,1451.3 550.9,1449.0 552.2,1446.7 553.8,1444.4 555.5,1442.1 558.1,1439.8 561.2,1437.5 563.7,1435.2 567.1,1432.9 570.1,1430.6 574.2,1428.4 578.4,1426.1 581.6,1423.8 584.0,1421.5 586.5,1419.2 588.4,1416.9 590.1,1414.6 592.5,1412.3 593.4,1410.0 595.6,1407.7 596.8,1405.5 598.6,1403.2 599.6,1400.9 601.5,1398.6 602.2,1396.3 602.2,1394.0 604.5,1391.7 605.2,1389.4 605.9,1387.1 606.7,1384.8 607.5,1382.5 608.6,1380.3 609.3,1378.0 611.2,1375.7 611.8,1373.4 613.1,1371.1 614.6,1368.8 615.3,1366.5 616.6,1364.2 617.3,1361.9 617.9,1359.6 618.6,1357.4 620.3,1355.1 621.8,1352.8 622.4,1350.5 623.9,1348.2 624.5,1345.9 625.7,1343.6 627.1,1341.3 627.4,1339.0 628.9,1336.7 630.0,1334.4 630.6,1332.2 632.2,1329.9 633.5,1327.6 634.9,1325.3 635.9,1323.0 636.8,1320.7 637.5,1318.4 638.8,1316.1 639.7,1313.8 640.9,1311.5 642.4,1309.2 644.0,1307.0 645.2,1304.7 646.3,1302.4 647.2,1300.1 648.6,1297.8 650.1,1295.5 650.9,1293.2 651.9,1290.9 652.8,1288.6 654.2,1286.3 655.8,1284.1 658.8,1281.8 661.9,1279.5 663.9,1277.2 666.9,1274.9 668.8,1272.6 670.0,1270.3 672.2,1268.0 673.8,1265.7 675.9,1263.4 677.9,1261.1 679.3,1258.9 681.6,1256.6 683.2,1254.3 684.4,1252.0 685.3,1249.7 687.8,1247.4 688.9,1245.1 690.4,1242.8 691.9,1240.5 693.7,1238.2 694.4,1236.0 694.8,1233.7 696.5,1231.4 697.5,1229.1 699.0,1226.8 701.5,1224.5 702.5,1222.2 704.2,1219.9 705.1,1217.6 707.7,1215.3 708.7,1213.0 710.1,1210.8 711.3,1208.5 712.4,1206.2 714.2,1203.9 715.4,1201.6 716.3,1199.3 717.4,1197.0 718.6,1194.7 720.0,1192.4 721.3,1190.1 722.2,1187.9 723.4,1185.6 725.6,1183.3 726.7,1181.0 728.5,1178.7 729.6,1176.4 731.1,1174.1 732.3,1171.8 733.1,1169.5 734.8,1167.2 737.3,1164.9 740.3,1162.7 743.3,1160.4 745.6,1158.1 747.8,1155.8"/>
<path d="M509.7,1586.4 510.1,1584.1 510.7,1581.8 510.9,1579.5 510.8,1577.2 511.3,1574.9 511.6,1572.7 512.1,1570.4 512.2,1568.1 512.6,1565.8 512.7,1563.5 512.8,1561.2 512.4,1558.9 513.9,1556.6 515.4,1554.3 516.2,1552.0 517.8,1549.8 518.9,1547.5 520.1,1545.2 520.3,1542.9 520.6,1540.6 521.2,1538.3 521.9,1536.0 522.9,1533.7 522.8,1531.4 523.3,1529.1 523.1,1526.8 523.9,1524.6 525.3,1522.3 526.6,1520.0 529.0,1517.7 531.8,1515.4 534.5,1513.1 536.6,1510.8 538.0,1508.5 539.7,1506.2 539.9,1503.9 540.3,1501.7 541.2,1499.4 541.8,1497.1 542.9,1494.8 543.4,1492.5 544.1,1490.2 544.8,1487.9 545.6,1485.6 546.7,1483.3 546.7,1481.0 546.6,1478.7 546.8,1476.5 547.7,1474.2 548.7,1471.9 549.9,1469.6 550.9,1467.3 551.8,1465.0 551.9,1462.7 552.7,1460.4 554.0,1458.1 554.6,1455.8 555.7,1453.6 556.9,1451.3 558.6,1449.0 559.7,1446.7 560.8,1444.4 563.0,1442.1 565.5,1439.8 568.8,1437.5 571.4,1435.2 574.2,1432.9 577.4,1430.6 580.8,1428.4 585.4,1426.1 587.6,1423.8 590.8,1421.5 592.8,1419.2 595.2,1416.9 596.7,1414.6 598.9,1412.3 600.5,1410.0 602.6,1407.7 604.8,1405.5 605.5,1403.2 606.2,1400.9 608.0,1398.6 609.9,1396.3 610.7,1394.0 610.7,1391.7 611.1,1389.4 612.6,1387.1 614.4,1384.8 615.1,1382.5 615.5,1380.3 617.1,1378.0 617.6,1375.7 618.5,1373.4 619.4,1371.1 620.4,1368.8 621.9,1366.5 622.7,1364.2 624.0,1361.9 625.6,1359.6 627.2,1357.4 628.7,1355.1 629.4,1352.8 629.7,1350.5 630.9,1348.2 632.2,1345.9 633.4,1343.6 634.4,1341.3 635.7,1339.0 636.4,1336.7 638.0,1334.4 639.8,1332.2 640.9,1329.9 641.9,1327.6 643.2,1325.3 644.4,1323.0 645.7,1320.7 646.7,1318.4 647.6,1316.1 649.4,1313.8 649.8,1311.5 651.4,1309.2 652.0,1307.0 653.2,1304.7 653.8,1302.4 654.3,1300.1 655.1,1297.8 656.1,1295.5 658.1,1293.2 659.2,1290.9 660.4,1288.6 661.7,1286.3 663.5,1284.1 665.7,1281.8 668.6,1279.5 671.2,1277.2 673.4,1274.9 675.7,1272.6 678.1,1270.3 680.3,1268.0 681.7,1265.7 683.3,1263.4 685.3,1261.1 686.8,1258.9 687.9,1256.6 689.8,1254.3 691.4,1252.0 693.2,1249.7 695.1,1247.4 696.4,1245.1 697.4,1242.8 698.6,1240.5 700.5,1238.2 702.0,1236.0 703.7,1233.7 704.9,1231.4 706.6,1229.1 707.6,1226.8 708.7,1224.5 710.1,1222.2 711.5,1219.9 712.8,1217.6 714.2,1215.3 716.0,1213.0 717.0,1210.8 717.7,1208.5 719.5,1206.2 721.8,1203.9 723.5,1201.6 724.1,1199.3 725.6,1197.0 727.2,1194.7 728.7,1192.4 730.4,1190.1 731.7,1187.9 731.4,1185.6 733.0,1183.3 733.9,1181.0 734.9,1178.7 735.8,1176.4 737.0,1174.1 738.7,1171.8 741.1,1169.5 743.3,1167.2 745.5,1164.9 748.3,1162.7 750.6,1160.4 752.7,1158.1 755.8,1155.8"/>
<path d="M517.2,1586.4 517.2,1584.1 517.7,1581.8 517.6,1579.5 518.5,1577.2 518.1,1574.9 518.2,1572.7 518.5,1570.4 518.8,1568.1 518.8,1565.8 519.7,1563.5 520.4,1561.2 521.1,1558.9 522.6,1556.6 523.9,1554.3 525.6,1552.0 526.1,1549.8 526.4,1547.5 527.1,1545.2 527.7,1542.9 528.5,1540.6 529.4,1538.3 530.6,1536.0 530.4,1533.7 530.4,1531.4 531.3,1529.1 532.7,1526.8 533.9,1524.6 534.6,1522.3 535.4,1520.0 536.7,1517.7 540.1,1515.4 542.9,1513.1 545.4,1510.8 546.2,1508.5 547.7,1506.2 548.5,1503.9 549.2,1501.7 549.9,1499.4 550.6,1497.1 552.4,1494.8 553.1,1492.5 553.9,1490.2 554.0,1487.9 554.0,1485.6 553.8,1483.3 554.5,1481.0 555.5,1478.7 556.4,1476.5 556.6,1474.2 557.8,1471.9 558.5,1469.6 559.9,1467.3 560.6,1465.0 561.4,1462.7 562.0,1460.4 562.8,1458.1 563.9,1455.8 565.3,1453.6 566.8,1451.3 567.7,1449.0 568.6,1446.7 570.5,1444.4 573.1,1442.1 575.1,1439.8 577.5,1437.5 580.1,1435.2 583.0,1432.9 586.5,1430.6 589.5,1428.4 593.2,1426.1 596.9,1423.8 599.7,1421.5 601.4,1419.2 602.9,1416.9 605.1,1414.6 607.6,1412.3 609.5,1410.0 611.6,1407.7 612.7,1405.5 613.9,1403.2 614.7,1400.9 616.1,1398.6 617.0,1396.3 617.7,1394.0 618.5,1391.7 619.7,1389.4 621.0,1387.1 622.2,1384.8 624.0,1382.5 624.9,1380.3 625.3,1378.0 626.6,1375.7 627.2,1373.4 627.7,1371.1 629.1,1368.8 630.0,1366.5 631.1,1364.2 632.0,1361.9 633.1,1359.6 633.6,1357.4 635.3,1355.1 637.0,1352.8 638.0,1350.5 639.6,1348.2 640.9,1345.9 642.3,1343.6 643.8,1341.3 644.1,1339.0 645.5,1336.7 646.4,1334.4 647.7,1332.2 648.6,1329.9 650.5,1327.6 652.1,1325.3 652.9,1323.0 654.0,1320.7 655.0,1318.4 656.1,1316.1 657.5,1313.8 658.1,1311.5 658.6,1309.2 660.2,1307.0 661.4,1304.7 662.2,1302.4 663.0,1300.1 663.6,1297.8 664.8,1295.5 665.5,1293.2 667.1,1290.9 668.8,1288.6 670.1,1286.3 672.3,1284.1 674.7,1281.8 677.2,1279.5 679.5,1277.2 681.8,1274.9 683.6,1272.6 684.9,1270.3 687.1,1268.0 689.4,1265.7 690.6,1263.4 692.7,1261.1 694.4,1258.9 696.2,1256.6 698.2,1254.3 700.1,1252.0 701.3,1249.7 703.1,1247.4 704.3,1245.1 704.7,1242.8 707.2,1240.5 708.6,1238.2 709.8,1236.0 711.8,1233.7 713.2,1231.4 714.2,1229.1 715.6,1226.8 717.0,1224.5 718.2,1222.2 718.5,1219.9 720.2,1217.6 721.3,1215.3 722.4,1213.0 724.1,1210.8 726.5,1208.5 727.4,1206.2 729.0,1203.9 729.8,1201.6 730.6,1199.3 732.0,1197.0 733.9,1194.7 735.4,1192.4 736.8,1190.1 738.5,1187.9 739.8,1185.6 740.7,1183.3 741.6,1181.0 742.9,1178.7 744.5,1176.4 745.8,1174.1 747.3,1171.8 748.8,1169.5 750.2,1167.2 751.8,1164.9 754.1,1162.7 757.6,1160.4 760.6,1158.1 763.3,1155.8"/>
<path d="M523.9,1586.4 524.1,1584.1 524.6,1581.8 524.7,1579.5 525.4,1577.2 525.6,1574.9 526.1,1572.7 526.0,1570.4 527.0,1568.1 527.2,1565.8 527.7,1563.5 527.7,1561.2 528.1,1558.9 530.0,1556.6 531.2,1554.3 533.4,1552.0 534.1,1549.8 535.3,1547.5 535.7,1545.2 536.4,1542.9 537.1,1540.6 538.1,1538.3 538.3,1536.0 539.1,1533.7 539.9,1531.4 540.9,1529.1 541.2,1526.8 542.0,1524.6 542.6,1522.3 543.6,1520.0 545.6,1517.7 548.7,1515.4 551.1,1513.1 553.5,1510.8 554.8,1508.5 555.5,1506.2 556.5,1503.9 557.0,1501.7 558.2,1499.4 558.6,1497.1 560.1,1494.8 560.0,1492.5 561.2,1490.2 562.2,1487.9 562.6,1485.6 562.6,1483.3 563.6,1481.0 563.9,1478.7 565.2,1476.5 566.0,1474.2 566.8,1471.9 567.6,1469.6 568.8,1467.3 569.5,1465.0 570.5,1462.7 571.5,1460.4 572.1,1458.1 573.5,1455.8 575.1,1453.6 576.4,1451.3 577.4,1449.0 578.8,1446.7 579.6,1444.4 581.2,1442.1 583.1,1439.8 585.5,1437.5 588.6,1435.2 590.9,1432.9 593.8,1430.6 596.6,1428.4 599.9,1426.1 602.6,1423.8 605.9,1421.5 608.2,1419.2 610.8,1416.9 613.3,1414.6 615.2,1412.3 616.9,1410.0 618.4,1407.7 619.6,1405.5 620.1,1403.2 621.6,1400.9 622.5,1398.6 623.4,1396.3 624.4,1394.0 625.5,1391.7 626.9,1389.4 627.5,1387.1 628.1,1384.8 629.8,1382.5 631.1,1380.3 632.5,1378.0 633.3,1375.7 633.8,1373.4 635.6,1371.1 637.1,1368.8 637.8,1366.5 639.0,1364.2 640.5,1361.9 642.4,1359.6 643.6,1357.4 644.6,1355.1 645.3,1352.8 646.0,1350.5 647.0,1348.2 647.7,1345.9 649.1,1343.6 650.3,1341.3 651.3,1339.0 652.0,1336.7 653.3,1334.4 654.4,1332.2 655.8,1329.9 656.7,1327.6 658.2,1325.3 659.4,1323.0 661.4,1320.7 662.1,1318.4 664.0,1316.1 666.2,1313.8 666.9,1311.5 668.5,1309.2 669.7,1307.0 669.8,1304.7 670.5,1302.4 671.9,1300.1 672.9,1297.8 674.3,1295.5 675.4,1293.2 677.1,1290.9 678.1,1288.6 678.9,1286.3 680.2,1284.1 682.2,1281.8 684.4,1279.5 687.1,1277.2 689.6,1274.9 691.6,1272.6 693.6,1270.3 695.3,1268.0 697.6,1265.7 699.4,1263.4 701.3,1261.1 702.3,1258.9 704.0,1256.6 705.5,1254.3 706.3,1252.0 708.9,1249.7 709.9,1247.4 711.8,1245.1 713.6,1242.8 715.4,1240.5 716.5,1238.2 716.8,1236.0 718.6,1233.7 720.0,1231.4 721.7,1229.1 723.0,1226.8 724.9,1224.5 726.3,1222.2 727.4,1219.9 729.6,1217.6 730.4,1215.3 730.8,1213.0 732.3,1210.8 733.9,1208.5 735.6,1206.2 736.7,1203.9 738.1,1201.6 739.1,1199.3 740.3,1197.0 742.0,1194.7 743.0,1192.4 744.6,1190.1 745.8,1187.9 747.0,1185.6 748.2,1183.3 750.0,1181.0 751.3,1178.7 752.3,1176.4 753.8,1174.1 755.8,1171.8 757.3,1169.5 758.5,1167.2 760.1,1164.9 762.0,1162.7 765.2,1160.4 767.7,1158.1 770.3,1155.8"/>
<path d="M531.1,1586.4 531.1,1584.1 531.8,1581.8 531.9,1579.5 532.2,1577.2 531.6,1574.9 532.0,1572.7 532.3,1570.4 532.5,1568.1 533.1,1565.8 533.1,1563.5 533.7,1561.2 533.7,1558.9 535.9,1556.6 538.2,1554.3 541.1,1552.0 542.3,1549.8 543.4,1547.5 543.0,1545.2 543.9,1542.9 544.3,1540.6 545.8,1538.3 546.9,1536.0 547.6,1533.7 548.4,1531.4 549.1,1529.1 549.9,1526.8 551.0,1524.6 552.1,1522.3 553.0,1520.0 554.1,1517.7 557.3,1515.4 559.9,1513.1 561.9,1510.8 564.2,1508.5 565.1,1506.2 565.9,1503.9 566.1,1501.7 566.5,1499.4 568.0,1497.1 568.5,1494.8 569.8,1492.5 570.0,1490.2 571.1,1487.9 571.8,1485.6 572.2,1483.3 572.2,1481.0 573.6,1478.7 574.3,1476.5 575.0,1474.2 576.1,1471.9 576.4,1469.6 577.8,1467.3 578.9,1465.0 579.8,1462.7 580.7,1460.4 581.2,1458.1 582.0,1455.8 583.2,1453.6 584.1,1451.3 585.9,1449.0 587.4,1446.7 589.3,1444.4 590.3,1442.1 593.0,1439.8 595.1,1437.5 597.2,1435.2 599.6,1432.9 603.1,1430.6 606.4,1428.4 609.6,1426.1 612.8,1423.8 615.6,1421.5 617.9,1419.2 620.0,1416.9 621.7,1414.6 623.4,1412.3 624.3,1410.0 625.8,1407.7 626.3,1405.5 627.8,1403.2 629.3,1400.9 630.2,1398.6 631.2,1396.3 632.8,1394.0 633.7,1391.7 634.7,1389.4 636.5,1387.1 637.4,1384.8 638.6,1382.5 639.6,1380.3 640.7,1378.0 642.0,1375.7 642.8,1373.4 644.0,1371.1 644.7,1368.8 645.5,1366.5 646.8,1364.2 647.6,1361.9 647.7,1359.6 649.0,1357.4 650.8,1355.1 651.6,1352.8 653.1,1350.5 654.1,1348.2 654.7,1345.9 656.0,1343.6 656.4,1341.3 658.4,1339.0 659.6,1336.7 661.0,1334.4 662.3,1332.2 663.0,1329.9 664.2,1327.6 666.0,1325.3 667.6,1323.0 668.6,1320.7 669.5,1318.4 670.7,1316.1 671.5,1313.8 672.9,1311.5 673.6,1309.2 674.7,1307.0 676.4,1304.7 677.6,1302.4 678.5,1300.1 679.8,1297.8 681.0,1295.5 682.4,1293.2 684.1,1290.9 685.4,1288.6 686.1,1286.3 688.0,1284.1 689.7,1281.8 692.7,1279.5 695.6,1277.2 697.9,1274.9 700.0,1272.6 701.2,1270.3 702.4,1268.0 704.2,1265.7 706.3,1263.4 708.6,1261.1 710.0,1258.9 711.2,1256.6 712.6,1254.3 714.0,1252.0 715.8,1249.7 716.9,1247.4 718.9,1245.1 719.9,1242.8 722.5,1240.5 723.8,1238.2 725.2,1236.0 725.9,1233.7 727.5,1231.4 728.2,1229.1 730.1,1226.8 731.3,1224.5 732.9,1222.2 734.5,1219.9 736.3,1217.6 738.1,1215.3 739.7,1213.0 741.1,1210.8 742.0,1208.5 742.8,1206.2 744.5,1203.9 745.9,1201.6 747.0,1199.3 748.2,1197.0 749.9,1194.7 751.4,1192.4 752.3,1190.1 752.9,1187.9 753.5,1185.6 754.9,1183.3 756.3,1181.0 757.3,1178.7 759.4,1176.4 761.7,1174.1 762.8,1171.8 764.6,1169.5 766.2,1167.2 768.2,1164.9 770.4,1162.7 772.7,1160.4 775.4,1158.1 777.7,1155.8"/>
<path d="M537.4,1586.4 537.9,1584.1 537.9,1581.8 538.2,1579.5 538.7,1577.2 539.2,1574.9 538.9,1572.7 539.6,1570.4 539.5,1568.1 540.1,1565.8 540.9,1563.5 540.8,1561.2 541.5,1558.9 544.2,1556.6 547.0,1554.3 548.4,1552.0 550.2,1549.8 551.0,1547.5 551.5,1545.2 552.6,1542.9 553.3,1540.6 554.1,1538.3 555.1,1536.0 556.8,1533.7 557.7,1531.4 558.4,1529.1 559.1,1526.8 560.0,1524.6 561.0,1522.3 561.7,1520.0 563.3,1517.7 565.4,1515.4 568.0,1513.1 570.3,1510.8 572.1,1508.5 573.5,1506.2 573.2,1503.9 574.7,1501.7 575.6,1499.4 576.4,1497.1 577.7,1494.8 578.1,1492.5 578.4,1490.2 578.4,1487.9 578.9,1485.6 580.2,1483.3 580.7,1481.0 581.2,1478.7 582.3,1476.5 582.7,1474.2 583.4,1471.9 584.1,1469.6 585.3,1467.3 586.0,1465.0 586.9,1462.7 587.9,1460.4 588.2,1458.1 589.4,1455.8 590.0,1453.6 591.0,1451.3 592.4,1449.0 594.1,1446.7 595.7,1444.4 598.2,1442.1 600.4,1439.8 603.0,1437.5 605.2,1435.2 607.4,1432.9 611.0,1430.6 613.3,1428.4 616.9,1426.1 619.4,1423.8 622.2,1421.5 623.7,1419.2 626.0,1416.9 628.0,1414.6 628.9,1412.3 630.5,1410.0 632.5,1407.7 634.4,1405.5 635.9,1403.2 636.8,1400.9 638.0,1398.6 638.6,1396.3 639.3,1394.0 640.6,1391.7 641.7,1389.4 643.1,1387.1 644.1,1384.8 645.4,1382.5 646.3,1380.3 647.6,1378.0 649.6,1375.7 650.0,1373.4 651.0,1371.1 651.8,1368.8 653.1,1366.5 654.4,1364.2 655.1,1361.9 656.3,1359.6 657.5,1357.4 658.5,1355.1 659.8,1352.8 661.5,1350.5 662.7,1348.2 663.6,1345.9 664.8,1343.6 666.6,1341.3 667.3,1339.0 668.8,1336.7 669.5,1334.4 669.9,1332.2 671.0,1329.9 672.4,1327.6 673.6,1325.3 674.6,1323.0 675.7,1320.7 676.7,1318.4 677.7,1316.1 679.0,1313.8 679.5,1311.5 681.3,1309.2 682.8,1307.0 684.2,1304.7 685.8,1302.4 686.7,1300.1 687.9,1297.8 688.1,1295.5 689.7,1293.2 691.1,1290.9 692.9,1288.6 694.7,1286.3 696.2,1284.1 697.7,1281.8 700.3,1279.5 703.2,1277.2 705.8,1274.9 707.5,1272.6 708.9,1270.3 710.7,1268.0 712.1,1265.7 713.1,1263.4 715.2,1261.1 717.2,1258.9 719.2,1256.6 720.5,1254.3 722.1,1252.0 723.2,1249.7 724.3,1247.4 726.2,1245.1 727.1,1242.8 728.7,1240.5 731.3,1238.2 733.1,1236.0 734.6,1233.7 736.1,1231.4 737.2,1229.1 738.2,1226.8 740.3,1224.5 741.4,1222.2 742.3,1219.9 743.9,1217.6 745.1,1215.3 747.0,1213.0 747.9,1210.8 748.9,1208.5 750.2,1206.2 752.3,1203.9 753.9,1201.6 755.2,1199.3 756.3,1197.0 757.6,1194.7 758.4,1192.4 759.8,1190.1 760.8,1187.9 762.2,1185.6 763.5,1183.3 764.9,1181.0 766.0,1178.7 767.8,1176.4 769.3,1174.1 770.4,1171.8 772.1,1169.5 773.6,1167.2 775.5,1164.9 778.0,1162.7 780.0,1160.4 782.3,1158.1 784.4,1155.8"/>
<path d="M544.4,1586.4 545.4,1584.1 545.6,1581.8 545.3,1579.5 545.6,1577.2 545.7,1574.9 547.1,1572.7 547.0,1570.4 546.8,1568.1 547.5,1565.8 547.7,1563.5 548.1,1561.2 549.1,1558.9 551.4,1556.6 554.4,1554.3 556.1,1552.0 557.7,1549.8 559.2,1547.5 561.0,1545.2 561.8,1542.9 562.9,1540.6 563.2,1538.3 564.5,1536.0 566.0,1533.7 566.6,1531.4 567.0,1529.1 567.7,1526.8 569.2,1524.6 569.4,1522.3 571.0,1520.0 571.9,1517.7 573.9,1515.4 576.8,1513.1 579.3,1510.8 580.9,1508.5 582.5,1506.2 582.8,1503.9 583.6,1501.7 584.7,1499.4 585.5,1497.1 586.6,1494.8 587.2,1492.5 587.7,1490.2 587.5,1487.9 587.6,1485.6 588.9,1483.3 589.3,1481.0 590.4,1478.7 591.5,1476.5 592.2,1474.2 593.4,1471.9 593.9,1469.6 594.9,1467.3 595.7,1465.0 595.9,1462.7 596.1,1460.4 597.3,1458.1 599.2,1455.8 600.7,1453.6 601.9,1451.3 603.2,1449.0 604.7,1446.7 605.8,1444.4 608.0,1442.1 610.0,1439.8 611.8,1437.5 615.6,1435.2 617.8,1432.9 620.0,1430.6 622.9,1428.4 625.1,1426.1 627.3,1423.8 630.5,1421.5 632.6,1419.2 633.9,1416.9 635.0,1414.6 636.9,1412.3 638.2,1410.0 640.4,1407.7 641.1,1405.5 643.1,1403.2 644.0,1400.9 644.7,1398.6 646.1,1396.3 646.8,1394.0 647.8,1391.7 648.8,1389.4 649.0,1387.1 650.0,1384.8 651.6,1382.5 652.1,1380.3 653.1,1378.0 654.3,1375.7 656.2,1373.4 657.9,1371.1 659.7,1368.8 660.4,1366.5 661.8,1364.2 663.0,1361.9 663.6,1359.6 665.0,1357.4 666.2,1355.1 667.1,1352.8 667.9,1350.5 668.6,1348.2 670.2,1345.9 671.7,1343.6 672.9,1341.3 674.0,1339.0 675.1,1336.7 676.7,1334.4 678.0,1332.2 678.5,1329.9 680.0,1327.6 681.5,1325.3 682.5,1323.0 683.7,1320.7 684.8,1318.4 686.4,1316.1 687.5,1313.8 688.9,1311.5 690.2,1309.2 692.0,1307.0 692.4,1304.7 694.6,1302.4 695.0,1300.1 696.1,1297.8 697.0,1295.5 698.3,1293.2 699.9,1290.9 702.2,1288.6 703.9,1286.3 704.9,1284.1 706.7,1281.8 708.9,1279.5 710.9,1277.2 713.5,1274.9 715.4,1272.6 717.0,1270.3 718.4,1268.0 720.5,1265.7 722.1,1263.4 724.2,1261.1 726.1,1258.9 727.0,1256.6 727.7,1254.3 729.5,1252.0 730.8,1249.7 732.1,1247.4 733.5,1245.1 735.8,1242.8 737.2,1240.5 739.4,1238.2 741.0,1236.0 741.5,1233.7 743.0,1231.4 745.0,1229.1 745.5,1226.8 746.4,1224.5 747.9,1222.2 749.1,1219.9 751.3,1217.6 752.3,1215.3 754.4,1213.0 755.1,1210.8 756.2,1208.5 757.8,1206.2 759.5,1203.9 760.9,1201.6 762.9,1199.3 764.7,1197.0 766.5,1194.7 767.3,1192.4 768.6,1190.1 769.4,1187.9 771.0,1185.6 771.1,1183.3 772.1,1181.0 773.4,1178.7 774.7,1176.4 776.9,1174.1 777.7,1171.8 779.0,1169.5 780.3,1167.2 782.2,1164.9 784.2,1162.7 787.0,1160.4 789.7,1158.1 790.9,1155.8"/>
<path d="M550.4,1586.4 551.2,1584.1 551.7,1581.8 551.4,1579.5 551.9,1577.2 551.8,1574.9 552.8,1572.7 552.7,1570.4 553.0,1568.1 553.8,1565.8 554.4,1563.5 555.5,1561.2 556.8,1558.9 558.9,1556.6 562.4,1554.3 564.7,1552.0 566.9,1549.8 568.6,1547.5 569.9,1545.2 571.5,1542.9 572.2,1540.6 573.2,1538.3 574.0,1536.0 574.7,1533.7 575.5,1531.4 576.2,1529.1 577.5,1526.8 577.6,1524.6 577.8,1522.3 578.6,1520.0 580.8,1517.7 583.0,1515.4 585.2,1513.1 587.0,1510.8 588.7,1508.5 589.8,1506.2 591.3,1503.9 592.0,1501.7 593.2,1499.4 593.5,1497.1 594.5,1494.8 596.5,1492.5 596.9,1490.2 597.3,1487.9 598.3,1485.6 598.4,1483.3 598.9,1481.0 599.3,1478.7 600.2,1476.5 600.4,1474.2 601.9,1471.9 602.7,1469.6 603.6,1467.3 604.3,1465.0 605.2,1462.7 605.1,1460.4 606.8,1458.1 607.4,1455.8 608.9,1453.6 610.0,1451.3 611.1,1449.0 612.6,1446.7 614.6,1444.4 616.2,1442.1 617.8,1439.8 620.1,1437.5 621.3,1435.2 623.4,1432.9 625.9,1430.6 628.8,1428.4 631.3,1426.1 634.6,1423.8 636.9,1421.5 639.1,1419.2 641.1,1416.9 642.8,1414.6 644.3,1412.3 646.6,1410.0 648.4,1407.7 650.3,1405.5 651.3,1403.2 652.5,1400.9 653.6,1398.6 654.4,1396.3 655.4,1394.0 655.7,1391.7 656.4,1389.4 657.2,1387.1 658.0,1384.8 659.6,1382.5 661.0,1380.3 662.3,1378.0 663.4,1375.7 665.0,1373.4 666.4,1371.1 667.6,1368.8 668.5,1366.5 670.2,1364.2 670.6,1361.9 671.1,1359.6 671.8,1357.4 673.7,1355.1 675.0,1352.8 675.9,1350.5 676.3,1348.2 677.7,1345.9 678.7,1343.6 679.3,1341.3 681.4,1339.0 682.8,1336.7 684.7,1334.4 685.9,1332.2 687.4,1329.9 688.2,1327.6 689.8,1325.3 690.8,1323.0 692.3,1320.7 693.5,1318.4 694.3,1316.1 695.6,1313.8 697.0,1311.5 697.9,1309.2 699.2,1307.0 700.8,1304.7 702.4,1302.4 703.4,1300.1 703.6,1297.8 705.2,1295.5 707.2,1293.2 708.3,1290.9 709.2,1288.6 710.8,1286.3 712.4,1284.1 714.6,1281.8 716.5,1279.5 719.5,1277.2 721.9,1274.9 723.2,1272.6 725.3,1270.3 726.8,1268.0 728.7,1265.7 730.4,1263.4 731.9,1261.1 733.5,1258.9 734.8,1256.6 736.0,1254.3 737.5,1252.0 738.9,1249.7 740.6,1247.4 742.2,1245.1 743.0,1242.8 744.9,1240.5 746.3,1238.2 748.1,1236.0 749.7,1233.7 751.1,1231.4 752.5,1229.1 753.2,1226.8 755.2,1224.5 757.2,1222.2 758.6,1219.9 759.4,1217.6 760.9,1215.3 762.0,1213.0 763.9,1210.8 764.9,1208.5 765.6,1206.2 766.7,1203.9 767.9,1201.6 769.7,1199.3 771.0,1197.0 772.4,1194.7 773.6,1192.4 775.4,1190.1 776.5,1187.9 777.8,1185.6 779.6,1183.3 780.8,1181.0 781.8,1178.7 783.0,1176.4 784.8,1174.1 786.3,1171.8 787.3,1169.5 789.3,1167.2 790.4,1164.9 791.6,1162.7 793.7,1160.4 795.4,1158.1 797.7,1155.8"/>
<path d="M558.1,1586.4 558.2,1584.1 558.3,1581.8 558.3,1579.5 559.2,1577.2 558.8,1574.9 559.7,1572.7 560.3,1570.4 560.7,1568.1 561.3,1565.8 561.1,1563.5 562.2,1561.2 563.7,1558.9 567.2,1556.6 569.9,1554.3 573.1,1552.0 574.7,1549.8 575.1,1547.5 576.3,1545.2 577.5,1542.9 578.3,1540.6 579.5,1538.3 580.7,1536.0 581.4,1533.7 582.2,1531.4 583.6,1529.1 584.1,1526.8 585.4,1524.6 587.1,1522.3 588.1,1520.0 589.6,1517.7 591.8,1515.4 594.5,1513.1 595.9,1510.8 596.5,1508.5 597.5,1506.2 598.5,1503.9 600.1,1501.7 601.6,1499.4 602.6,1497.1 603.7,1494.8 604.2,1492.5 604.7,1490.2 604.8,1487.9 606.1,1485.6 607.1,1483.3 607.7,1481.0 607.8,1478.7 608.3,1476.5 609.4,1474.2 610.2,1471.9 611.6,1469.6 612.4,1467.3 612.9,1465.0 613.3,1462.7 614.3,1460.4 616.0,1458.1 617.7,1455.8 618.2,1453.6 619.3,1451.3 620.1,1449.0 621.4,1446.7 621.6,1444.4 623.2,1442.1 624.7,1439.8 627.7,1437.5 629.9,1435.2 632.4,1432.9 634.9,1430.6 637.1,1428.4 640.2,1426.1 643.3,1423.8 645.5,1421.5 647.6,1419.2 649.7,1416.9 651.5,1414.6 652.9,1412.3 653.7,1410.0 654.9,1407.7 656.1,1405.5 657.9,1403.2 659.7,1400.9 660.8,1398.6 662.2,1396.3 662.2,1394.0 663.5,1391.7 664.1,1389.4 665.6,1387.1 667.2,1384.8 668.6,1382.5 669.8,1380.3 671.2,1378.0 672.8,1375.7 673.3,1373.4 674.9,1371.1 675.5,1368.8 675.9,1366.5 677.3,1364.2 678.7,1361.9 679.9,1359.6 680.6,1357.4 682.0,1355.1 683.0,1352.8 685.2,1350.5 686.2,1348.2 687.3,1345.9 688.1,1343.6 689.4,1341.3 691.2,1339.0 691.8,1336.7 692.8,1334.4 693.2,1332.2 694.5,1329.9 696.5,1327.6 697.2,1325.3 698.4,1323.0 699.4,1320.7 700.7,1318.4 701.8,1316.1 703.0,1313.8 704.0,1311.5 705.6,1309.2 707.3,1307.0 708.8,1304.7 709.2,1302.4 711.1,1300.1 712.5,1297.8 714.1,1295.5 714.8,1293.2 715.9,1290.9 717.5,1288.6 719.6,1286.3 720.6,1284.1 722.5,1281.8 724.7,1279.5 726.8,1277.2 729.1,1274.9 730.7,1272.6 732.9,1270.3 733.9,1268.0 735.8,1265.7 737.2,1263.4 738.9,1261.1 740.2,1258.9 740.7,1256.6 743.2,1254.3 745.2,1252.0 746.9,1249.7 748.3,1247.4 749.9,1245.1 751.2,1242.8 752.7,1240.5 754.6,1238.2 755.7,1236.0 756.7,1233.7 758.8,1231.4 759.9,1229.1 761.3,1226.8 762.5,1224.5 764.1,1222.2 765.6,1219.9 766.9,1217.6 767.8,1215.3 768.8,1213.0 770.3,1210.8 772.5,1208.5 773.0,1206.2 774.5,1203.9 776.1,1201.6 777.2,1199.3 778.7,1197.0 780.0,1194.7 781.6,1192.4 783.4,1190.1 784.4,1187.9 785.6,1185.6 787.0,1183.3 788.2,1181.0 789.4,1178.7 789.9,1176.4 791.4,1174.1 792.6,1171.8 794.1,1169.5 796.0,1167.2 798.0,1164.9 799.8,1162.7 801.9,1160.4 804.0,1158.1 805.6,1155.8 808.0,1153.5"/>
<path d="M565.6,1586.4 565.6,1584.1 566.5,1581.8 566.9,1579.5 566.5,1577.2 567.2,1574.9 567.7,1572.7 568.0,1570.4 567.6,1568.1 567.8,1565.8 567.5,1563.5 568.4,1561.2 569.8,1558.9 572.9,1556.6 576.8,1554.3 580.9,1552.0 582.1,1549.8 583.9,1547.5 585.3,1545.2 586.8,1542.9 587.1,1540.6 588.1,1538.3 589.5,1536.0 590.3,1533.7 590.7,1531.4 591.0,1529.1 592.0,1526.8 593.8,1524.6 595.6,1522.3 596.7,1520.0 598.4,1517.7 600.9,1515.4 603.4,1513.1 604.8,1510.8 606.4,1508.5 607.0,1506.2 608.0,1503.9 609.3,1501.7 610.5,1499.4 611.1,1497.1 612.3,1494.8 613.5,1492.5 614.4,1490.2 614.9,1487.9 615.5,1485.6 616.1,1483.3 616.7,1481.0 617.6,1478.7 618.6,1476.5 619.2,1474.2 620.1,1471.9 620.8,1469.6 621.5,1467.3 621.8,1465.0 622.8,1462.7 623.6,1460.4 624.6,1458.1 626.0,1455.8 627.1,1453.6 628.3,1451.3 629.1,1449.0 629.5,1446.7 630.8,1444.4 632.5,1442.1 634.6,1439.8 637.1,1437.5 639.2,1435.2 641.8,1432.9 643.8,1430.6 645.8,1428.4 648.8,1426.1 650.7,1423.8 652.2,1421.5 654.0,1419.2 656.1,1416.9 658.4,1414.6 660.0,1412.3 661.9,1410.0 663.2,1407.7 663.9,1405.5 664.8,1403.2 665.6,1400.9 667.0,1398.6 667.5,1396.3 668.4,1394.0 669.6,1391.7 671.4,1389.4 672.9,1387.1 673.9,1384.8 675.1,1382.5 676.2,1380.3 678.5,1378.0 678.8,1375.7 679.1,1373.4 679.7,1371.1 680.6,1368.8 682.1,1366.5 683.9,1364.2 685.2,1361.9 686.4,1359.6 687.6,1357.4 689.0,1355.1 689.9,1352.8 691.4,1350.5 692.7,1348.2 694.0,1345.9 695.4,1343.6 696.8,1341.3 698.3,1339.0 699.0,1336.7 700.4,1334.4 701.0,1332.2 701.5,1329.9 702.9,1327.6 704.5,1325.3 706.1,1323.0 707.6,1320.7 709.2,1318.4 709.7,1316.1 710.9,1313.8 712.2,1311.5 713.2,1309.2 714.8,1307.0 716.3,1304.7 717.6,1302.4 718.9,1300.1 721.0,1297.8 722.0,1295.5 723.1,1293.2 724.7,1290.9 726.6,1288.6 727.3,1286.3 728.3,1284.1 730.6,1281.8 733.0,1279.5 735.3,1277.2 737.1,1274.9 739.0,1272.6 740.0,1270.3 741.3,1268.0 743.7,1265.7 744.7,1263.4 746.3,1261.1 748.2,1258.9 749.9,1256.6 751.0,1254.3 752.3,1252.0 754.2,1249.7 755.5,1247.4 757.7,1245.1 758.9,1242.8 761.0,1240.5 762.2,1238.2 763.9,1236.0 765.2,1233.7 766.4,1231.4 767.1,1229.1 768.7,1226.8 770.0,1224.5 771.5,1222.2 772.5,1219.9 773.5,1217.6 774.6,1215.3 776.1,1213.0 778.0,1210.8 779.2,1208.5 780.2,1206.2 781.4,1203.9 782.5,1201.6 783.5,1199.3 785.0,1197.0 786.3,1194.7 787.7,1192.4 790.0,1190.1 791.6,1187.9 793.4,1185.6 794.5,1183.3 795.7,1181.0 796.6,1178.7 797.3,1176.4 798.2,1174.1 799.8,1171.8 801.7,1169.5 804.2,1167.2 805.8,1164.9 807.0,1162.7 809.0,1160.4 811.4,1158.1 812.9,1155.8 814.4,1153.5"/>
<path d="M571.9,1586.4 572.2,1584.1 572.6,1581.8 572.9,1579.5 573.1,1577.2 574.0,1574.9 574.6,1572.7 574.9,1570.4 575.3,1568.1 575.5,1565.8 575.9,1563.5 576.6,1561.2 578.0,1558.9 582.6,1556.6 586.7,1554.3 590.2,1552.0 592.6,1549.8 593.3,1547.5 594.4,1545.2 595.8,1542.9 596.7,1540.6 597.4,1538.3 597.8,1536.0 598.8,1533.7 599.5,1531.4 601.0,1529.1 602.2,1526.8 603.1,1524.6 604.6,1522.3 605.3,1520.0 606.4,1517.7 608.8,1515.4 611.2,1513.1 612.7,1510.8 613.8,1508.5 615.0,1506.2 615.9,1503.9 617.1,1501.7 618.0,1499.4 619.1,1497.1 620.0,1494.8 621.0,1492.5 621.6,1490.2 622.6,1487.9 623.5,1485.6 624.5,1483.3 625.3,1481.0 625.8,1478.7 626.4,1476.5 627.7,1474.2 628.3,1471.9 629.0,1469.6 630.4,1467.3 631.3,1465.0 632.2,1462.7 632.5,1460.4 633.0,1458.1 634.1,1455.8 635.9,1453.6 636.1,1451.3 636.6,1449.0 638.2,1446.7 639.7,1444.4 640.9,1442.1 643.1,1439.8 645.1,1437.5 646.9,1435.2 649.0,1432.9 651.1,1430.6 653.7,1428.4 655.9,1426.1 657.9,1423.8 659.8,1421.5 661.9,1419.2 664.2,1416.9 665.6,1414.6 666.8,1412.3 668.6,1410.0 670.5,1407.7 671.7,1405.5 673.6,1403.2 674.3,1400.9 676.0,1398.6 677.2,1396.3 677.5,1394.0 678.8,1391.7 679.7,1389.4 680.7,1387.1 681.5,1384.8 682.7,1382.5 683.6,1380.3 684.9,1378.0 686.5,1375.7 688.2,1373.4 689.6,1371.1 690.9,1368.8 691.9,1366.5 692.8,1364.2 693.4,1361.9 695.0,1359.6 695.9,1357.4 697.1,1355.1 697.7,1352.8 699.2,1350.5 701.0,1348.2 702.0,1345.9 703.5,1343.6 704.6,1341.3 705.8,1339.0 706.8,1336.7 707.0,1334.4 708.6,1332.2 710.2,1329.9 711.7,1327.6 713.6,1325.3 715.1,1323.0 716.3,1320.7 717.2,1318.4 719.5,1316.1 719.9,1313.8 720.9,1311.5 721.9,1309.2 723.6,1307.0 724.8,1304.7 726.1,1302.4 726.5,1300.1 727.6,1297.8 729.4,1295.5 730.5,1293.2 731.3,1290.9 732.9,1288.6 734.2,1286.3 735.9,1284.1 737.9,1281.8 739.6,1279.5 741.9,1277.2 744.5,1274.9 746.2,1272.6 747.8,1270.3 749.2,1268.0 751.1,1265.7 752.9,1263.4 754.1,1261.1 755.8,1258.9 758.0,1256.6 758.8,1254.3 760.7,1252.0 762.5,1249.7 763.2,1247.4 764.1,1245.1 765.5,1242.8 767.7,1240.5 768.9,1238.2 770.4,1236.0 771.9,1233.7 773.2,1231.4 775.4,1229.1 776.7,1226.8 777.5,1224.5 779.0,1222.2 780.6,1219.9 781.4,1217.6 782.9,1215.3 784.1,1213.0 785.0,1210.8 786.2,1208.5 788.1,1206.2 789.6,1203.9 790.4,1201.6 792.2,1199.3 793.5,1197.0 793.7,1194.7 795.0,1192.4 795.7,1190.1 797.2,1187.9 800.0,1185.6 802.2,1183.3 803.5,1181.0 804.3,1178.7 805.2,1176.4 806.4,1174.1 808.1,1171.8 810.1,1169.5 811.6,1167.2 813.7,1164.9 815.4,1162.7 816.5,1160.4 818.7,1158.1 821.0,1155.8 822.8,1153.5"/>
<path d="M579.0,1586.4 578.8,1584.1 579.1,1581.8 579.5,1579.5 580.0,1577.2 580.6,1574.9 581.3,1572.7 581.5,1570.4 581.4,1568.1 581.7,1565.8 582.2,1563.5 582.7,1561.2 584.1,1558.9 588.5,1556.6 593.7,1554.3 597.9,1552.0 600.0,1549.8 601.5,1547.5 602.5,1545.2 603.4,1542.9 604.5,1540.6 604.7,1538.3 605.9,1536.0 606.2,1533.7 608.2,1531.4 609.6,1529.1 610.4,1526.8 611.5,1524.6 612.5,1522.3 614.4,1520.0 616.1,1517.7 618.0,1515.4 619.9,1513.1 622.0,1510.8 623.3,1508.5 624.3,1506.2 625.0,1503.9 625.4,1501.7 625.9,1499.4 626.8,1497.1 627.2,1494.8 628.1,1492.5 630.0,1490.2 630.9,1487.9 632.0,1485.6 632.6,1483.3 633.9,1481.0 634.6,1478.7 635.6,1476.5 636.7,1474.2 637.5,1471.9 638.9,1469.6 639.0,1467.3 639.6,1465.0 640.5,1462.7 641.3,1460.4 642.3,1458.1 644.0,1455.8 644.6,1453.6 645.6,1451.3 646.3,1449.0 647.1,1446.7 647.6,1444.4 649.6,1442.1 651.9,1439.8 653.7,1437.5 656.1,1435.2 657.4,1432.9 659.5,1430.6 661.8,1428.4 664.4,1426.1 666.6,1423.8 668.7,1421.5 670.9,1419.2 672.0,1416.9 673.5,1414.6 675.2,1412.3 676.3,1410.0 677.9,1407.7 678.5,1405.5 679.6,1403.2 680.9,1400.9 681.6,1398.6 683.9,1396.3 685.7,1394.0 687.1,1391.7 688.3,1389.4 689.5,1387.1 690.2,1384.8 691.0,1382.5 691.2,1380.3 692.8,1378.0 693.9,1375.7 694.3,1373.4 695.4,1371.1 697.0,1368.8 697.6,1366.5 698.9,1364.2 699.4,1361.9 700.8,1359.6 702.3,1357.4 702.9,1355.1 704.2,1352.8 706.0,1350.5 707.3,1348.2 709.3,1345.9 710.9,1343.6 712.6,1341.3 713.2,1339.0 714.1,1336.7 715.5,1334.4 717.0,1332.2 718.1,1329.9 719.3,1327.6 720.2,1325.3 721.5,1323.0 723.1,1320.7 725.0,1318.4 726.4,1316.1 727.9,1313.8 729.1,1311.5 730.4,1309.2 731.9,1307.0 732.6,1304.7 734.1,1302.4 735.4,1300.1 736.9,1297.8 738.1,1295.5 739.0,1293.2 740.0,1290.9 741.4,1288.6 741.8,1286.3 743.2,1284.1 745.0,1281.8 747.0,1279.5 748.9,1277.2 750.8,1274.9 752.8,1272.6 754.5,1270.3 756.9,1268.0 758.5,1265.7 760.2,1263.4 762.1,1261.1 763.6,1258.9 765.1,1256.6 767.0,1254.3 768.8,1252.0 770.0,1249.7 770.8,1247.4 772.1,1245.1 773.8,1242.8 774.6,1240.5 776.1,1238.2 777.6,1236.0 778.6,1233.7 780.7,1231.4 782.0,1229.1 782.9,1226.8 784.0,1224.5 785.8,1222.2 787.9,1219.9 789.4,1217.6 790.8,1215.3 792.0,1213.0 794.0,1210.8 795.7,1208.5 796.2,1206.2 797.6,1203.9 799.1,1201.6 800.3,1199.3 801.8,1197.0 803.3,1194.7 804.1,1192.4 805.9,1190.1 807.1,1187.9 808.7,1185.6 809.9,1183.3 811.0,1181.0 812.7,1178.7 814.0,1176.4 815.8,1174.1 817.2,1171.8 819.2,1169.5 820.0,1167.2 821.4,1164.9 822.7,1162.7 824.2,1160.4 826.2,1158.1 827.5,1155.8 829.1,1153.5 831.2,1151.2"/>
<path d="M585.6,1586.4 585.6,1584.1 585.9,1581.8 586.6,1579.5 587.5,1577.2 587.7,1574.9 588.0,1572.7 588.6,1570.4 588.8,1568.1 589.3,1565.8 589.8,1563.5 590.9,1561.2 592.1,1558.9 596.3,1556.6 601.5,1554.3 605.3,1552.0 607.2,1549.8 608.8,1547.5 609.7,1545.2 610.9,1542.9 611.7,1540.6 612.7,1538.3 613.7,1536.0 614.8,1533.7 616.4,1531.4 618.1,1529.1 619.5,1526.8 620.3,1524.6 621.6,1522.3 622.3,1520.0 624.0,1517.7 626.3,1515.4 628.2,1513.1 630.1,1510.8 631.6,1508.5 633.0,1506.2 633.7,1503.9 634.3,1501.7 634.6,1499.4 635.6,1497.1 636.4,1494.8 637.4,1492.5 638.7,1490.2 639.0,1487.9 639.7,1485.6 640.6,1483.3 640.9,1481.0 641.9,1478.7 642.8,1476.5 643.9,1474.2 645.1,1471.9 646.3,1469.6 647.0,1467.3 647.9,1465.0 648.9,1462.7 650.1,1460.4 650.2,1458.1 651.1,1455.8 651.9,1453.6 653.1,1451.3 654.7,1449.0 655.9,1446.7 657.2,1444.4 658.3,1442.1 660.1,1439.8 662.0,1437.5 663.4,1435.2 665.6,1432.9 667.5,1430.6 668.9,1428.4 671.3,1426.1 673.8,1423.8 675.9,1421.5 677.6,1419.2 679.3,1416.9 681.1,1414.6 682.7,1412.3 683.4,1410.0 684.6,1407.7 686.1,1405.5 687.5,1403.2 689.1,1400.9 690.6,1398.6 691.7,1396.3 692.6,1394.0 694.3,1391.7 694.9,1389.4 695.9,1387.1 697.7,1384.8 698.9,1382.5 700.0,1380.3 701.0,1378.0 702.4,1375.7 704.5,1373.4 705.3,1371.1 706.1,1368.8 707.4,1366.5 709.1,1364.2 710.0,1361.9 710.5,1359.6 711.7,1357.4 712.4,1355.1 714.0,1352.8 715.0,1350.5 716.4,1348.2 717.5,1345.9 719.0,1343.6 719.3,1341.3 720.8,1339.0 722.2,1336.7 723.6,1334.4 724.2,1332.2 726.2,1329.9 727.2,1327.6 728.7,1325.3 729.7,1323.0 731.0,1320.7 732.2,1318.4 732.9,1316.1 734.2,1313.8 736.2,1311.5 737.1,1309.2 738.6,1307.0 739.3,1304.7 741.2,1302.4 742.0,1300.1 743.0,1297.8 744.4,1295.5 746.2,1293.2 747.1,1290.9 748.7,1288.6 750.5,1286.3 752.0,1284.1 753.5,1281.8 755.7,1279.5 758.2,1277.2 761.0,1274.9 762.9,1272.6 763.6,1270.3 765.6,1268.0 767.4,1265.7 768.9,1263.4 770.5,1261.1 772.2,1258.9 773.4,1256.6 774.2,1254.3 775.6,1252.0 777.4,1249.7 778.6,1247.4 779.8,1245.1 780.8,1242.8 782.6,1240.5 783.7,1238.2 785.2,1236.0 786.4,1233.7 788.5,1231.4 790.3,1229.1 792.5,1226.8 793.3,1224.5 794.1,1222.2 795.6,1219.9 796.4,1217.6 797.7,1215.3 799.5,1213.0 800.9,1210.8 802.6,1208.5 803.6,1206.2 804.9,1203.9 806.2,1201.6 808.0,1199.3 809.7,1197.0 811.3,1194.7 812.4,1192.4 813.3,1190.1 814.3,1187.9 815.6,1185.6 816.3,1183.3 817.4,1181.0 818.3,1178.7 820.0,1176.4 821.7,1174.1 822.9,1171.8 824.9,1169.5 826.5,1167.2 828.0,1164.9 830.1,1162.7 832.1,1160.4 833.5,1158.1 835.0,1155.8 836.1,1153.5 838.0,1151.2"/>
<path d="M592.2,1586.4 592.9,1584.1 592.9,1581.8 592.8,1579.5 593.8,1577.2 594.5,1574.9 594.3,1572.7 595.2,1570.4 595.3,1568.1 596.4,1565.8 597.0,1563.5 597.3,1561.2 598.9,1558.9 603.4,1556.6 607.7,1554.3 612.7,1552.0 614.9,1549.8 617.1,1547.5 617.4,1545.2 619.3,1542.9 620.6,1540.6 621.3,1538.3 623.3,1536.0 624.7,1533.7 625.4,1531.4 626.3,1529.1 627.8,1526.8 629.7,1524.6 630.9,1522.3 631.8,1520.0 633.8,1517.7 635.3,1515.4 637.7,1513.1 639.5,1510.8 640.5,1508.5 641.2,1506.2 642.0,1503.9 643.0,1501.7 644.5,1499.4 645.2,1497.1 645.7,1494.8 647.1,1492.5 648.3,1490.2 649.0,1487.9 650.2,1485.6 650.8,1483.3 652.1,1481.0 652.6,1478.7 652.9,1476.5 653.4,1474.2 654.2,1471.9 655.1,1469.6 655.7,1467.3 656.4,1465.0 656.8,1462.7 657.7,1460.4 659.4,1458.1 660.3,1455.8 660.9,1453.6 661.7,1451.3 662.7,1449.0 663.9,1446.7 665.0,1444.4 667.0,1442.1 668.3,1439.8 670.0,1437.5 672.4,1435.2 674.1,1432.9 676.5,1430.6 678.3,1428.4 680.6,1426.1 683.3,1423.8 684.4,1421.5 686.1,1419.2 687.0,1416.9 688.5,1414.6 689.7,1412.3 691.2,1410.0 692.2,1407.7 692.8,1405.5 694.6,1403.2 696.1,1400.9 697.9,1398.6 699.1,1396.3 700.2,1394.0 700.9,1391.7 701.5,1389.4 702.9,1387.1 703.6,1384.8 705.5,1382.5 707.3,1380.3 708.5,1378.0 710.0,1375.7 711.0,1373.4 711.8,1371.1 713.8,1368.8 714.7,1366.5 716.2,1364.2 716.8,1361.9 718.0,1359.6 719.5,1357.4 719.8,1355.1 720.5,1352.8 721.6,1350.5 722.9,1348.2 724.4,1345.9 725.5,1343.6 726.6,1341.3 727.7,1339.0 728.8,1336.7 730.5,1334.4 731.8,1332.2 732.8,1329.9 733.9,1327.6 735.2,1325.3 736.2,1323.0 737.9,1320.7 739.7,1318.4 740.6,1316.1 742.0,1313.8 743.4,1311.5 745.2,1309.2 746.3,1307.0 747.6,1304.7 748.6,1302.4 749.7,1300.1 751.0,1297.8 753.8,1295.5 755.4,1293.2 756.7,1290.9 758.0,1288.6 758.7,1286.3 759.8,1284.1 761.9,1281.8 763.8,1279.5 766.2,1277.2 767.9,1274.9 769.8,1272.6 771.3,1270.3 773.0,1268.0 774.6,1265.7 776.5,1263.4 777.6,1261.1 779.0,1258.9 780.2,1256.6 781.7,1254.3 783.4,1252.0 784.9,1249.7 785.5,1247.4 786.9,1245.1 788.3,1242.8 789.8,1240.5 791.1,1238.2 792.6,1236.0 794.5,1233.7 796.2,1231.4 798.1,1229.1 798.7,1226.8 799.7,1224.5 800.8,1222.2 802.8,1219.9 804.5,1217.6 805.6,1215.3 806.8,1213.0 808.4,1210.8 810.3,1208.5 812.2,1206.2 813.1,1203.9 814.7,1201.6 815.8,1199.3 817.7,1197.0 819.8,1194.7 820.9,1192.4 822.0,1190.1 821.9,1187.9 823.5,1185.6 824.0,1183.3 825.2,1181.0 827.0,1178.7 827.8,1176.4 830.3,1174.1 831.3,1171.8 833.1,1169.5 834.2,1167.2 836.0,1164.9 837.4,1162.7 839.2,1160.4 840.1,1158.1 842.4,1155.8 844.2,1153.5 845.5,1151.2"/>
<path d="M598.9,1586.4 598.9,1584.1 599.1,1581.8 599.7,1579.5 600.4,1577.2 601.1,1574.9 602.0,1572.7 602.8,1570.4 603.1,1568.1 603.5,1565.8 603.8,1563.5 604.9,1561.2 606.3,1558.9 610.7,1556.6 616.7,1554.3 620.8,1552.0 623.1,1549.8 624.4,1547.5 625.8,1545.2 628.8,1542.9 629.2,1540.6 630.8,1538.3 631.6,1536.0 632.3,1533.7 633.0,1531.4 634.7,1529.1 635.9,1526.8 637.3,1524.6 639.3,1522.3 639.9,1520.0 640.5,1517.7 642.7,1515.4 645.4,1513.1 647.1,1510.8 648.9,1508.5 650.4,1506.2 651.3,1503.9 651.8,1501.7 652.8,1499.4 654.1,1497.1 655.0,1494.8 655.7,1492.5 656.7,1490.2 657.4,1487.9 658.5,1485.6 659.1,1483.3 660.4,1481.0 661.2,1478.7 661.9,1476.5 661.8,1474.2 661.8,1471.9 662.8,1469.6 663.7,1467.3 665.6,1465.0 666.1,1462.7 666.7,1460.4 668.0,1458.1 668.2,1455.8 669.4,1453.6 670.0,1451.3 670.2,1449.0 671.1,1446.7 672.7,1444.4 674.5,1442.1 676.2,1439.8 677.7,1437.5 679.6,1435.2 681.6,1432.9 683.6,1430.6 686.3,1428.4 688.6,1426.1 689.9,1423.8 691.3,1421.5 692.5,1419.2 694.2,1416.9 696.2,1414.6 698.2,1412.3 699.4,1410.0 700.4,1407.7 701.2,1405.5 701.9,1403.2 704.0,1400.9 705.0,1398.6 706.0,1396.3 708.0,1394.0 708.7,1391.7 709.8,1389.4 711.0,1387.1 711.4,1384.8 712.1,1382.5 714.9,1380.3 716.0,1378.0 716.3,1375.7 717.4,1373.4 718.7,1371.1 720.2,1368.8 721.4,1366.5 722.2,1364.2 723.5,1361.9 725.3,1359.6 726.3,1357.4 727.1,1355.1 728.0,1352.8 728.6,1350.5 730.7,1348.2 732.3,1345.9 733.6,1343.6 735.0,1341.3 736.8,1339.0 737.9,1336.7 738.6,1334.4 740.4,1332.2 740.8,1329.9 742.2,1327.6 744.1,1325.3 746.1,1323.0 747.3,1320.7 748.4,1318.4 749.7,1316.1 750.9,1313.8 752.1,1311.5 754.0,1309.2 755.4,1307.0 757.2,1304.7 758.5,1302.4 759.3,1300.1 760.4,1297.8 762.4,1295.5 763.2,1293.2 764.9,1290.9 765.6,1288.6 767.2,1286.3 768.5,1284.1 769.9,1281.8 771.4,1279.5 773.0,1277.2 775.1,1274.9 777.4,1272.6 779.0,1270.3 780.2,1268.0 781.9,1265.7 782.4,1263.4 784.2,1261.1 786.8,1258.9 787.2,1256.6 788.7,1254.3 790.8,1252.0 793.0,1249.7 794.8,1247.4 795.8,1245.1 797.8,1242.8 799.6,1240.5 800.5,1238.2 801.7,1236.0 802.5,1233.7 803.8,1231.4 805.7,1229.1 806.5,1226.8 808.4,1224.5 809.8,1222.2 811.2,1219.9 812.2,1217.6 813.8,1215.3 815.1,1213.0 816.3,1210.8 817.0,1208.5 818.5,1206.2 819.9,1203.9 821.7,1201.6 823.1,1199.3 824.4,1197.0 825.5,1194.7 826.6,1192.4 827.7,1190.1 829.4,1187.9 830.2,1185.6 831.0,1183.3 832.7,1181.0 834.8,1178.7 836.3,1176.4 837.5,1174.1 839.7,1171.8 841.0,1169.5 842.1,1167.2 843.5,1164.9 845.5,1162.7 847.0,1160.4 848.9,1158.1 850.3,1155.8 851.7,1153.5"/>
<path d="M606.0,1586.4 605.3,1584.1 606.4,1581.8 607.1,1579.5 607.7,1577.2 608.1,1574.9 608.4,1572.7 609.4,1570.4 609.7,1568.1 610.4,1565.8 610.0,1563.5 611.6,1561.2 613.5,1558.9 618.6,1556.6 624.2,1554.3 628.8,1552.0 631.5,1549.8 632.1,1547.5 634.5,1545.2 635.8,1542.9 636.8,1540.6 638.2,1538.3 640.2,1536.0 641.4,1533.7 643.1,1531.4 643.7,1529.1 644.7,1526.8 646.4,1524.6 647.1,1522.3 647.4,1520.0 648.9,1517.7 650.8,1515.4 652.8,1513.1 655.0,1510.8 656.6,1508.5 657.5,1506.2 658.9,1503.9 659.8,1501.7 660.9,1499.4 661.4,1497.1 662.7,1494.8 663.5,1492.5 664.9,1490.2 665.1,1487.9 666.5,1485.6 666.8,1483.3 667.9,1481.0 668.3,1478.7 668.9,1476.5 670.2,1474.2 670.5,1471.9 671.9,1469.6 673.7,1467.3 674.7,1465.0 674.7,1462.7 675.9,1460.4 676.7,1458.1 677.7,1455.8 678.6,1453.6 680.0,1451.3 681.6,1449.0 682.6,1446.7 684.1,1444.4 684.9,1442.1 687.1,1439.8 687.9,1437.5 688.8,1435.2 690.3,1432.9 692.3,1430.6 694.5,1428.4 695.6,1426.1 697.5,1423.8 699.3,1421.5 701.8,1419.2 702.8,1416.9 703.5,1414.6 704.3,1412.3 705.7,1410.0 707.4,1407.7 708.8,1405.5 710.1,1403.2 711.0,1400.9 712.3,1398.6 713.5,1396.3 715.8,1394.0 716.7,1391.7 717.2,1389.4 718.2,1387.1 719.3,1384.8 719.6,1382.5 721.0,1380.3 722.5,1378.0 723.9,1375.7 724.8,1373.4 726.0,1371.1 727.5,1368.8 729.2,1366.5 730.5,1364.2 731.1,1361.9 732.8,1359.6 734.6,1357.4 735.6,1355.1 735.7,1352.8 737.5,1350.5 739.3,1348.2 740.5,1345.9 741.6,1343.6 743.3,1341.3 744.8,1339.0 746.0,1336.7 747.1,1334.4 748.4,1332.2 750.1,1329.9 751.3,1327.6 752.0,1325.3 753.1,1323.0 754.6,1320.7 756.1,1318.4 757.2,1316.1 758.9,1313.8 760.0,1311.5 761.7,1309.2 763.6,1307.0 765.1,1304.7 766.1,1302.4 767.5,1300.1 767.7,1297.8 769.7,1295.5 770.6,1293.2 771.5,1290.9 772.8,1288.6 774.0,1286.3 775.6,1284.1 777.2,1281.8 779.1,1279.5 781.4,1277.2 783.3,1274.9 784.6,1272.6 786.1,1270.3 787.3,1268.0 789.4,1265.7 790.4,1263.4 791.9,1261.1 794.1,1258.9 795.4,1256.6 796.9,1254.3 798.5,1252.0 799.3,1249.7 800.9,1247.4 802.8,1245.1 804.2,1242.8 805.9,1240.5 806.8,1238.2 808.3,1236.0 809.5,1233.7 811.0,1231.4 811.9,1229.1 813.2,1226.8 814.9,1224.5 816.1,1222.2 817.9,1219.9 819.9,1217.6 821.3,1215.3 822.6,1213.0 824.1,1210.8 825.0,1208.5 826.1,1206.2 827.1,1203.9 828.3,1201.6 830.5,1199.3 831.5,1197.0 832.9,1194.7 834.1,1192.4 835.3,1190.1 836.6,1187.9 837.9,1185.6 839.4,1183.3 840.7,1181.0 842.2,1178.7 843.5,1176.4 844.7,1174.1 846.1,1171.8 848.2,1169.5 849.0,1167.2 850.5,1164.9 852.4,1162.7 854.2,1160.4 855.4,1158.1 856.6,1155.8"/>
<path d="M612.7,1586.4 613.4,1584.1 614.0,1581.8 614.2,1579.5 614.4,1577.2 614.7,1574.9 615.1,1572.7 615.1,1570.4 615.1,1568.1 615.8,1565.8 617.3,1563.5 618.1,1561.2 619.4,1558.9 624.5,1556.6 631.2,1554.3 636.3,1552.0 639.1,1549.8 640.9,1547.5 642.5,1545.2 643.6,1542.9 645.4,1540.6 646.9,1538.3 648.3,1536.0 649.8,1533.7 651.0,1531.4 652.8,1529.1 653.6,1526.8 655.2,1524.6 656.3,1522.3 657.4,1520.0 658.6,1517.7 660.6,1515.4 662.4,1513.1 664.4,1510.8 665.2,1508.5 666.4,1506.2 667.1,1503.9 668.4,1501.7 670.0,1499.4 670.4,1497.1 671.8,1494.8 672.2,1492.5 673.8,1490.2 674.6,1487.9 675.6,1485.6 675.9,1483.3 677.4,1481.0 678.0,1478.7 678.6,1476.5 679.8,1474.2 680.2,1471.9 680.9,1469.6 681.7,1467.3 682.3,1465.0 683.7,1462.7 685.3,1460.4 685.6,1458.1 687.1,1455.8 688.3,1453.6 688.9,1451.3 690.1,1449.0 691.7,1446.7 692.3,1444.4 693.2,1442.1 694.1,1439.8 696.4,1437.5 698.1,1435.2 699.0,1432.9 700.5,1430.6 702.4,1428.4 704.0,1426.1 706.0,1423.8 707.4,1421.5 709.2,1419.2 710.6,1416.9 711.9,1414.6 712.8,1412.3 714.2,1410.0 715.8,1407.7 716.3,1405.5 717.8,1403.2 719.5,1400.9 720.9,1398.6 722.1,1396.3 723.0,1394.0 723.6,1391.7 724.4,1389.4 725.6,1387.1 726.4,1384.8 727.8,1382.5 729.0,1380.3 730.2,1378.0 732.1,1375.7 733.3,1373.4 734.8,1371.1 735.3,1368.8 736.8,1366.5 737.8,1364.2 739.7,1361.9 740.3,1359.6 741.3,1357.4 743.0,1355.1 745.1,1352.8 745.6,1350.5 746.8,1348.2 747.9,1345.9 749.9,1343.6 751.9,1341.3 753.0,1339.0 754.5,1336.7 755.3,1334.4 756.1,1332.2 757.6,1329.9 758.7,1327.6 760.4,1325.3 761.5,1323.0 763.4,1320.7 764.5,1318.4 765.8,1316.1 767.4,1313.8 768.7,1311.5 770.4,1309.2 771.3,1307.0 772.2,1304.7 773.8,1302.4 775.3,1300.1 776.3,1297.8 777.1,1295.5 778.3,1293.2 779.8,1290.9 781.2,1288.6 782.3,1286.3 783.6,1284.1 785.5,1281.8 787.8,1279.5 790.1,1277.2 791.3,1274.9 792.4,1272.6 794.2,1270.3 795.6,1268.0 797.5,1265.7 799.3,1263.4 800.5,1261.1 801.9,1258.9 802.7,1256.6 803.7,1254.3 805.7,1252.0 808.0,1249.7 808.7,1247.4 809.7,1245.1 811.1,1242.8 813.0,1240.5 813.8,1238.2 815.4,1236.0 817.5,1233.7 818.0,1231.4 819.2,1229.1 821.1,1226.8 823.1,1224.5 824.2,1222.2 826.0,1219.9 827.7,1217.6 828.4,1215.3 829.8,1213.0 831.0,1210.8 832.3,1208.5 833.9,1206.2 834.9,1203.9 835.7,1201.6 836.8,1199.3 838.0,1197.0 839.6,1194.7 841.6,1192.4 842.8,1190.1 844.0,1187.9 845.3,1185.6 847.1,1183.3 848.4,1181.0 849.8,1178.7 850.9,1176.4 852.4,1174.1 853.6,1171.8 855.5,1169.5 856.9,1167.2 858.8,1164.9 860.4,1162.7 861.9,1160.4 862.8,1158.1 864.3,1155.8"/>
<path d="M619.2,1586.4 620.0,1584.1 620.5,1581.8 621.0,1579.5 621.3,1577.2 622.3,1574.9 621.8,1572.7 622.7,1570.4 623.0,1568.1 623.1,1565.8 623.5,1563.5 624.4,1561.2 626.8,1558.9 633.0,1556.6 639.6,1554.3 644.9,1552.0 648.0,1549.8 650.5,1547.5 651.7,1545.2 652.9,1542.9 654.4,1540.6 655.6,1538.3 657.1,1536.0 658.0,1533.7 659.2,1531.4 661.8,1529.1 663.4,1526.8 665.1,1524.6 666.2,1522.3 667.0,1520.0 668.7,1517.7 670.7,1515.4 671.9,1513.1 673.1,1510.8 674.4,1508.5 675.3,1506.2 675.7,1503.9 677.1,1501.7 678.4,1499.4 678.6,1497.1 680.4,1494.8 680.8,1492.5 681.3,1490.2 682.0,1487.9 683.0,1485.6 684.0,1483.3 684.3,1481.0 685.5,1478.7 686.7,1476.5 687.4,1474.2 687.5,1471.9 688.2,1469.6 689.2,1467.3 690.7,1465.0 691.5,1462.7 692.8,1460.4 694.9,1458.1 695.6,1455.8 696.3,1453.6 697.6,1451.3 698.9,1449.0 700.3,1446.7 701.1,1444.4 701.5,1442.1 702.0,1439.8 703.2,1437.5 704.6,1435.2 705.8,1432.9 706.9,1430.6 708.7,1428.4 710.4,1426.1 712.0,1423.8 714.4,1421.5 716.2,1419.2 716.9,1416.9 718.7,1414.6 719.9,1412.3 720.9,1410.0 722.0,1407.7 724.4,1405.5 725.4,1403.2 726.1,1400.9 727.3,1398.6 728.8,1396.3 729.9,1394.0 730.9,1391.7 731.7,1389.4 732.7,1387.1 733.5,1384.8 734.9,1382.5 736.5,1380.3 737.9,1378.0 739.2,1375.7 740.9,1373.4 742.2,1371.1 743.6,1368.8 744.2,1366.5 745.3,1364.2 746.4,1361.9 748.2,1359.6 749.3,1357.4 750.5,1355.1 751.7,1352.8 753.6,1350.5 754.5,1348.2 755.5,1345.9 756.9,1343.6 758.2,1341.3 760.1,1339.0 761.7,1336.7 763.0,1334.4 764.1,1332.2 765.3,1329.9 767.1,1327.6 768.4,1325.3 769.8,1323.0 770.0,1320.7 771.0,1318.4 772.4,1316.1 774.2,1313.8 775.9,1311.5 777.2,1309.2 777.8,1307.0 779.4,1304.7 780.5,1302.4 781.1,1300.1 782.4,1297.8 784.0,1295.5 785.7,1293.2 787.6,1290.9 789.1,1288.6 790.6,1286.3 791.8,1284.1 793.4,1281.8 794.7,1279.5 796.8,1277.2 798.5,1274.9 800.5,1272.6 802.2,1270.3 803.4,1268.0 804.8,1265.7 806.3,1263.4 807.8,1261.1 808.2,1258.9 809.6,1256.6 812.1,1254.3 813.6,1252.0 815.6,1249.7 816.7,1247.4 817.5,1245.1 818.9,1242.8 820.3,1240.5 821.5,1238.2 823.6,1236.0 825.6,1233.7 826.6,1231.4 828.7,1229.1 830.3,1226.8 830.9,1224.5 832.7,1222.2 834.1,1219.9 835.3,1217.6 835.9,1215.3 837.6,1213.0 838.6,1210.8 840.8,1208.5 841.6,1206.2 842.4,1203.9 844.1,1201.6 845.1,1199.3 847.2,1197.0 848.1,1194.7 849.8,1192.4 850.7,1190.1 851.9,1187.9 853.4,1185.6 854.5,1183.3 856.2,1181.0 857.3,1178.7 859.3,1176.4 860.9,1174.1 861.5,1171.8 863.7,1169.5 865.0,1167.2 865.9,1164.9 867.5,1162.7 869.1,1160.4 870.9,1158.1 872.6,1155.8"/>
<path d="M626.9,1586.4 626.6,1584.1 627.2,1581.8 627.4,1579.5 627.3,1577.2 627.7,1574.9 628.0,1572.7 628.9,1570.4 629.4,1568.1 630.2,1565.8 630.8,1563.5 631.8,1561.2 634.3,1558.9 639.9,1556.6 647.2,1554.3 653.0,1552.0 655.7,1549.8 657.5,1547.5 659.6,1545.2 661.5,1542.9 663.7,1540.6 664.9,1538.3 666.1,1536.0 666.8,1533.7 668.2,1531.4 670.2,1529.1 672.2,1526.8 673.5,1524.6 675.3,1522.3 676.9,1520.0 678.7,1517.7 680.1,1515.4 680.9,1513.1 682.1,1510.8 683.6,1508.5 684.2,1506.2 685.1,1503.9 685.7,1501.7 686.5,1499.4 687.0,1497.1 688.6,1494.8 689.3,1492.5 690.4,1490.2 691.5,1487.9 692.3,1485.6 692.8,1483.3 693.5,1481.0 694.1,1478.7 695.3,1476.5 696.0,1474.2 697.5,1471.9 698.3,1469.6 699.4,1467.3 699.9,1465.0 700.2,1462.7 701.2,1460.4 702.7,1458.1 704.1,1455.8 705.4,1453.6 706.1,1451.3 706.8,1449.0 707.9,1446.7 708.8,1444.4 710.2,1442.1 711.7,1439.8 713.2,1437.5 714.0,1435.2 715.9,1432.9 716.4,1430.6 717.7,1428.4 719.1,1426.1 720.6,1423.8 722.0,1421.5 723.8,1419.2 724.8,1416.9 726.4,1414.6 727.2,1412.3 728.5,1410.0 730.0,1407.7 731.6,1405.5 732.3,1403.2 732.7,1400.9 734.8,1398.6 735.7,1396.3 736.8,1394.0 738.1,1391.7 739.9,1389.4 741.4,1387.1 742.9,1384.8 744.4,1382.5 745.6,1380.3 746.5,1378.0 748.1,1375.7 749.4,1373.4 750.5,1371.1 750.8,1368.8 751.8,1366.5 753.3,1364.2 754.3,1361.9 756.0,1359.6 758.3,1357.4 759.3,1355.1 760.5,1352.8 761.9,1350.5 763.6,1348.2 763.7,1345.9 764.8,1343.6 766.7,1341.3 767.8,1339.0 768.4,1336.7 770.0,1334.4 770.9,1332.2 772.7,1329.9 774.5,1327.6 775.6,1325.3 776.5,1323.0 778.1,1320.7 779.4,1318.4 780.7,1316.1 781.9,1313.8 783.2,1311.5 784.3,1309.2 786.2,1307.0 788.1,1304.7 789.0,1302.4 789.9,1300.1 791.7,1297.8 793.7,1295.5 795.1,1293.2 796.9,1290.9 798.4,1288.6 799.6,1286.3 800.7,1284.1 801.8,1281.8 803.3,1279.5 804.2,1277.2 806.6,1274.9 807.6,1272.6 809.3,1270.3 811.0,1268.0 812.5,1265.7 813.9,1263.4 815.1,1261.1 816.5,1258.9 818.3,1256.6 820.1,1254.3 820.9,1252.0 822.4,1249.7 823.2,1247.4 824.9,1245.1 826.5,1242.8 827.5,1240.5 829.7,1238.2 830.6,1236.0 832.7,1233.7 833.4,1231.4 835.3,1229.1 836.0,1226.8 837.4,1224.5 838.5,1222.2 840.3,1219.9 841.5,1217.6 843.0,1215.3 844.7,1213.0 845.8,1210.8 847.1,1208.5 848.8,1206.2 849.9,1203.9 851.6,1201.6 852.3,1199.3 854.7,1197.0 856.5,1194.7 857.1,1192.4 858.2,1190.1 859.5,1187.9 861.1,1185.6 862.8,1183.3 864.5,1181.0 866.1,1178.7 866.8,1176.4 868.1,1174.1 869.3,1171.8 870.9,1169.5 872.1,1167.2 872.7,1164.9 874.1,1162.7 876.7,1160.4 878.1,1158.1 879.9,1155.8"/>
<path d="M633.2,1586.4 633.4,1584.1 633.9,1581.8 634.3,1579.5 635.1,1577.2 635.4,1574.9 635.2,1572.7 636.2,1570.4 637.0,1568.1 637.3,1565.8 637.8,1563.5 639.0,1561.2 641.5,1558.9 647.3,1556.6 655.5,1554.3 662.5,1552.0 665.1,1549.8 666.7,1547.5 669.0,1545.2 671.0,1542.9 671.8,1540.6 672.4,1538.3 673.2,1536.0 674.6,1533.7 675.8,1531.4 677.3,1529.1 678.8,1526.8 679.7,1524.6 681.6,1522.3 683.7,1520.0 684.3,1517.7 685.9,1515.4 687.3,1513.1 688.5,1510.8 690.0,1508.5 690.9,1506.2 692.5,1503.9 693.5,1501.7 694.2,1499.4 695.6,1497.1 696.7,1494.8 698.3,1492.5 699.2,1490.2 699.9,1487.9 701.6,1485.6 702.3,1483.3 703.2,1481.0 704.5,1478.7 704.9,1476.5 705.6,1474.2 706.0,1471.9 707.7,1469.6 708.0,1467.3 708.4,1465.0 708.9,1462.7 710.7,1460.4 712.0,1458.1 712.5,1455.8 713.1,1453.6 715.0,1451.3 715.5,1449.0 716.4,1446.7 717.1,1444.4 719.3,1442.1 719.9,1439.8 720.4,1437.5 721.8,1435.2 723.2,1432.9 724.3,1430.6 725.4,1428.4 726.1,1426.1 727.4,1423.8 729.7,1421.5 730.3,1419.2 732.3,1416.9 734.5,1414.6 736.0,1412.3 737.1,1410.0 738.6,1407.7 740.0,1405.5 740.4,1403.2 741.7,1400.9 742.3,1398.6 742.7,1396.3 744.5,1394.0 745.4,1391.7 746.8,1389.4 747.6,1387.1 749.4,1384.8 750.9,1382.5 752.0,1380.3 752.8,1378.0 753.9,1375.7 755.4,1373.4 756.4,1371.1 757.4,1368.8 759.1,1366.5 760.6,1364.2 762.3,1361.9 763.9,1359.6 764.5,1357.4 765.8,1355.1 766.8,1352.8 767.6,1350.5 769.2,1348.2 770.5,1345.9 772.1,1343.6 773.3,1341.3 775.0,1339.0 776.3,1336.7 777.8,1334.4 779.5,1332.2 781.5,1329.9 782.4,1327.6 782.8,1325.3 783.7,1323.0 785.8,1320.7 787.9,1318.4 789.5,1316.1 791.3,1313.8 792.2,1311.5 793.2,1309.2 795.0,1307.0 796.5,1304.7 797.9,1302.4 799.3,1300.1 800.5,1297.8 801.0,1295.5 802.9,1293.2 804.3,1290.9 805.3,1288.6 806.6,1286.3 808.4,1284.1 809.5,1281.8 810.6,1279.5 812.5,1277.2 814.4,1274.9 816.2,1272.6 817.9,1270.3 819.3,1268.0 820.5,1265.7 821.1,1263.4 822.6,1261.1 824.0,1258.9 826.2,1256.6 827.4,1254.3 829.0,1252.0 830.7,1249.7 831.6,1247.4 832.6,1245.1 834.6,1242.8 836.5,1240.5 837.2,1238.2 838.7,1236.0 840.7,1233.7 841.6,1231.4 843.1,1229.1 844.5,1226.8 845.8,1224.5 847.0,1222.2 847.4,1219.9 848.6,1217.6 850.2,1215.3 852.0,1213.0 854.2,1210.8 856.6,1208.5 858.2,1206.2 859.3,1203.9 860.0,1201.6 861.2,1199.3 862.9,1197.0 864.0,1194.7 865.3,1192.4 867.1,1190.1 867.8,1187.9 868.8,1185.6 870.8,1183.3 872.2,1181.0 873.7,1178.7 874.9,1176.4 875.7,1174.1 877.5,1171.8 878.5,1169.5 880.0,1167.2 881.4,1164.9 882.9,1162.7 883.7,1160.4 885.3,1158.1 886.1,1155.8"/>
<path d="M640.2,1586.4 640.4,1584.1 641.5,1581.8 641.5,1579.5 641.9,1577.2 642.3,1574.9 642.1,1572.7 642.8,1570.4 643.4,1568.1 643.7,1565.8 644.4,1563.5 645.5,1561.2 648.2,1558.9 655.0,1556.6 663.4,1554.3 670.1,1552.0 672.8,1549.8 675.2,1547.5 677.0,1545.2 678.4,1542.9 679.6,1540.6 680.6,1538.3 682.1,1536.0 684.0,1533.7 685.3,1531.4 686.6,1529.1 687.8,1526.8 688.9,1524.6 690.1,1522.3 691.8,1520.0 692.7,1517.7 695.1,1515.4 696.8,1513.1 698.1,1510.8 699.1,1508.5 700.6,1506.2 701.5,1503.9 703.4,1501.7 704.2,1499.4 705.3,1497.1 705.8,1494.8 707.2,1492.5 708.2,1490.2 709.2,1487.9 710.7,1485.6 711.0,1483.3 711.0,1481.0 711.3,1478.7 712.1,1476.5 713.2,1474.2 714.1,1471.9 715.4,1469.6 716.9,1467.3 717.4,1465.0 718.9,1462.7 719.5,1460.4 720.0,1458.1 721.3,1455.8 722.6,1453.6 723.7,1451.3 724.1,1449.0 725.7,1446.7 726.7,1444.4 727.3,1442.1 728.3,1439.8 729.5,1437.5 730.6,1435.2 731.5,1432.9 733.4,1430.6 734.3,1428.4 735.6,1426.1 736.8,1423.8 738.0,1421.5 738.5,1419.2 740.6,1416.9 742.3,1414.6 743.3,1412.3 744.8,1410.0 745.8,1407.7 747.1,1405.5 748.1,1403.2 748.5,1400.9 749.5,1398.6 750.6,1396.3 751.7,1394.0 752.2,1391.7 753.7,1389.4 755.4,1387.1 756.9,1384.8 757.9,1382.5 759.9,1380.3 761.1,1378.0 762.4,1375.7 763.5,1373.4 764.5,1371.1 765.9,1368.8 766.8,1366.5 767.7,1364.2 768.5,1361.9 770.2,1359.6 771.9,1357.4 773.3,1355.1 774.5,1352.8 775.9,1350.5 777.6,1348.2 778.7,1345.9 780.1,1343.6 781.6,1341.3 782.9,1339.0 784.4,1336.7 786.0,1334.4 787.1,1332.2 789.2,1329.9 790.1,1327.6 791.4,1325.3 792.8,1323.0 794.1,1320.7 795.0,1318.4 796.5,1316.1 797.5,1313.8 799.0,1311.5 800.7,1309.2 802.4,1307.0 803.8,1304.7 805.0,1302.4 807.2,1300.1 808.4,1297.8 810.3,1295.5 811.2,1293.2 812.5,1290.9 814.4,1288.6 815.2,1286.3 816.1,1284.1 817.9,1281.8 819.9,1279.5 821.5,1277.2 822.9,1274.9 824.0,1272.6 825.4,1270.3 827.1,1268.0 828.2,1265.7 828.9,1263.4 830.9,1261.1 831.8,1258.9 832.8,1256.6 834.3,1254.3 836.3,1252.0 837.3,1249.7 838.9,1247.4 841.1,1245.1 842.6,1242.8 843.8,1240.5 844.9,1238.2 845.7,1236.0 847.9,1233.7 848.8,1231.4 850.3,1229.1 852.2,1226.8 853.3,1224.5 854.7,1222.2 856.5,1219.9 857.9,1217.6 859.7,1215.3 861.4,1213.0 863.1,1210.8 863.6,1208.5 865.0,1206.2 866.3,1203.9 867.5,1201.6 868.1,1199.3 869.5,1197.0 871.5,1194.7 873.1,1192.4 874.0,1190.1 875.3,1187.9 876.6,1185.6 878.2,1183.3 879.2,1181.0 880.3,1178.7 881.1,1176.4 882.9,1174.1 885.0,1171.8 886.3,1169.5 887.8,1167.2 889.2,1164.9 889.9,1162.7 891.5,1160.4 893.3,1158.1 894.8,1155.8"/>
<path d="M646.8,1586.4 647.0,1584.1 647.2,1581.8 648.3,1579.5 648.5,1577.2 649.2,1574.9 649.8,1572.7 650.3,1570.4 650.4,1568.1 651.2,1565.8 651.6,1563.5 652.4,1561.2 655.5,1558.9 662.6,1556.6 670.0,1554.3 676.4,1552.0 680.1,1549.8 682.3,1547.5 684.8,1545.2 686.9,1542.9 688.8,1540.6 690.7,1538.3 691.3,1536.0 692.4,1533.7 693.8,1531.4 695.2,1529.1 697.2,1526.8 698.8,1524.6 699.9,1522.3 701.1,1520.0 702.1,1517.7 703.5,1515.4 704.4,1513.1 706.6,1510.8 708.1,1508.5 709.1,1506.2 710.1,1503.9 711.5,1501.7 712.5,1499.4 714.0,1497.1 714.9,1494.8 716.7,1492.5 717.6,1490.2 717.8,1487.9 718.3,1485.6 719.0,1483.3 720.7,1481.0 721.4,1478.7 722.6,1476.5 722.8,1474.2 723.9,1471.9 724.4,1469.6 725.1,1467.3 726.2,1465.0 726.6,1462.7 728.6,1460.4 729.0,1458.1 729.8,1455.8 731.4,1453.6 732.6,1451.3 732.4,1449.0 733.7,1446.7 735.1,1444.4 735.6,1442.1 736.7,1439.8 737.5,1437.5 738.3,1435.2 740.2,1432.9 741.7,1430.6 742.3,1428.4 742.9,1426.1 744.4,1423.8 745.7,1421.5 746.7,1419.2 747.9,1416.9 748.6,1414.6 749.6,1412.3 750.6,1410.0 752.5,1407.7 753.7,1405.5 754.5,1403.2 755.6,1400.9 757.4,1398.6 758.7,1396.3 759.7,1394.0 760.9,1391.7 762.5,1389.4 763.6,1387.1 764.7,1384.8 765.7,1382.5 766.1,1380.3 767.9,1378.0 769.3,1375.7 771.1,1373.4 773.6,1371.1 774.4,1368.8 775.8,1366.5 776.7,1364.2 777.6,1361.9 778.6,1359.6 779.8,1357.4 781.2,1355.1 783.3,1352.8 784.6,1350.5 785.6,1348.2 787.2,1345.9 788.1,1343.6 789.7,1341.3 791.1,1339.0 792.2,1336.7 793.7,1334.4 795.5,1332.2 797.0,1329.9 797.4,1327.6 798.2,1325.3 799.7,1323.0 801.2,1320.7 802.2,1318.4 804.1,1316.1 805.8,1313.8 807.8,1311.5 809.2,1309.2 811.2,1307.0 812.1,1304.7 813.3,1302.4 814.9,1300.1 816.3,1297.8 817.0,1295.5 818.2,1293.2 820.0,1290.9 821.5,1288.6 822.6,1286.3 824.0,1284.1 825.4,1281.8 826.8,1279.5 828.5,1277.2 830.1,1274.9 831.2,1272.6 833.5,1270.3 834.9,1268.0 836.1,1265.7 838.1,1263.4 839.3,1261.1 840.0,1258.9 840.9,1256.6 842.2,1254.3 843.5,1252.0 844.4,1249.7 845.9,1247.4 847.3,1245.1 849.5,1242.8 851.2,1240.5 852.3,1238.2 854.2,1236.0 855.5,1233.7 856.1,1231.4 857.7,1229.1 859.9,1226.8 861.3,1224.5 862.4,1222.2 863.9,1219.9 865.0,1217.6 866.7,1215.3 868.2,1213.0 869.5,1210.8 871.2,1208.5 873.1,1206.2 874.4,1203.9 876.0,1201.6 877.5,1199.3 878.4,1197.0 879.6,1194.7 881.4,1192.4 882.6,1190.1 884.1,1187.9 884.5,1185.6 886.1,1183.3 886.6,1181.0 888.8,1178.7 890.1,1176.4 891.6,1174.1 892.5,1171.8 893.7,1169.5 894.5,1167.2 895.5,1164.9 897.0,1162.7 898.2,1160.4"/>
</g>
<line x1="376" y1="1586.4" x2="495" y2="1586.4" stroke="#1c1c24" stroke-width="2.4"/>
<path fill="none" stroke="#1c1c24" stroke-width="2.6" stroke-linejoin="round" d="M494.9,1586.4 495.0,1584.1 495.5,1581.8 495.8,1579.5 496.2,1577.2 496.1,1574.9 496.2,1572.7 496.5,1570.4 497.0,1568.1 496.9,1565.8 497.5,1563.5 497.8,1561.2 498.2,1558.9 498.7,1556.6 499.0,1554.3 499.2,1552.0 499.6,1549.8 500.4,1547.5 500.4,1545.2 501.0,1542.9 501.4,1540.6 501.9,1538.3 502.4,1536.0 502.9,1533.7 503.3,1531.4 504.1,1529.1 504.5,1526.8 505.6,1524.6 505.8,1522.3 507.1,1520.0 508.4,1517.7 511.1,1515.4 514.4,1513.1 517.2,1510.8 518.7,1508.5 519.8,1506.2 521.1,1503.9 521.7,1501.7 522.3,1499.4 522.9,1497.1 523.7,1494.8 524.3,1492.5 525.3,1490.2 525.7,1487.9 526.2,1485.6 526.7,1483.3 527.2,1481.0 527.8,1478.7 528.3,1476.5 528.7,1474.2 529.3,1471.9 530.2,1469.6 530.7,1467.3 531.7,1465.0 533.0,1462.7 534.0,1460.4 534.6,1458.1 535.5,1455.8 536.7,1453.6 537.9,1451.3 539.5,1449.0 541.0,1446.7 542.7,1444.4 544.8,1442.1 547.6,1439.8 550.3,1437.5 553.8,1435.2 556.7,1432.9 560.0,1430.6 563.6,1428.4 567.3,1426.1 570.7,1423.8 573.8,1421.5 576.4,1419.2 579.0,1416.9 581.0,1414.6 583.1,1412.3 584.8,1410.0 586.4,1407.7 588.0,1405.5 589.4,1403.2 590.5,1400.9 591.6,1398.6 592.6,1396.3 593.2,1394.0 594.3,1391.7 595.0,1389.4 596.5,1387.1 597.2,1384.8 598.1,1382.5 599.1,1380.3 599.8,1378.0 601.2,1375.7 602.1,1373.4 603.3,1371.1 604.6,1368.8 605.6,1366.5 605.9,1364.2 607.0,1361.9 608.2,1359.6 609.1,1357.4 610.4,1355.1 611.9,1352.8 613.2,1350.5 614.0,1348.2 614.8,1345.9 616.2,1343.6 617.4,1341.3 618.4,1339.0 619.3,1336.7 620.8,1334.4 622.2,1332.2 623.3,1329.9 624.4,1327.6 625.3,1325.3 626.4,1323.0 627.3,1320.7 628.8,1318.4 629.6,1316.1 630.7,1313.8 631.9,1311.5 633.1,1309.2 634.5,1307.0 635.6,1304.7 636.3,1302.4 637.4,1300.1 638.4,1297.8 639.8,1295.5 640.4,1293.2 641.6,1290.9 642.9,1288.6 644.6,1286.3 646.4,1284.1 648.5,1281.8 651.6,1279.5 654.1,1277.2 656.9,1274.9 658.9,1272.6 660.7,1270.3 662.7,1268.0 664.7,1265.7 666.5,1263.4 668.2,1261.1 670.0,1258.9 671.6,1256.6 673.5,1254.3 675.2,1252.0 676.7,1249.7 678.3,1247.4 679.2,1245.1 680.7,1242.8 682.5,1240.5 683.7,1238.2 685.4,1236.0 686.8,1233.7 688.1,1231.4 689.3,1229.1 690.4,1226.8 691.6,1224.5 692.8,1222.2 694.5,1219.9 695.9,1217.6 697.4,1215.3 698.5,1213.0 700.0,1210.8 701.7,1208.5 702.9,1206.2 704.2,1203.9 705.6,1201.6 707.4,1199.3 708.8,1197.0 710.2,1194.7 711.7,1192.4 712.4,1190.1 713.5,1187.9 714.2,1185.6 715.6,1183.3 716.9,1181.0 718.4,1178.7 719.8,1176.4 720.9,1174.1 722.7,1171.8 724.4,1169.5 726.0,1167.2 728.0,1164.9 730.8,1162.7 733.5,1160.4 736.5,1158.1 739.0,1155.8"/>
<path fill="none" stroke="#1c1c24" stroke-width="1.5" d="M742.1,1151.9 L746.9,1146.6 L746.2,1135.7 Q747.5,1132 751.2,1128.5 L754.5,1128"/>
<line x1="242" y1="1510.0500000000002" x2="899" y2="1510.0500000000002" stroke="#231f20" stroke-width="3.3" stroke-dasharray="3.4 6.4"/>
<line x1="242" y1="1433.7" x2="899" y2="1433.7" stroke="#231f20" stroke-width="3.3" stroke-dasharray="3.4 6.4"/>
<line x1="242" y1="1357.3500000000001" x2="899" y2="1357.3500000000001" stroke="#231f20" stroke-width="3.3" stroke-dasharray="3.4 6.4"/>
<line x1="242" y1="1281.0" x2="899" y2="1281.0" stroke="#231f20" stroke-width="3.3" stroke-dasharray="3.4 6.4"/>
<line x1="242" y1="1204.65" x2="899" y2="1204.65" stroke="#231f20" stroke-width="3.3" stroke-dasharray="3.4 6.4"/>
<line x1="242" y1="1128.3000000000002" x2="899" y2="1128.3000000000002" stroke="#231f20" stroke-width="3.3" stroke-dasharray="3.4 6.4"/>
<rect x="215" y="1098" width="704" height="518" fill="none" stroke="#231f20" stroke-width="4"/>
<line x1="215" y1="1586.4" x2="237.5" y2="1586.4" stroke="#231f20" stroke-width="3.6"/>
<line x1="896.5" y1="1586.4" x2="919" y2="1586.4" stroke="#231f20" stroke-width="3.6"/>
<line x1="215" y1="1548.2250000000001" x2="227" y2="1548.2250000000001" stroke="#231f20" stroke-width="3.6"/>
<line x1="907" y1="1548.2250000000001" x2="919" y2="1548.2250000000001" stroke="#231f20" stroke-width="3.6"/>
<line x1="215" y1="1510.0500000000002" x2="237.5" y2="1510.0500000000002" stroke="#231f20" stroke-width="3.6"/>
<line x1="896.5" y1="1510.0500000000002" x2="919" y2="1510.0500000000002" stroke="#231f20" stroke-width="3.6"/>
<line x1="215" y1="1471.875" x2="227" y2="1471.875" stroke="#231f20" stroke-width="3.6"/>
<line x1="907" y1="1471.875" x2="919" y2="1471.875" stroke="#231f20" stroke-width="3.6"/>
<line x1="215" y1="1433.7" x2="237.5" y2="1433.7" stroke="#231f20" stroke-width="3.6"/>
<line x1="896.5" y1="1433.7" x2="919" y2="1433.7" stroke="#231f20" stroke-width="3.6"/>
<line x1="215" y1="1395.525" x2="227" y2="1395.525" stroke="#231f20" stroke-width="3.6"/>
<line x1="907" y1="1395.525" x2="919" y2="1395.525" stroke="#231f20" stroke-width="3.6"/>
<line x1="215" y1="1357.3500000000001" x2="237.5" y2="1357.3500000000001" stroke="#231f20" stroke-width="3.6"/>
<line x1="896.5" y1="1357.3500000000001" x2="919" y2="1357.3500000000001" stroke="#231f20" stroke-width="3.6"/>
<line x1="215" y1="1319.1750000000002" x2="227" y2="1319.1750000000002" stroke="#231f20" stroke-width="3.6"/>
<line x1="907" y1="1319.1750000000002" x2="919" y2="1319.1750000000002" stroke="#231f20" stroke-width="3.6"/>
<line x1="215" y1="1281.0" x2="237.5" y2="1281.0" stroke="#231f20" stroke-width="3.6"/>
<line x1="896.5" y1="1281.0" x2="919" y2="1281.0" stroke="#231f20" stroke-width="3.6"/>
<line x1="215" y1="1242.825" x2="227" y2="1242.825" stroke="#231f20" stroke-width="3.6"/>
<line x1="907" y1="1242.825" x2="919" y2="1242.825" stroke="#231f20" stroke-width="3.6"/>
<line x1="215" y1="1204.65" x2="237.5" y2="1204.65" stroke="#231f20" stroke-width="3.6"/>
<line x1="896.5" y1="1204.65" x2="919" y2="1204.65" stroke="#231f20" stroke-width="3.6"/>
<line x1="215" y1="1166.4750000000001" x2="227" y2="1166.4750000000001" stroke="#231f20" stroke-width="3.6"/>
<line x1="907" y1="1166.4750000000001" x2="919" y2="1166.4750000000001" stroke="#231f20" stroke-width="3.6"/>
<line x1="215" y1="1128.3000000000002" x2="237.5" y2="1128.3000000000002" stroke="#231f20" stroke-width="3.6"/>
<line x1="896.5" y1="1128.3000000000002" x2="919" y2="1128.3000000000002" stroke="#231f20" stroke-width="3.6"/>
<line x1="243.14999999999998" y1="1616" x2="243.14999999999998" y2="1607" stroke="#231f20" stroke-width="3.4"/>
<line x1="243.14999999999998" y1="1098" x2="243.14999999999998" y2="1107" stroke="#231f20" stroke-width="3.4"/>
<line x1="298.0" y1="1616" x2="298.0" y2="1597" stroke="#231f20" stroke-width="3.4"/>
<line x1="298.0" y1="1098" x2="298.0" y2="1117" stroke="#231f20" stroke-width="3.4"/>
<line x1="352.84999999999997" y1="1616" x2="352.84999999999997" y2="1607" stroke="#231f20" stroke-width="3.4"/>
<line x1="352.84999999999997" y1="1098" x2="352.84999999999997" y2="1107" stroke="#231f20" stroke-width="3.4"/>
<line x1="407.7" y1="1616" x2="407.7" y2="1607" stroke="#231f20" stroke-width="3.4"/>
<line x1="407.7" y1="1098" x2="407.7" y2="1107" stroke="#231f20" stroke-width="3.4"/>
<line x1="462.54999999999995" y1="1616" x2="462.54999999999995" y2="1607" stroke="#231f20" stroke-width="3.4"/>
<line x1="462.54999999999995" y1="1098" x2="462.54999999999995" y2="1107" stroke="#231f20" stroke-width="3.4"/>
<line x1="517.4" y1="1616" x2="517.4" y2="1597" stroke="#231f20" stroke-width="3.4"/>
<line x1="517.4" y1="1098" x2="517.4" y2="1117" stroke="#231f20" stroke-width="3.4"/>
<line x1="572.25" y1="1616" x2="572.25" y2="1607" stroke="#231f20" stroke-width="3.4"/>
<line x1="572.25" y1="1098" x2="572.25" y2="1107" stroke="#231f20" stroke-width="3.4"/>
<line x1="627.1" y1="1616" x2="627.1" y2="1607" stroke="#231f20" stroke-width="3.4"/>
<line x1="627.1" y1="1098" x2="627.1" y2="1107" stroke="#231f20" stroke-width="3.4"/>
<line x1="681.95" y1="1616" x2="681.95" y2="1607" stroke="#231f20" stroke-width="3.4"/>
<line x1="681.95" y1="1098" x2="681.95" y2="1107" stroke="#231f20" stroke-width="3.4"/>
<line x1="736.8" y1="1616" x2="736.8" y2="1597" stroke="#231f20" stroke-width="3.4"/>
<line x1="736.8" y1="1098" x2="736.8" y2="1117" stroke="#231f20" stroke-width="3.4"/>
<line x1="791.65" y1="1616" x2="791.65" y2="1607" stroke="#231f20" stroke-width="3.4"/>
<line x1="791.65" y1="1098" x2="791.65" y2="1107" stroke="#231f20" stroke-width="3.4"/>
<line x1="846.5" y1="1616" x2="846.5" y2="1607" stroke="#231f20" stroke-width="3.4"/>
<line x1="846.5" y1="1098" x2="846.5" y2="1107" stroke="#231f20" stroke-width="3.4"/>
<line x1="901.3499999999999" y1="1616" x2="901.3499999999999" y2="1607" stroke="#231f20" stroke-width="3.4"/>
<line x1="901.3499999999999" y1="1098" x2="901.3499999999999" y2="1107" stroke="#231f20" stroke-width="3.4"/>
<line x1="214" y1="1586.4" x2="250" y2="1586.4" stroke="#d43a24" stroke-width="2.6"/>
<line x1="218.2" y1="1586.4" x2="899" y2="1586.4" stroke="#231f20" stroke-width="3.3" stroke-dasharray="3.4 6.4"/>
<text transform="translate(304.5,1442.5) rotate(-65.2)" font-size="38.5" fill="#231f20" stroke="#231f20" stroke-width="0.9"><tspan font-style="italic">V</tspan><tspan font-size="20" dy="6">SD</tspan><tspan dy="-6"> = + 10 mV</tspan></text>
<text transform="translate(757,1519.5) rotate(-63.1)" font-size="38.5" fill="#231f20" stroke="#231f20" stroke-width="0.9"><tspan font-style="italic">V</tspan><tspan font-size="20" dy="6">SD</tspan><tspan dy="-6"> = &#8211; 8 mV</tspan></text>
<text x="86.50" y="37.65" font-size="48.00" font-weight="normal" font-style="normal" fill="#231f20" stroke="#231f20" stroke-width="0.6">(a)</text>
<text x="86.12" y="1039.37" font-size="48.45" font-weight="normal" font-style="normal" fill="#231f20" stroke="#231f20" stroke-width="0.6">(b)</text>
<text x="95.79" y="156.90" font-size="41.67" font-weight="normal" font-style="normal" fill="#231f20" stroke="#231f20" stroke-width="0.9">9</text>
<text x="94.12" y="290.61" font-size="43.75" font-weight="normal" font-style="normal" fill="#231f20" stroke="#231f20" stroke-width="0.9">6</text>
<text x="92.56" y="423.45" font-size="42.61" font-weight="normal" font-style="normal" fill="#231f20" stroke="#231f20" stroke-width="0.9">3</text>
<text x="92.94" y="561.35" font-size="42.61" font-weight="normal" font-style="normal" fill="#231f20" stroke="#231f20" stroke-width="0.9">0</text>
<text x="83.55" y="694.92" font-size="43.18" font-weight="normal" font-style="normal" fill="#231f20" stroke="#231f20" stroke-width="0.9">-3</text>
<text x="85.58" y="825.29" font-size="41.06" font-weight="normal" font-style="normal" fill="#231f20" stroke="#231f20" stroke-width="0.9">-6</text>
<text x="279.24" y="963.94" font-size="40.49" font-weight="normal" font-style="normal" fill="#231f20" stroke="#231f20" stroke-width="0.9">0</text>
<text x="411.71" y="963.68" font-size="41.27" font-weight="normal" font-style="normal" fill="#231f20" stroke="#231f20" stroke-width="0.9">0.5</text>
<text x="600.68" y="962.68" font-size="36.70" font-weight="normal" font-style="normal" fill="#231f20" stroke="#231f20" stroke-width="0.9">1</text>
<text x="746.08" y="963.79" font-size="41.60" font-weight="normal" font-style="normal" fill="#231f20" stroke="#231f20" stroke-width="0.9">1.5</text>
<text x="488.27" y="1022.64" font-size="45.06" font-weight="bold" fill="#231f20" stroke="#231f20" stroke-width="0.3">V<tspan font-size="20.28" dx="0.45" dy="9.01">G1</tspan><tspan dx="3.60" dy="-9.01">+V</tspan><tspan font-size="20.28" dy="9.01">G2</tspan><tspan dx="6.31" dy="-9.01">(V)</tspan></text>
<text x="424.98" y="1728.10" font-size="45.13" font-weight="bold" fill="#231f20" stroke="#231f20" stroke-width="0.3">V<tspan font-size="20.31" dx="0.45" dy="9.03">G1</tspan><tspan dx="3.61" dy="-9.03">+V</tspan><tspan font-size="20.31" dy="9.03">G2</tspan><tspan dx="6.32" dy="-9.03">(V)</tspan></text>
<text transform="translate(34.15,627.50) rotate(-90)" font-size="41.91" font-weight="bold" fill="#231f20" stroke="#231f20" stroke-width="0.3">V<tspan font-size="20.95" dy="7.54">SD</tspan><tspan dy="-7.54"> (mV)</tspan></text>
<text transform="translate(106.49,1453.48) rotate(-90)" font-size="47.01" fill="#231f20" stroke="#231f20" stroke-width="0.8">G (2<tspan font-style="italic">e</tspan><tspan font-size="25.86" dy="-18.80">2</tspan><tspan dy="18.80">/</tspan><tspan font-style="italic">h</tspan>)</text>
<text x="147.94" y="1138.88" font-size="41.10" font-weight="normal" font-style="normal" fill="#231f20" stroke="#231f20" stroke-width="0.9">3.0</text>
<text x="147.38" y="1220.35" font-size="40.75" font-weight="normal" font-style="normal" fill="#231f20" stroke="#231f20" stroke-width="0.9">2.5</text>
<text x="146.59" y="1292.33" font-size="41.85" font-weight="normal" font-style="normal" fill="#231f20" stroke="#231f20" stroke-width="0.9">2.0</text>
<text x="147.06" y="1371.50" font-size="41.17" font-weight="normal" font-style="normal" fill="#231f20" stroke="#231f20" stroke-width="0.9">1.5</text>
<text x="145.36" y="1450.18" font-size="42.84" font-weight="normal" font-style="normal" fill="#231f20" stroke="#231f20" stroke-width="0.9">1.0</text>
<text x="147.52" y="1527.84" font-size="41.59" font-weight="normal" font-style="normal" fill="#231f20" stroke="#231f20" stroke-width="0.9">0.5</text>
<text x="146.59" y="1598.03" font-size="42.16" font-weight="normal" font-style="normal" fill="#231f20" stroke="#231f20" stroke-width="0.9">0.0</text>
<text x="262.70" y="1659.00" font-size="41.59" font-weight="normal" font-style="normal" fill="#231f20" stroke="#231f20" stroke-width="0.9">-2</text>
<text x="506.00" y="1663.33" font-size="40.38" font-weight="normal" font-style="normal" fill="#231f20" stroke="#231f20" stroke-width="0.9">0</text>
<text x="723.90" y="1658.47" font-size="41.11" font-weight="normal" font-style="normal" fill="#231f20" stroke="#231f20" stroke-width="0.9">2</text>
<text x="240.64" y="170.86" font-size="36.08" font-weight="normal" font-style="normal" fill="#fff">0.25</text>
<text x="538.09" y="332.52" font-size="35.65" font-weight="normal" font-style="normal" fill="#fff">1.5</text>
<text x="793.52" y="332.59" font-size="35.68" font-weight="normal" font-style="normal" fill="#fff">2.5</text>
<text x="301.91" y="424.91" font-size="35.39" font-weight="normal" font-style="normal" fill="#fff">0.85</text>
<text x="251.15" y="576.58" font-size="35.98" font-weight="normal" font-style="normal" fill="#fff">0.5</text>
<text x="406.98" y="565.42" font-size="31.60" font-weight="normal" font-style="normal" fill="#fff">1</text>
<text x="676.54" y="566.28" font-size="37.06" font-weight="normal" font-style="normal" fill="#fff">2</text>
<text x="284.33" y="705.29" font-size="36.00" font-weight="normal" font-style="normal" fill="#fff">0.85</text>
<text x="536.93" y="795.17" font-size="35.52" font-weight="normal" font-style="normal" fill="#fff">1.5</text>
<text x="791.67" y="795.71" font-size="34.47" font-weight="normal" font-style="normal" fill="#fff">2.5</text>
<text x="245.51" y="886.63" font-size="34.78" font-weight="normal" font-style="normal" fill="#fff">0.25</text>
<text x="721.25" y="129.38" font-size="44.51" fill="#fff"><tspan font-style="italic">T</tspan> = 4.2 K</text>
<text x="722.36" y="187.49" font-size="43.98" fill="#fff">&#916;<tspan font-style="italic">V</tspan><tspan font-size="19.79" dy="8.80">G</tspan><tspan dy="-8.80">= 8 V</tspan></text>
<text x="751.86" y="1137.80" font-size="45.07" fill="#231f20"><tspan font-style="italic" stroke="#231f20" stroke-width="1.3">V</tspan><tspan font-size="21.18" dx="-0.90" dy="8.11" stroke="#231f20" stroke-width="0.6">SD</tspan></text>
<text x="824.88" y="1136.73" font-size="43.09" fill="#231f20" stroke="#231f20" stroke-width="1.4">= 0</text>
</svg></body></html>
